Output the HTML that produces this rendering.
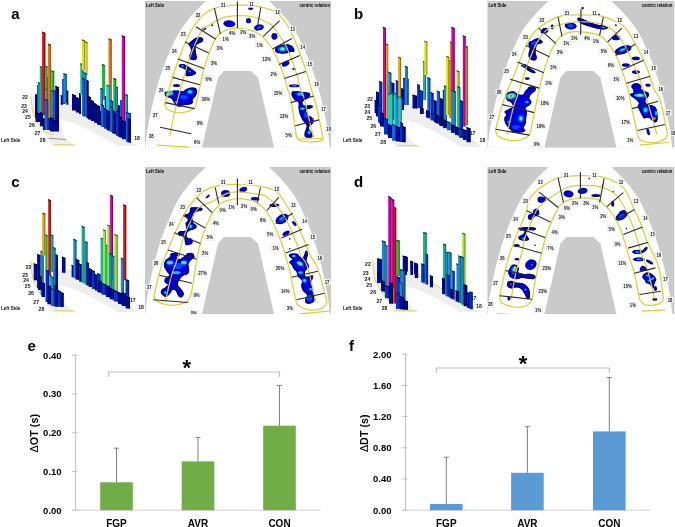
<!DOCTYPE html>
<html><head><meta charset="utf-8"><style>
html,body{margin:0;padding:0;background:#fff;}
body{width:675px;height:527px;overflow:hidden;}
svg{display:block;font-family:"Liberation Sans",sans-serif;will-change:transform;}
.tiny{font-size:5.1px;font-weight:bold;fill:#000;}
.tl{font-size:5.2px;font-weight:bold;fill:#111;text-anchor:middle;}
.l3{font-size:5.1px;font-weight:bold;fill:#111;text-anchor:middle;}
.pl{font-size:15px;font-weight:bold;fill:#000;}
.ax{font-size:9.5px;font-weight:bold;fill:#000;}
.cat{font-size:10px;font-weight:bold;fill:#000;text-anchor:middle;}
</style></head><body>
<svg width="675" height="527" viewBox="0 0 675 527">
<rect width="675" height="527" fill="#fff"/>

<text x="11.3" y="19" class="pl">a</text>
<text x="354" y="19" class="pl">b</text>
<text x="11.3" y="187.2" class="pl">c</text>
<text x="354" y="187" class="pl">d</text>
<polygon points="31,97 36,96 57,104 59,119 65,138 75,146 52,146 43,131 33,115" fill="#eeeeee"/>
<polygon points="57,103 70,104 133,143 139,146 118,146 95,133 75,123 59,119" fill="#eeeeee"/>
<path d="M30.8,94.6 C31,96.7 31.3,103.5 31.9,107.1 C32.5,110.7 33.2,113.5 34.2,116.2 C35.2,118.9 36.5,120.9 37.6,123 C38.7,125.1 39.7,127.2 41,128.7 C42.3,130.2 43.5,131.1 45.6,132.1 C47.7,133.1 52.2,134.4 53.5,134.8" fill="none" stroke="#d8d038" stroke-width="0.8"/>
<path d="M69.8,105.1 C74.8,108.1 89.6,116.8 100,123 C110.4,129.2 126.7,139.2 132,142.4" fill="none" stroke="#d8d038" stroke-width="0.8"/>
<path d="M54.4,144.5 L75,145" fill="none" stroke="#d8d038" stroke-width="0.8"/>
<polygon points="35,94 37.1,94.9 37.1,117.8 35,117.8" fill="#000a8c"/>
<polygon points="36.5,94.7 37.1,94.9 37.1,117.8 36.5,117.8" fill="#000654"/>
<polygon points="35,94 37.1,94.9 37.1,96 35,95.1" fill="#000331"/>
<polygon points="37.1,85 38.7,85.7 38.7,117.8 37.1,117.8" fill="#0532c8"/>
<polygon points="38.2,85.5 38.7,85.7 38.7,117.8 38.2,117.8" fill="#031e78"/>
<polygon points="37.1,85 38.7,85.7 38.7,86.8 37.1,86.1" fill="#011146"/>
<polygon points="37.9,82 40.9,83.3 40.9,120 37.9,120" fill="#1a8cc0"/>
<polygon points="40,82.9 40.9,83.3 40.9,120 40,120" fill="#0f5473"/>
<polygon points="37.9,82 40.9,83.3 40.9,84.4 37.9,83.1" fill="#093143"/>
<polygon points="39.8,66 42.1,67 42.1,118 39.8,118" fill="#1eb48c"/>
<polygon points="41.4,66.7 42.1,67 42.1,118 41.4,118" fill="#126c54"/>
<polygon points="39.8,66 42.1,67 42.1,68.1 39.8,67.1" fill="#0a3e31"/>
<polygon points="47,77 48.5,77.7 48.5,110 47,110" fill="#0532c8"/>
<polygon points="47,77 48.5,77.7 48.5,78.8 47,78.1" fill="#011146"/>
<polygon points="42.1,31.5 45.3,32.9 45.3,115.4 42.1,115.4" fill="#cc1818"/>
<polygon points="44.3,32.5 45.3,32.9 45.3,115.4 44.3,115.4" fill="#7a0e0e"/>
<polygon points="42.1,31.5 45.3,32.9 45.3,34 42.1,32.6" fill="#470808"/>
<polygon points="45.3,65.7 47.4,66.6 47.4,110 45.3,110" fill="#22c03c"/>
<polygon points="46.8,66.4 47.4,66.6 47.4,110 46.8,110" fill="#147324"/>
<polygon points="45.3,65.7 47.4,66.6 47.4,67.7 45.3,66.8" fill="#0b4315"/>
<polygon points="45.1,88.5 47,89.4 47,112 45.1,112" fill="#28c8c8"/>
<polygon points="46.4,89.1 47,89.4 47,112 46.4,112" fill="#187878"/>
<polygon points="45.1,88.5 47,89.4 47,90.5 45.1,89.6" fill="#0e4646"/>
<polygon points="47.8,43.4 50.8,44.8 50.8,118.7 47.8,118.7" fill="#da7a1e"/>
<polygon points="49.9,44.3 50.8,44.8 50.8,118.7 49.9,118.7" fill="#824912"/>
<polygon points="47.8,43.4 50.8,44.8 50.8,45.9 47.8,44.5" fill="#4c2a0a"/>
<polygon points="51.2,70.2 54.2,71.5 54.2,112 51.2,112" fill="#22c03c"/>
<polygon points="53.3,71.1 54.2,71.5 54.2,112 53.3,112" fill="#147324"/>
<polygon points="51.2,70.2 54.2,71.5 54.2,72.6 51.2,71.3" fill="#0b4315"/>
<polygon points="51,90 54,91.3 54,118 51,118" fill="#1a8cc0"/>
<polygon points="53.1,90.9 54,91.3 54,118 53.1,118" fill="#0f5473"/>
<polygon points="51,90 54,91.3 54,92.4 51,91.1" fill="#093143"/>
<polygon points="54.2,90 56.1,90.9 56.1,125 54.2,125" fill="#0532c8"/>
<polygon points="55.5,90.6 56.1,90.9 56.1,125 55.5,125" fill="#031e78"/>
<polygon points="54.2,90 56.1,90.9 56.1,92 54.2,91.1" fill="#011146"/>
<polygon points="55.3,85.8 58.8,87.2 58.8,128 55.3,128" fill="#000a8c"/>
<polygon points="57.8,86.8 58.8,87.2 58.8,128 57.8,128" fill="#000654"/>
<polygon points="55.3,85.8 58.8,87.2 58.8,88.3 55.3,86.9" fill="#000331"/>
<polygon points="44.5,98.8 48.2,100.2 48.2,130 44.5,130" fill="#1464d2"/>
<polygon points="47.2,99.8 48.2,100.2 48.2,130 47.2,130" fill="#0c3c7e"/>
<polygon points="44.5,98.8 48.2,100.2 48.2,101.3 44.5,99.9" fill="#072349"/>
<polygon points="35.5,112 40,113.4 40,122 35.5,122" fill="#000a8c"/>
<polygon points="39,113.1 40,113.4 40,122 39,122" fill="#000654"/>
<polygon points="35.5,112 40,113.4 40,114.5 35.5,113.1" fill="#000331"/>
<polygon points="40,112 43,113.3 43,126.3 40,126.3" fill="#000a8c"/>
<polygon points="42.1,112.9 43,113.3 43,126.3 42.1,126.3" fill="#000654"/>
<polygon points="40,112 43,113.3 43,114.4 40,113.1" fill="#000331"/>
<polygon points="43,118 44.6,118.7 44.6,130.1 43,130.1" fill="#000a8c"/>
<polygon points="44.1,118.5 44.6,118.7 44.6,130.1 44.1,130.1" fill="#000654"/>
<polygon points="43,118 44.6,118.7 44.6,119.8 43,119.1" fill="#000331"/>
<polygon points="48.2,118 50,118.8 50,130.1 48.2,130.1" fill="#000a8c"/>
<polygon points="49.5,118.6 50,118.8 50,130.1 49.5,130.1" fill="#000654"/>
<polygon points="48.2,118 50,118.8 50,119.9 48.2,119.1" fill="#000331"/>
<polygon points="50,117 54,118.4 54,131.5 50,131.5" fill="#000a8c"/>
<polygon points="53,118 54,118.4 54,131.5 53,131.5" fill="#000654"/>
<polygon points="50,117 54,118.4 54,119.5 50,118.1" fill="#000331"/>
<polygon points="54,120 58.7,121.4 58.7,131.5 54,131.5" fill="#000a8c"/>
<polygon points="57.7,121.1 58.7,121.4 58.7,131.5 57.7,131.5" fill="#000654"/>
<polygon points="54,120 58.7,121.4 58.7,122.5 54,121.1" fill="#000331"/>
<polygon points="60.7,94.9 62.9,95.9 62.9,104.7 60.7,104.7" fill="#000a8c"/>
<polygon points="62.2,95.6 62.9,95.9 62.9,104.7 62.2,104.7" fill="#000654"/>
<polygon points="60.7,94.9 62.9,95.9 62.9,97 60.7,96" fill="#000331"/>
<polygon points="62.2,79 65.2,80.3 65.2,104 62.2,104" fill="#0532c8"/>
<polygon points="64.3,79.9 65.2,80.3 65.2,104 64.3,104" fill="#031e78"/>
<polygon points="62.2,79 65.2,80.3 65.2,81.4 62.2,80.1" fill="#011146"/>
<polygon points="63.3,72.9 66.7,74.3 66.7,103 63.3,103" fill="#1a8cc0"/>
<polygon points="65.7,73.9 66.7,74.3 66.7,103 65.7,103" fill="#0f5473"/>
<polygon points="63.3,72.9 66.7,74.3 66.7,75.4 63.3,74" fill="#093143"/>
<polygon points="66.4,90.3 68.2,91.1 68.2,104.7 66.4,104.7" fill="#000a8c"/>
<polygon points="67.7,90.9 68.2,91.1 68.2,104.7 67.7,104.7" fill="#000654"/>
<polygon points="66.4,90.3 68.2,91.1 68.2,92.2 66.4,91.4" fill="#000331"/>
<polygon points="72,94 76,95.4 76,110.4 72,110.4" fill="#000a8c"/>
<polygon points="75,95 76,95.4 76,110.4 75,110.4" fill="#000654"/>
<polygon points="72,94 76,95.4 76,96.5 72,95.1" fill="#000331"/>
<polygon points="76,97 79,98.3 79,112.4 76,112.4" fill="#000a8c"/>
<polygon points="78.1,97.9 79,98.3 79,112.4 78.1,112.4" fill="#000654"/>
<polygon points="76,97 79,98.3 79,99.4 76,98.1" fill="#000331"/>
<polygon points="79,93 81,93.9 81,113.9 79,113.9" fill="#000a8c"/>
<polygon points="80.4,93.6 81,93.9 81,113.9 80.4,113.9" fill="#000654"/>
<polygon points="79,93 81,93.9 81,95 79,94.1" fill="#000331"/>
<polygon points="80.3,63.2 83.5,64.6 83.5,95 80.3,95" fill="#1eb48c"/>
<polygon points="82.5,64.2 83.5,64.6 83.5,95 82.5,95" fill="#126c54"/>
<polygon points="80.3,63.2 83.5,64.6 83.5,65.7 80.3,64.3" fill="#0a3e31"/>
<polygon points="81.9,39.3 85.2,40.7 85.2,70 81.9,70" fill="#e2e022"/>
<polygon points="84.2,40.3 85.2,40.7 85.2,70 84.2,70" fill="#878614"/>
<polygon points="81.9,39.3 85.2,40.7 85.2,41.8 81.9,40.4" fill="#4f4e0b"/>
<polygon points="85.2,41.3 87.4,42.3 87.4,75 85.2,75" fill="#e2e022"/>
<polygon points="86.7,42 87.4,42.3 87.4,75 86.7,75" fill="#878614"/>
<polygon points="85.2,41.3 87.4,42.3 87.4,43.4 85.2,42.4" fill="#4f4e0b"/>
<polygon points="83.3,71.9 86.5,73.3 86.5,116.8 83.3,116.8" fill="#1a8cc0"/>
<polygon points="85.5,72.9 86.5,73.3 86.5,116.8 85.5,116.8" fill="#0f5473"/>
<polygon points="83.3,71.9 86.5,73.3 86.5,74.4 83.3,73" fill="#093143"/>
<polygon points="82,77.8 85,79.1 85,115.9 82,115.9" fill="#1464d2"/>
<polygon points="84.1,78.7 85,79.1 85,115.9 84.1,115.9" fill="#0c3c7e"/>
<polygon points="82,77.8 85,79.1 85,80.2 82,78.9" fill="#072349"/>
<polygon points="86.5,80 88.5,80.9 88.5,118.2 86.5,118.2" fill="#000a8c"/>
<polygon points="87.9,80.6 88.5,80.9 88.5,118.2 87.9,118.2" fill="#000654"/>
<polygon points="86.5,80 88.5,80.9 88.5,82 86.5,81.1" fill="#000331"/>
<polygon points="88,96 91,97.3 91,119.4 88,119.4" fill="#000a8c"/>
<polygon points="90.1,96.9 91,97.3 91,119.4 90.1,119.4" fill="#000654"/>
<polygon points="88,96 91,97.3 91,98.4 88,97.1" fill="#000331"/>
<polygon points="91,100 94,101.3 94,121.1 91,121.1" fill="#000a8c"/>
<polygon points="93.1,100.9 94,101.3 94,121.1 93.1,121.1" fill="#000654"/>
<polygon points="91,100 94,101.3 94,102.4 91,101.1" fill="#000331"/>
<polygon points="94,103 97,104.3 97,122.8 94,122.8" fill="#000a8c"/>
<polygon points="96.1,103.9 97,104.3 97,122.8 96.1,122.8" fill="#000654"/>
<polygon points="94,103 97,104.3 97,105.4 94,104.1" fill="#000331"/>
<polygon points="97,105 100,106.3 100,124.6 97,124.6" fill="#000a8c"/>
<polygon points="99.1,105.9 100,106.3 100,124.6 99.1,124.6" fill="#000654"/>
<polygon points="97,105 100,106.3 100,107.4 97,106.1" fill="#000331"/>
<polygon points="101.9,63.9 104.6,65.1 104.6,100 101.9,100" fill="#22c03c"/>
<polygon points="103.8,64.8 104.6,65.1 104.6,100 103.8,100" fill="#147324"/>
<polygon points="101.9,63.9 104.6,65.1 104.6,66.2 101.9,65" fill="#0b4315"/>
<polygon points="100.3,87.8 103,89 103,126.3 100.3,126.3" fill="#1a8cc0"/>
<polygon points="102.2,88.7 103,89 103,126.3 102.2,126.3" fill="#0f5473"/>
<polygon points="100.3,87.8 103,89 103,90.1 100.3,88.9" fill="#093143"/>
<polygon points="104.6,96 106.2,96.7 106.2,128.6 104.6,128.6" fill="#0532c8"/>
<polygon points="105.7,96.5 106.2,96.7 106.2,128.6 105.7,128.6" fill="#031e78"/>
<polygon points="104.6,96 106.2,96.7 106.2,97.8 104.6,97.1" fill="#011146"/>
<polygon points="108.5,38.2 111.6,39.6 111.6,105 108.5,105" fill="#da7a1e"/>
<polygon points="110.7,39.2 111.6,39.6 111.6,105 110.7,105" fill="#824912"/>
<polygon points="108.5,38.2 111.6,39.6 111.6,40.7 108.5,39.3" fill="#4c2a0a"/>
<polygon points="106.2,84.5 110.2,85.9 110.2,130.1 106.2,130.1" fill="#28c8c8"/>
<polygon points="109.2,85.5 110.2,85.9 110.2,130.1 109.2,130.1" fill="#187878"/>
<polygon points="106.2,84.5 110.2,85.9 110.2,87 106.2,85.6" fill="#0e4646"/>
<polygon points="110.2,100 113.2,101.3 113.2,132.1 110.2,132.1" fill="#1464d2"/>
<polygon points="112.3,100.9 113.2,101.3 113.2,132.1 112.3,132.1" fill="#0c3c7e"/>
<polygon points="110.2,100 113.2,101.3 113.2,102.4 110.2,101.1" fill="#072349"/>
<polygon points="113.2,77.8 116.2,79.1 116.2,115 113.2,115" fill="#22c03c"/>
<polygon points="115.3,78.7 116.2,79.1 116.2,115 115.3,115" fill="#147324"/>
<polygon points="113.2,77.8 116.2,79.1 116.2,80.2 113.2,78.9" fill="#0b4315"/>
<polygon points="115.8,86.5 118,87.5 118,135.3 115.8,135.3" fill="#1a8cc0"/>
<polygon points="117.3,87.2 118,87.5 118,135.3 117.3,135.3" fill="#0f5473"/>
<polygon points="115.8,86.5 118,87.5 118,88.6 115.8,87.6" fill="#093143"/>
<polygon points="121.8,35.3 125.1,36.7 125.1,125 121.8,125" fill="#c40aa8"/>
<polygon points="124.1,36.3 125.1,36.7 125.1,125 124.1,125" fill="#750664"/>
<polygon points="121.8,35.3 125.1,36.7 125.1,37.8 121.8,36.4" fill="#44033a"/>
<polygon points="118,105 121,106.3 121,136.7 118,136.7" fill="#000a8c"/>
<polygon points="120.1,105.9 121,106.3 121,136.7 120.1,136.7" fill="#000654"/>
<polygon points="118,105 121,106.3 121,107.4 118,106.1" fill="#000331"/>
<polygon points="120,100 122,100.9 122,137.6 120,137.6" fill="#1464d2"/>
<polygon points="121.4,100.6 122,100.9 122,137.6 121.4,137.6" fill="#0c3c7e"/>
<polygon points="120,100 122,100.9 122,102 120,101.1" fill="#072349"/>
<polygon points="125.1,93.8 128,95.1 128,133 125.1,133" fill="#1eb48c"/>
<polygon points="127.1,94.7 128,95.1 128,133 127.1,133" fill="#126c54"/>
<polygon points="125.1,93.8 128,95.1 128,96.2 125.1,94.9" fill="#0a3e31"/>
<polygon points="112,110 115,111.3 115,133.3 112,133.3" fill="#000a8c"/>
<polygon points="114.1,110.9 115,111.3 115,133.3 114.1,133.3" fill="#000654"/>
<polygon points="112,110 115,111.3 115,112.4 112,111.1" fill="#000331"/>
<polygon points="116,112 119,113.3 119,135.6 116,135.6" fill="#0532c8"/>
<polygon points="118.1,112.9 119,113.3 119,135.6 118.1,135.6" fill="#031e78"/>
<polygon points="116,112 119,113.3 119,114.4 116,113.1" fill="#011146"/>
<polygon points="122,120 126,121.4 126,139.3 122,139.3" fill="#000a8c"/>
<polygon points="125,121 126,121.4 126,139.3 125,139.3" fill="#000654"/>
<polygon points="122,120 126,121.4 126,122.5 122,121.1" fill="#000331"/>
<polygon points="126,112 131,113.4 131,141.9 126,141.9" fill="#1464d2"/>
<polygon points="130,113.1 131,113.4 131,141.9 130,141.9" fill="#0c3c7e"/>
<polygon points="126,112 131,113.4 131,114.5 126,113.1" fill="#072349"/>
<polygon points="127.5,118 131,119.4 131,142.5 127.5,142.5" fill="#000a8c"/>
<polygon points="130,119 131,119.4 131,142.5 130,142.5" fill="#000654"/>
<polygon points="127.5,118 131,119.4 131,120.5 127.5,119.1" fill="#000331"/>
<polygon points="98,110 101,111.3 101,125.1 98,125.1" fill="#000a8c"/>
<polygon points="100.1,110.9 101,111.3 101,125.1 100.1,125.1" fill="#000654"/>
<polygon points="98,110 101,111.3 101,112.4 98,111.1" fill="#000331"/>
<polygon points="101,104 104,105.3 104,126.9 101,126.9" fill="#1464d2"/>
<polygon points="103.1,104.9 104,105.3 104,126.9 103.1,126.9" fill="#0c3c7e"/>
<polygon points="101,104 104,105.3 104,106.4 101,105.1" fill="#072349"/>
<polygon points="104,108 107,109.3 107,128.6 104,128.6" fill="#0532c8"/>
<polygon points="106.1,108.9 107,109.3 107,128.6 106.1,128.6" fill="#031e78"/>
<polygon points="104,108 107,109.3 107,110.4 104,109.1" fill="#011146"/>
<polygon points="107,110 110,111.3 110,130.4 107,130.4" fill="#000a8c"/>
<polygon points="109.1,110.9 110,111.3 110,130.4 109.1,130.4" fill="#000654"/>
<polygon points="107,110 110,111.3 110,112.4 107,111.1" fill="#000331"/>
<polygon points="110,106 113,107.3 113,132.1 110,132.1" fill="#1464d2"/>
<polygon points="112.1,106.9 113,107.3 113,132.1 112.1,132.1" fill="#0c3c7e"/>
<polygon points="110,106 113,107.3 113,108.4 110,107.1" fill="#072349"/>
<polygon points="113,112 116,113.3 116,133.8 113,133.8" fill="#000a8c"/>
<polygon points="115.1,112.9 116,113.3 116,133.8 115.1,133.8" fill="#000654"/>
<polygon points="113,112 116,113.3 116,114.4 113,113.1" fill="#000331"/>
<polygon points="116,110 119,111.3 119,135.6 116,135.6" fill="#0532c8"/>
<polygon points="118.1,110.9 119,111.3 119,135.6 118.1,135.6" fill="#031e78"/>
<polygon points="116,110 119,111.3 119,112.4 116,111.1" fill="#011146"/>
<polygon points="119,116 122,117.3 122,137.3 119,137.3" fill="#000a8c"/>
<polygon points="121.1,116.9 122,117.3 122,137.3 121.1,137.3" fill="#000654"/>
<polygon points="119,116 122,117.3 122,118.4 119,117.1" fill="#000331"/>
<text x="25" y="99.2" class="l3">22</text>
<text x="24" y="107.5" class="l3">23</text>
<text x="25" y="113.2" class="l3">24</text>
<text x="27.9" y="119.4" class="l3">25</text>
<text x="31.9" y="126.5" class="l3">26</text>
<text x="37.6" y="135.1" class="l3">27</text>
<text x="42.7" y="141.9" class="l3">28</text>
<text x="137" y="140.1" class="l3">18</text>
<text x="1" y="142.3" class="l3" style="font-size:4.6px;text-anchor:start">Left Side</text>
<line x1="48.7" y1="138.2" x2="65.8" y2="139.6" stroke="#555" stroke-width="0.6"/>
<rect x="145" y="1" width="186" height="146.4" fill="#cacaca"/>
<path d="M206,1 L196.7,10 L187.7,20 L180.4,30 L174.9,40 L170.5,50 L166,60 L162.5,70 L159,80 L156.2,90 L153.5,100 L151,111 L148.8,122 L147,132 L145.8,142 L145.3,147.4 L329.7,147.4 L329.2,142 L328,132 L326.2,122 L324,111 L321.5,100 L318.8,90 L316,80 L312.5,70 L309,60 L304.5,50 L300.1,40 L294.6,30 L287.3,20 L278.3,10 L269,1Z" fill="#fff"/>
<polygon points="224,71 251,71 258,77.5 274,147.4 202,147.4 218,77.5" fill="#cacaca"/>
<g transform="translate(229.3,23.7) rotate(5)"><ellipse rx="6" ry="3.4" fill="#000088"/><ellipse rx="4.9" ry="2.3" fill="#0000ee"/></g>
<g transform="translate(250.7,8.6) rotate(0)"><ellipse rx="2.6" ry="1.4" fill="#000088"/><ellipse rx="1.5" ry="0.6" fill="#0000ee"/></g>
<g transform="translate(248.5,20.7) rotate(0)"><ellipse rx="2.5" ry="2.6" fill="#000088"/><ellipse rx="1.4" ry="1.5" fill="#0000ee"/></g>
<g transform="translate(258.9,27.4) rotate(-10)"><ellipse rx="5" ry="3" fill="#000088"/><ellipse rx="3.9" ry="1.9" fill="#0000ee"/><ellipse rx="2.5" ry="1.5" fill="#0048ff"/></g>
<g transform="translate(274.4,36.3) rotate(0)"><ellipse rx="3" ry="3.4" fill="#000088"/><ellipse rx="1.9" ry="2.3" fill="#0000ee"/></g>
<g transform="translate(204,28.9) rotate(-20)"><ellipse rx="2.4" ry="1.5" fill="#000088"/><ellipse rx="1.3" ry="0.6" fill="#0000ee"/></g>
<g transform="translate(212.2,25.2) rotate(0)"><ellipse rx="1" ry="1" fill="#000088"/></g>
<clipPath id="bp1"><path d="M203.3,38.9 C203.3,39.6 203.1,41 202.1,41.9 C201.1,42.8 198.5,43.2 197.4,44.2 C196.3,45.2 195.8,46.2 195.6,47.8 C195.4,49.4 196,51.9 196.2,53.7 C196.4,55.5 197.2,57.3 196.8,58.4 C196.4,59.5 195.1,60.1 193.9,60.2 C192.7,60.3 190.5,59.7 189.7,59 C188.9,58.3 188.9,57.4 189.1,56.1 C189.3,54.8 190.7,52.8 190.9,51.3 C191.1,49.8 190.7,48.4 190.3,47.2 C189.9,46 188.4,45.2 188.5,44.2 C188.6,43.2 189.8,42.3 190.9,41.3 C192,40.3 193.7,39 195,38.3 C196.3,37.6 197.4,37.4 198.6,37.3 C199.8,37.2 201.3,37.4 202.1,37.7 C202.9,38 203.3,38.2 203.3,38.9Z"/></clipPath><path d="M203.3,38.9 C203.3,39.6 203.1,41 202.1,41.9 C201.1,42.8 198.5,43.2 197.4,44.2 C196.3,45.2 195.8,46.2 195.6,47.8 C195.4,49.4 196,51.9 196.2,53.7 C196.4,55.5 197.2,57.3 196.8,58.4 C196.4,59.5 195.1,60.1 193.9,60.2 C192.7,60.3 190.5,59.7 189.7,59 C188.9,58.3 188.9,57.4 189.1,56.1 C189.3,54.8 190.7,52.8 190.9,51.3 C191.1,49.8 190.7,48.4 190.3,47.2 C189.9,46 188.4,45.2 188.5,44.2 C188.6,43.2 189.8,42.3 190.9,41.3 C192,40.3 193.7,39 195,38.3 C196.3,37.6 197.4,37.4 198.6,37.3 C199.8,37.2 201.3,37.4 202.1,37.7 C202.9,38 203.3,38.2 203.3,38.9Z" fill="#0000e4" stroke="#00008a" stroke-width="3.6" stroke-linejoin="round" clip-path="url(#bp1)"/>
<clipPath id="bp2"><path d="M179,65 C179.6,64.5 181.9,64 183.2,64.1 C184.5,64.2 185.5,65 186.7,65.6 C187.9,66.2 189,67 190.3,67.9 C191.6,68.8 193.4,70.1 194.4,70.9 C195.4,71.7 196.3,72 196.2,72.7 C196.1,73.4 195.1,74.4 193.9,75 C192.7,75.6 190.5,76.1 189.1,76.2 C187.7,76.3 186.1,76.4 185.6,75.6 C185.1,74.8 186.5,72.7 186.1,71.5 C185.7,70.3 184.3,69.2 183.2,68.5 C182.1,67.8 180.3,67.9 179.6,67.3 C178.9,66.7 178.4,65.5 179,65Z"/></clipPath><path d="M179,65 C179.6,64.5 181.9,64 183.2,64.1 C184.5,64.2 185.5,65 186.7,65.6 C187.9,66.2 189,67 190.3,67.9 C191.6,68.8 193.4,70.1 194.4,70.9 C195.4,71.7 196.3,72 196.2,72.7 C196.1,73.4 195.1,74.4 193.9,75 C192.7,75.6 190.5,76.1 189.1,76.2 C187.7,76.3 186.1,76.4 185.6,75.6 C185.1,74.8 186.5,72.7 186.1,71.5 C185.7,70.3 184.3,69.2 183.2,68.5 C182.1,67.8 180.3,67.9 179.6,67.3 C178.9,66.7 178.4,65.5 179,65Z" fill="#0000e4" stroke="#00008a" stroke-width="3.6" stroke-linejoin="round" clip-path="url(#bp2)"/>
<g transform="translate(182.5,66) rotate(0)"><ellipse rx="2" ry="1" fill="#0048ff"/><ellipse rx="1.2" ry="0.6" fill="#00c8f0"/></g>
<g transform="translate(189.5,71.5) rotate(0)"><ellipse rx="1.5" ry="1" fill="#0048ff"/><ellipse rx="0.9" ry="0.6" fill="#00c8f0"/></g>
<g transform="translate(176.5,85.6) rotate(0)"><ellipse rx="3.5" ry="1.5" fill="#000088"/><ellipse rx="2.4" ry="0.6" fill="#0000ee"/></g>
<clipPath id="bp3"><path d="M164.6,92.6 C165,91.7 166.6,91.6 168.6,91.3 C170.6,91 174.3,90.6 176.6,90.6 C178.9,90.6 181,91.5 182.6,91.3 C184.2,91.1 184.7,89.9 185.9,89.3 C187.1,88.7 188.4,87.9 189.9,87.7 C191.4,87.5 194,87.5 195.2,88 C196.4,88.5 197.1,89.3 197.2,90.6 C197.3,91.9 196.6,94.5 195.8,96 C195,97.5 192.9,98.8 192.5,99.9 C192.1,101 193.6,101.8 193.2,102.6 C192.8,103.4 191.4,104.2 189.9,104.6 C188.4,105 185.5,104.9 183.9,105.2 C182.3,105.5 181.8,106.5 180.6,106.6 C179.4,106.7 177.7,106.6 176.6,105.9 C175.5,105.2 174.8,103.8 173.9,102.6 C173,101.4 172.6,99.6 171.3,98.6 C170,97.6 167,97.6 165.9,96.6 C164.8,95.6 164.2,93.5 164.6,92.6Z"/></clipPath><path d="M164.6,92.6 C165,91.7 166.6,91.6 168.6,91.3 C170.6,91 174.3,90.6 176.6,90.6 C178.9,90.6 181,91.5 182.6,91.3 C184.2,91.1 184.7,89.9 185.9,89.3 C187.1,88.7 188.4,87.9 189.9,87.7 C191.4,87.5 194,87.5 195.2,88 C196.4,88.5 197.1,89.3 197.2,90.6 C197.3,91.9 196.6,94.5 195.8,96 C195,97.5 192.9,98.8 192.5,99.9 C192.1,101 193.6,101.8 193.2,102.6 C192.8,103.4 191.4,104.2 189.9,104.6 C188.4,105 185.5,104.9 183.9,105.2 C182.3,105.5 181.8,106.5 180.6,106.6 C179.4,106.7 177.7,106.6 176.6,105.9 C175.5,105.2 174.8,103.8 173.9,102.6 C173,101.4 172.6,99.6 171.3,98.6 C170,97.6 167,97.6 165.9,96.6 C164.8,95.6 164.2,93.5 164.6,92.6Z" fill="#0000e4" stroke="#00008a" stroke-width="3.6" stroke-linejoin="round" clip-path="url(#bp3)"/>
<g transform="translate(169.5,93.5) rotate(-20)"><ellipse rx="4" ry="2.2" fill="#00c8f0"/><ellipse rx="2.5" ry="1.4" fill="#40f080"/><ellipse rx="1.5" ry="0.8" fill="#ff8000"/></g>
<g transform="translate(190,91.8) rotate(0)"><ellipse rx="3.5" ry="2.5" fill="#0048ff"/><ellipse rx="2.2" ry="1.6" fill="#00c8f0"/><ellipse rx="1.3" ry="1" fill="#40f080"/></g>
<g transform="translate(176,102) rotate(0)"><ellipse rx="1" ry="1" fill="#ff8000"/></g>
<g transform="translate(184,97) rotate(0)"><ellipse rx="4" ry="2" fill="#0048ff"/></g>
<clipPath id="bp4"><path d="M274.9,50.1 C274.9,49 276.1,47.5 277.3,46.6 C278.5,45.7 280.2,45.2 282,44.8 C283.8,44.4 286.2,44 287.9,44.2 C289.6,44.4 291,45.1 292.1,46 C293.2,46.9 294.1,48.6 294.4,49.6 C294.7,50.6 294.5,51.5 293.9,51.9 C293.3,52.3 291.9,51.7 290.9,51.9 C289.9,52.1 289.4,52.8 287.9,53.1 C286.4,53.4 283.8,53.7 282,53.7 C280.2,53.7 278.5,53.7 277.3,53.1 C276.1,52.5 274.9,51.2 274.9,50.1Z"/></clipPath><path d="M274.9,50.1 C274.9,49 276.1,47.5 277.3,46.6 C278.5,45.7 280.2,45.2 282,44.8 C283.8,44.4 286.2,44 287.9,44.2 C289.6,44.4 291,45.1 292.1,46 C293.2,46.9 294.1,48.6 294.4,49.6 C294.7,50.6 294.5,51.5 293.9,51.9 C293.3,52.3 291.9,51.7 290.9,51.9 C289.9,52.1 289.4,52.8 287.9,53.1 C286.4,53.4 283.8,53.7 282,53.7 C280.2,53.7 278.5,53.7 277.3,53.1 C276.1,52.5 274.9,51.2 274.9,50.1Z" fill="#0000e4" stroke="#00008a" stroke-width="3.6" stroke-linejoin="round" clip-path="url(#bp4)"/>
<g transform="translate(282.5,49) rotate(0)"><ellipse rx="5" ry="3" fill="#0048ff"/><ellipse rx="3.1" ry="1.9" fill="#00c8f0"/><ellipse rx="1.9" ry="1.2" fill="#40f080"/><ellipse rx="1.2" ry="0.7" fill="#f0f000"/></g>
<g transform="translate(285.6,63.8) rotate(-25)"><ellipse rx="4" ry="2.5" fill="#000088"/><ellipse rx="2.9" ry="1.4" fill="#0000ee"/></g>
<g transform="translate(294.1,68.9) rotate(0)"><ellipse rx="2" ry="1" fill="#000088"/></g>
<g transform="translate(294.4,85.7) rotate(0)"><ellipse rx="5.5" ry="1.5" fill="#000088"/><ellipse rx="4.4" ry="0.6" fill="#0000ee"/><ellipse rx="2.8" ry="0.8" fill="#0048ff"/><ellipse rx="1.9" ry="0.5" fill="#00b8f0"/></g>
<clipPath id="bp5"><path d="M291.9,92 C292.6,91.2 293.9,91.3 295.9,91.3 C297.9,91.3 301.6,91.7 303.9,92 C306.2,92.3 308.9,92.4 309.8,93.3 C310.7,94.2 310,96.2 309.2,97.3 C308.4,98.4 306.3,99.1 305.2,99.9 C304.1,100.7 302.7,101 302.5,101.9 C302.3,102.8 302.6,104.7 303.9,105.2 C305.2,105.8 308.9,105 310.5,105.2 C312.1,105.4 313.2,106 313.2,106.6 C313.2,107.2 311.6,108 310.5,108.6 C309.4,109.1 307.1,108.9 306.5,109.9 C305.9,110.9 306.3,113.4 307.2,114.6 C308.1,115.8 310.7,116.3 311.8,117.2 C312.9,118.1 313.7,118.8 313.8,119.9 C313.9,121 313.2,122.9 312.5,123.9 C311.8,124.9 310.4,124.9 309.8,125.8 C309.2,126.7 308.8,128 309.2,129.2 C309.6,130.4 311.8,132 312.5,133.2 C313.2,134.4 313.8,135.7 313.2,136.5 C312.6,137.3 310.5,137.7 309.2,137.8 C307.9,137.9 306,137.9 305.2,137.1 C304.4,136.3 304.4,134.5 304.5,133.2 C304.6,131.9 305.5,130.5 305.8,129.2 C306.1,127.9 307.1,126.8 306.5,125.2 C305.9,123.7 303.6,121.7 302.5,119.9 C301.4,118.1 300.6,116.5 299.9,114.6 C299.2,112.7 298.7,110.6 298.5,108.6 C298.3,106.6 299.1,104 298.5,102.6 C297.9,101.1 295.7,101 294.6,99.9 C293.5,98.8 292.3,97.3 291.9,96 C291.4,94.7 291.2,92.8 291.9,92Z"/></clipPath><path d="M291.9,92 C292.6,91.2 293.9,91.3 295.9,91.3 C297.9,91.3 301.6,91.7 303.9,92 C306.2,92.3 308.9,92.4 309.8,93.3 C310.7,94.2 310,96.2 309.2,97.3 C308.4,98.4 306.3,99.1 305.2,99.9 C304.1,100.7 302.7,101 302.5,101.9 C302.3,102.8 302.6,104.7 303.9,105.2 C305.2,105.8 308.9,105 310.5,105.2 C312.1,105.4 313.2,106 313.2,106.6 C313.2,107.2 311.6,108 310.5,108.6 C309.4,109.1 307.1,108.9 306.5,109.9 C305.9,110.9 306.3,113.4 307.2,114.6 C308.1,115.8 310.7,116.3 311.8,117.2 C312.9,118.1 313.7,118.8 313.8,119.9 C313.9,121 313.2,122.9 312.5,123.9 C311.8,124.9 310.4,124.9 309.8,125.8 C309.2,126.7 308.8,128 309.2,129.2 C309.6,130.4 311.8,132 312.5,133.2 C313.2,134.4 313.8,135.7 313.2,136.5 C312.6,137.3 310.5,137.7 309.2,137.8 C307.9,137.9 306,137.9 305.2,137.1 C304.4,136.3 304.4,134.5 304.5,133.2 C304.6,131.9 305.5,130.5 305.8,129.2 C306.1,127.9 307.1,126.8 306.5,125.2 C305.9,123.7 303.6,121.7 302.5,119.9 C301.4,118.1 300.6,116.5 299.9,114.6 C299.2,112.7 298.7,110.6 298.5,108.6 C298.3,106.6 299.1,104 298.5,102.6 C297.9,101.1 295.7,101 294.6,99.9 C293.5,98.8 292.3,97.3 291.9,96 C291.4,94.7 291.2,92.8 291.9,92Z" fill="#0000e4" stroke="#00008a" stroke-width="3.6" stroke-linejoin="round" clip-path="url(#bp5)"/>
<g transform="translate(300,94) rotate(0)"><ellipse rx="4" ry="2" fill="#0048ff"/><ellipse rx="2.5" ry="1.2" fill="#00c8f0"/></g>
<g transform="translate(302.5,95.3) rotate(0)"><ellipse rx="1" ry="1" fill="#ff8000"/></g>
<g transform="translate(302.5,108.6) rotate(0)"><ellipse rx="2.5" ry="1.2" fill="#00c8f0"/><ellipse rx="1.6" ry="0.7" fill="#40f080"/></g>
<g transform="translate(313,119.5) rotate(0)"><ellipse rx="1" ry="1" fill="#ff00c0"/></g>
<g transform="translate(309.2,132.5) rotate(0)"><ellipse rx="2" ry="2" fill="#0048ff"/><ellipse rx="1.2" ry="1.2" fill="#00c8f0"/><ellipse rx="0.8" ry="0.8" fill="#40f080"/></g>
<g transform="translate(306,115) rotate(0)"><ellipse rx="2" ry="3" fill="#0048ff"/></g>
<text transform="translate(146,6.9) scale(0.84,1)" class="tiny">Left Side</text>
<text transform="translate(330,6.9) scale(0.84,1)" class="tiny" text-anchor="end">centric relation</text>
<path d="M164.6,104 C165.3,101.7 167.7,94.5 169,90 C170.3,85.5 170.9,82 172.5,77 C174.1,72 176.2,65.8 178.4,60 C180.6,54.2 183.4,47 185.6,42 C187.8,37 188.8,34.3 191.5,30 C194.2,25.7 198,19.9 201.9,16.3 C205.8,12.7 209.3,9.9 215.2,8.1 C221.1,6.2 230,5.4 237.4,5.2 C244.8,5 252.9,5.3 259.6,6.7 C266.3,8.1 272.5,9.8 277.4,13.3 C282.3,16.9 285.9,22.9 289,28 C292.1,33.1 294,38.7 296.2,44 C298.4,49.3 300.1,54 302.1,59.6 C304.1,65.2 306.5,72.3 308.1,77.4 C309.7,82.5 310.3,85.6 311.6,90 C312.9,94.4 313.9,96 315.8,104 C317.7,112 321.9,132.2 323.1,137.8" fill="none" stroke="#d8d038" stroke-width="1.25"/>
<path d="M323.1,137.8 C322.8,138.3 323.6,139.9 321.5,140.6 C319.4,141.3 314.1,141.8 310.5,141.8 C306.9,141.8 302.2,141.3 299.9,140.5 C297.6,139.7 297.1,137.7 296.5,137.1" fill="none" stroke="#d8d038" stroke-width="1.25"/>
<path d="M296.5,137.1 C295.6,131.1 292.6,109.1 291.2,101.3 C289.8,93.5 289,94 287.9,90 C286.8,86 285.8,81.7 284.4,77.4 C283,73.1 281.6,69.1 279.6,64.4 C277.6,59.7 275.3,53.5 272.5,49 C269.7,44.5 266.1,40.1 263,37.1 C259.9,34.1 257.9,32.7 253.6,31.2 C249.3,29.7 241.8,28.4 237.4,28.1 C233,27.8 230.4,28.1 227,29.6 C223.6,31.1 219.6,33.2 216.7,37 C213.8,40.8 211.3,47.5 209.3,52.5 C207.3,57.5 206,61.5 204.5,66.7 C203,72 201.9,77.6 200.5,84 C199.1,90.4 196.6,101.7 195.8,105.2" fill="none" stroke="#d8d038" stroke-width="1.25"/>
<path d="M195.8,105.2 C195.5,105.8 195.6,107.5 193.9,108.6 C192.2,109.7 188.8,111.2 185.9,111.9 C183,112.6 179.7,113 176.6,112.6 C173.5,112.1 169.3,110.6 167.3,109.2 C165.3,107.8 165.1,104.9 164.6,104" fill="none" stroke="#d8d038" stroke-width="1.25"/>
<path d="M169.9,135.8 C170.7,131.8 172.9,119.5 174.6,111.9 C176.3,104.3 178.6,96.2 180.2,90 C181.8,83.8 182.9,80.1 184.4,75 C185.9,69.9 187.3,64.7 189.1,59.6 C190.9,54.5 192.8,49.1 195,44.2 C197.2,39.3 199.7,33.2 202.1,30 C204.5,26.8 205.9,27.2 209.3,25.2 C212.7,23.2 217.9,19.4 222.6,17.8 C227.3,16.2 232.2,15.7 237.4,15.6 C242.6,15.5 248.3,15.7 253.7,17 C259.1,18.4 266.4,21.5 270,23.7 C273.6,25.9 273.1,26.8 275.5,30 C277.9,33.2 281.9,38.6 284.4,43 C286.9,47.4 288.3,51.1 290.3,56.1 C292.3,61.1 294.4,67 296.2,72.7 C298,78.4 299.6,85.5 301,90 C302.4,94.5 302.5,92.1 304.5,99.9 C306.5,107.8 311.8,130.9 313.2,137.1" fill="none" stroke="#d8d038" stroke-width="1.25"/>
<path d="M156.6,145.1 L189.2,147.1" fill="none" stroke="#d8d038" stroke-width="1.25"/>
<path d="M298.5,139.1 L322.5,138.5" fill="none" stroke="#d8d038" stroke-width="1.25"/>
<line x1="237.4" y1="1.5" x2="237.4" y2="28.1" stroke="#2a2a2a" stroke-width="1.1"/>
<line x1="214.4" y1="8.1" x2="220.4" y2="34" stroke="#2a2a2a" stroke-width="1.1"/>
<line x1="260.8" y1="7.4" x2="256.7" y2="31" stroke="#2a2a2a" stroke-width="1.1"/>
<line x1="279.6" y1="20.7" x2="263.3" y2="36.3" stroke="#2a2a2a" stroke-width="1.1"/>
<line x1="195.9" y1="26.7" x2="215.9" y2="39.3" stroke="#2a2a2a" stroke-width="1.1"/>
<line x1="185" y1="41.9" x2="208.7" y2="53.1" stroke="#2a2a2a" stroke-width="1.1"/>
<line x1="177.9" y1="59" x2="203.9" y2="68.5" stroke="#2a2a2a" stroke-width="1.1"/>
<line x1="172.5" y1="77.4" x2="199.8" y2="84.8" stroke="#2a2a2a" stroke-width="1.1"/>
<line x1="165.3" y1="102.6" x2="194.5" y2="108.6" stroke="#2a2a2a" stroke-width="1.1"/>
<line x1="160" y1="127.2" x2="191.2" y2="133.8" stroke="#2a2a2a" stroke-width="1.1"/>
<line x1="272.5" y1="49" x2="292" y2="38.5" stroke="#2a2a2a" stroke-width="1.1"/>
<line x1="279" y1="64.4" x2="299.8" y2="55.5" stroke="#2a2a2a" stroke-width="1.1"/>
<line x1="284.4" y1="78.6" x2="305.7" y2="71.5" stroke="#2a2a2a" stroke-width="1.1"/>
<line x1="290.6" y1="102.6" x2="313.8" y2="96" stroke="#2a2a2a" stroke-width="1.1"/>
<line x1="295.2" y1="125.8" x2="319.1" y2="119.9" stroke="#2a2a2a" stroke-width="1.1"/>
<rect x="219.9" y="2.4" width="6.7" height="5.6" fill="#fff" stroke="#e2e2e2" stroke-width="0.5"/>
<text transform="translate(223.3,7.1) scale(0.82,1)" class="tl">21</text>
<rect x="248.1" y="1.6" width="6.7" height="5.6" fill="#fff" stroke="#e2e2e2" stroke-width="0.5"/>
<text transform="translate(251.5,6.3) scale(0.82,1)" class="tl">11</text>
<rect x="194.6" y="12" width="6.7" height="5.6" fill="#fff" stroke="#e2e2e2" stroke-width="0.5"/>
<text transform="translate(198,16.7) scale(0.82,1)" class="tl">22</text>
<rect x="274" y="8.8" width="6.7" height="5.6" fill="#fff" stroke="#e2e2e2" stroke-width="0.5"/>
<text transform="translate(277.4,13.5) scale(0.82,1)" class="tl">12</text>
<rect x="179.8" y="31.7" width="6.7" height="5.6" fill="#fff" stroke="#e2e2e2" stroke-width="0.5"/>
<text transform="translate(183.2,36.4) scale(0.82,1)" class="tl">23</text>
<rect x="170.9" y="48.3" width="6.7" height="5.6" fill="#fff" stroke="#e2e2e2" stroke-width="0.5"/>
<text transform="translate(174.3,53) scale(0.82,1)" class="tl">24</text>
<rect x="164.4" y="65.4" width="6.7" height="5.6" fill="#fff" stroke="#e2e2e2" stroke-width="0.5"/>
<text transform="translate(167.8,70.1) scale(0.82,1)" class="tl">25</text>
<rect x="157.9" y="86.8" width="6.7" height="5.6" fill="#fff" stroke="#e2e2e2" stroke-width="0.5"/>
<text transform="translate(161.3,91.5) scale(0.82,1)" class="tl">26</text>
<rect x="151.9" y="112" width="6.7" height="5.6" fill="#fff" stroke="#e2e2e2" stroke-width="0.5"/>
<text transform="translate(155.3,116.7) scale(0.82,1)" class="tl">27</text>
<rect x="147.9" y="133.7" width="6.7" height="5.6" fill="#fff" stroke="#e2e2e2" stroke-width="0.5"/>
<text transform="translate(151.3,138.4) scale(0.82,1)" class="tl">28</text>
<rect x="289.2" y="26.6" width="6.7" height="5.6" fill="#fff" stroke="#e2e2e2" stroke-width="0.5"/>
<text transform="translate(292.6,31.3) scale(0.82,1)" class="tl">13</text>
<rect x="299.3" y="44.4" width="6.7" height="5.6" fill="#fff" stroke="#e2e2e2" stroke-width="0.5"/>
<text transform="translate(302.7,49.1) scale(0.82,1)" class="tl">14</text>
<rect x="306.5" y="61" width="6.7" height="5.6" fill="#fff" stroke="#e2e2e2" stroke-width="0.5"/>
<text transform="translate(309.9,65.7) scale(0.82,1)" class="tl">15</text>
<rect x="313.1" y="81.5" width="6.7" height="5.6" fill="#fff" stroke="#e2e2e2" stroke-width="0.5"/>
<text transform="translate(316.5,86.2) scale(0.82,1)" class="tl">16</text>
<rect x="320.1" y="105.8" width="6.7" height="5.6" fill="#fff" stroke="#e2e2e2" stroke-width="0.5"/>
<text transform="translate(323.5,110.5) scale(0.82,1)" class="tl">17</text>
<rect x="325" y="126.6" width="6.7" height="5.6" fill="#fff" stroke="#e2e2e2" stroke-width="0.5"/>
<text transform="translate(328.4,131.3) scale(0.82,1)" class="tl">18</text>
<rect x="228.1" y="30.5" width="8.2" height="5.6" fill="#fff" stroke="#e2e2e2" stroke-width="0.5"/>
<text transform="translate(232.2,35.2) scale(0.82,1)" class="tl">4%</text>
<rect x="239.2" y="29.1" width="8.2" height="5.6" fill="#fff" stroke="#e2e2e2" stroke-width="0.5"/>
<text transform="translate(243.3,33.8) scale(0.82,1)" class="tl">2%</text>
<rect x="248.1" y="33.5" width="8.2" height="5.6" fill="#fff" stroke="#e2e2e2" stroke-width="0.5"/>
<text transform="translate(252.2,38.2) scale(0.82,1)" class="tl">3%</text>
<rect x="221.5" y="36.5" width="8.2" height="5.6" fill="#fff" stroke="#e2e2e2" stroke-width="0.5"/>
<text transform="translate(225.6,41.2) scale(0.82,1)" class="tl">1%</text>
<rect x="255.5" y="42.4" width="8.2" height="5.6" fill="#fff" stroke="#e2e2e2" stroke-width="0.5"/>
<text transform="translate(259.6,47.1) scale(0.82,1)" class="tl">1%</text>
<rect x="215.5" y="45.3" width="8.2" height="5.6" fill="#fff" stroke="#e2e2e2" stroke-width="0.5"/>
<text transform="translate(219.6,50) scale(0.82,1)" class="tl">3%</text>
<rect x="209.9" y="60.2" width="8.2" height="5.6" fill="#fff" stroke="#e2e2e2" stroke-width="0.5"/>
<text transform="translate(214,64.9) scale(0.82,1)" class="tl">3%</text>
<rect x="204.6" y="75.8" width="8.2" height="5.6" fill="#fff" stroke="#e2e2e2" stroke-width="0.5"/>
<text transform="translate(208.7,80.5) scale(0.82,1)" class="tl">6%</text>
<rect x="200.5" y="96.5" width="10.5" height="5.6" fill="#fff" stroke="#e2e2e2" stroke-width="0.5"/>
<text transform="translate(205.8,101.2) scale(0.82,1)" class="tl">30%</text>
<rect x="195.7" y="120.4" width="8.2" height="5.6" fill="#fff" stroke="#e2e2e2" stroke-width="0.5"/>
<text transform="translate(199.8,125.1) scale(0.82,1)" class="tl">0%</text>
<rect x="193.1" y="139.7" width="8.2" height="5.6" fill="#fff" stroke="#e2e2e2" stroke-width="0.5"/>
<text transform="translate(197.2,144.4) scale(0.82,1)" class="tl">6%</text>
<rect x="261.3" y="56.2" width="10.5" height="5.6" fill="#fff" stroke="#e2e2e2" stroke-width="0.5"/>
<text transform="translate(266.6,60.9) scale(0.82,1)" class="tl">12%</text>
<rect x="269.6" y="71.3" width="8.2" height="5.6" fill="#fff" stroke="#e2e2e2" stroke-width="0.5"/>
<text transform="translate(273.7,76) scale(0.82,1)" class="tl">2%</text>
<rect x="272.6" y="90.5" width="10.5" height="5.6" fill="#fff" stroke="#e2e2e2" stroke-width="0.5"/>
<text transform="translate(277.9,95.2) scale(0.82,1)" class="tl">15%</text>
<rect x="278.6" y="113.1" width="10.5" height="5.6" fill="#fff" stroke="#e2e2e2" stroke-width="0.5"/>
<text transform="translate(283.9,117.8) scale(0.82,1)" class="tl">13%</text>
<rect x="284.5" y="131.9" width="8.2" height="5.6" fill="#fff" stroke="#e2e2e2" stroke-width="0.5"/>
<text transform="translate(288.6,136.6) scale(0.82,1)" class="tl">5%</text>
<polygon points="375,98 380,97 401,105 403,120 409,139 419,147 396,147 387,132 377,116" fill="#eeeeee"/>
<polygon points="401,104 414,105 477,144 483,147 462,147 439,134 419,124 403,120" fill="#eeeeee"/>
<path d="M374.8,95.6 C375,97.7 375.3,104.5 375.9,108.1 C376.5,111.7 377.2,114.5 378.2,117.2 C379.1,119.9 380.5,121.9 381.6,124 C382.7,126.1 383.7,128.2 385,129.7 C386.3,131.2 387.5,132.1 389.6,133.1 C391.7,134.1 396.2,135.4 397.5,135.8" fill="none" stroke="#d8d038" stroke-width="0.8"/>
<path d="M413.8,106.1 C418.8,109.1 433.6,117.8 444,124 C454.4,130.2 470.7,140.2 476,143.4" fill="none" stroke="#d8d038" stroke-width="0.8"/>
<path d="M398.4,145.5 L419,146" fill="none" stroke="#d8d038" stroke-width="0.8"/>
<polygon points="376,91.4 379.1,92.8 379.1,116.4 376,116.4" fill="#000a8c"/>
<polygon points="378.2,92.4 379.1,92.8 379.1,116.4 378.2,116.4" fill="#000654"/>
<polygon points="376,91.4 379.1,92.8 379.1,93.9 376,92.5" fill="#000331"/>
<polygon points="379.1,80.8 382.2,82.2 382.2,123.8 379.1,123.8" fill="#0532c8"/>
<polygon points="381.3,81.8 382.2,82.2 382.2,123.8 381.3,123.8" fill="#031e78"/>
<polygon points="379.1,80.8 382.2,82.2 382.2,83.3 379.1,81.9" fill="#011146"/>
<polygon points="382.9,26.8 386,28.2 386,126.5 382.9,126.5" fill="#c40aa8"/>
<polygon points="385.1,27.8 386,28.2 386,126.5 385.1,126.5" fill="#750664"/>
<polygon points="382.9,26.8 386,28.2 386,29.3 382.9,27.9" fill="#44033a"/>
<polygon points="386,43.5 388.2,44.5 388.2,125 386,125" fill="#deaa22"/>
<polygon points="387.5,44.2 388.2,44.5 388.2,125 387.5,125" fill="#856614"/>
<polygon points="386,43.5 388.2,44.5 388.2,45.6 386,44.6" fill="#4d3b0b"/>
<polygon points="388.2,71.6 391.3,73 391.3,120 388.2,120" fill="#1a8cc0"/>
<polygon points="390.4,72.6 391.3,73 391.3,120 390.4,120" fill="#0f5473"/>
<polygon points="388.2,71.6 391.3,73 391.3,74.1 388.2,72.7" fill="#093143"/>
<polygon points="391.3,82.3 394.3,83.6 394.3,120 391.3,120" fill="#000a8c"/>
<polygon points="393.4,83.2 394.3,83.6 394.3,120 393.4,120" fill="#000654"/>
<polygon points="391.3,82.3 394.3,83.6 394.3,84.7 391.3,83.4" fill="#000331"/>
<polygon points="395.8,80 398.9,81.4 398.9,118 395.8,118" fill="#0532c8"/>
<polygon points="398,81 398.9,81.4 398.9,118 398,118" fill="#031e78"/>
<polygon points="395.8,80 398.9,81.4 398.9,82.5 395.8,81.1" fill="#011146"/>
<polygon points="398.1,56.5 401.1,57.9 401.1,118 398.1,118" fill="#deaa22"/>
<polygon points="400.2,57.4 401.1,57.9 401.1,118 400.2,118" fill="#856614"/>
<polygon points="398.1,56.5 401.1,57.9 401.1,59 398.1,57.6" fill="#4d3b0b"/>
<polygon points="403.1,77.7 408.5,79.1 408.5,105 403.1,105" fill="#0532c8"/>
<polygon points="407.5,78.8 408.5,79.1 408.5,105 407.5,105" fill="#031e78"/>
<polygon points="403.1,77.7 408.5,79.1 408.5,80.2 403.1,78.8" fill="#011146"/>
<polygon points="404.9,65.6 407.7,66.9 407.7,105 404.9,105" fill="#1a8cc0"/>
<polygon points="406.9,66.5 407.7,66.9 407.7,105 406.9,105" fill="#0f5473"/>
<polygon points="404.9,65.6 407.7,66.9 407.7,68 404.9,66.7" fill="#093143"/>
<polygon points="401,88 404,89.3 404,110 401,110" fill="#000a8c"/>
<polygon points="403.1,88.9 404,89.3 404,110 403.1,110" fill="#000654"/>
<polygon points="401,88 404,89.3 404,90.4 401,89.1" fill="#000331"/>
<polygon points="374.6,100 378,101.4 378,113.3 374.6,113.3" fill="#000a8c"/>
<polygon points="377,101 378,101.4 378,113.3 377,113.3" fill="#000654"/>
<polygon points="374.6,100 378,101.4 378,102.5 374.6,101.1" fill="#000331"/>
<polygon points="378,104 382,105.4 382,122.5 378,122.5" fill="#0532c8"/>
<polygon points="381,105 382,105.4 382,122.5 381,122.5" fill="#031e78"/>
<polygon points="378,104 382,105.4 382,106.5 378,105.1" fill="#011146"/>
<polygon points="387.9,93.3 391.2,94.7 391.2,128 387.9,128" fill="#28c8c8"/>
<polygon points="390.2,94.3 391.2,94.7 391.2,128 390.2,128" fill="#187878"/>
<polygon points="387.9,93.3 391.2,94.7 391.2,95.8 387.9,94.4" fill="#0e4646"/>
<polygon points="389.9,92.6 393.2,94 393.2,130 389.9,130" fill="#28c8c8"/>
<polygon points="392.2,93.6 393.2,94 393.2,130 392.2,130" fill="#187878"/>
<polygon points="389.9,92.6 393.2,94 393.2,95.1 389.9,93.7" fill="#0e4646"/>
<polygon points="393.9,92.6 396.5,93.8 396.5,132 393.9,132" fill="#28c8c8"/>
<polygon points="395.7,93.4 396.5,93.8 396.5,132 395.7,132" fill="#187878"/>
<polygon points="393.9,92.6 396.5,93.8 396.5,94.9 393.9,93.7" fill="#0e4646"/>
<polygon points="396.5,97.3 399.8,98.7 399.8,134 396.5,134" fill="#1a8cc0"/>
<polygon points="398.8,98.3 399.8,98.7 399.8,134 398.8,134" fill="#0f5473"/>
<polygon points="396.5,97.3 399.8,98.7 399.8,99.8 396.5,98.4" fill="#093143"/>
<polygon points="398.5,96 401.8,97.4 401.8,134 398.5,134" fill="#28c8c8"/>
<polygon points="400.8,97 401.8,97.4 401.8,134 400.8,134" fill="#187878"/>
<polygon points="398.5,96 401.8,97.4 401.8,98.5 398.5,97.1" fill="#0e4646"/>
<polygon points="380,112 384,113.4 384,126.5 380,126.5" fill="#000a8c"/>
<polygon points="383,113 384,113.4 384,126.5 383,126.5" fill="#000654"/>
<polygon points="380,112 384,113.4 384,114.5 380,113.1" fill="#000331"/>
<polygon points="384,118 388,119.4 388,134.6 384,134.6" fill="#0532c8"/>
<polygon points="387,119 388,119.4 388,134.6 387,134.6" fill="#031e78"/>
<polygon points="384,118 388,119.4 388,120.5 384,119.1" fill="#011146"/>
<polygon points="388,124 392,125.4 392,138.1 388,138.1" fill="#000a8c"/>
<polygon points="391,125 392,125.4 392,138.1 391,138.1" fill="#000654"/>
<polygon points="388,124 392,125.4 392,126.5 388,125.1" fill="#000331"/>
<polygon points="392,124 396,125.4 396,140.8 392,140.8" fill="#1464d2"/>
<polygon points="395,125 396,125.4 396,140.8 395,140.8" fill="#0c3c7e"/>
<polygon points="392,124 396,125.4 396,126.5 392,125.1" fill="#072349"/>
<polygon points="396,126 400,127.4 400,141.5 396,141.5" fill="#000a8c"/>
<polygon points="399,127 400,127.4 400,141.5 399,141.5" fill="#000654"/>
<polygon points="396,126 400,127.4 400,128.5 396,127.1" fill="#000331"/>
<polygon points="400,122 403,123.3 403,142 400,142" fill="#0532c8"/>
<polygon points="402.1,122.9 403,123.3 403,142 402.1,142" fill="#031e78"/>
<polygon points="400,122 403,123.3 403,124.4 400,123.1" fill="#011146"/>
<polygon points="402.5,126 405.5,127.3 405.5,142.3 402.5,142.3" fill="#000a8c"/>
<polygon points="404.6,126.9 405.5,127.3 405.5,142.3 404.6,142.3" fill="#000654"/>
<polygon points="402.5,126 405.5,127.3 405.5,128.4 402.5,127.1" fill="#000331"/>
<polygon points="412.5,94.6 417.1,96 417.1,108.6 412.5,108.6" fill="#000a8c"/>
<polygon points="416.1,95.7 417.1,96 417.1,108.6 416.1,108.6" fill="#000654"/>
<polygon points="412.5,94.6 417.1,96 417.1,97.1 412.5,95.7" fill="#000331"/>
<polygon points="417.1,84 419.8,85.2 419.8,108 417.1,108" fill="#0532c8"/>
<polygon points="419,84.9 419.8,85.2 419.8,108 419,108" fill="#031e78"/>
<polygon points="417.1,84 419.8,85.2 419.8,86.3 417.1,85.1" fill="#011146"/>
<polygon points="420,90 423,91.3 423,113.8 420,113.8" fill="#0532c8"/>
<polygon points="422.1,90.9 423,91.3 423,113.8 422.1,113.8" fill="#031e78"/>
<polygon points="420,90 423,91.3 423,92.4 420,91.1" fill="#011146"/>
<polygon points="423,61 426.1,62.4 426.1,100 423,100" fill="#1eb48c"/>
<polygon points="425.2,62 426.1,62.4 426.1,100 425.2,100" fill="#126c54"/>
<polygon points="423,61 426.1,62.4 426.1,63.5 423,62.1" fill="#0a3e31"/>
<polygon points="424.3,40.5 427.3,41.9 427.3,75 424.3,75" fill="#e2e022"/>
<polygon points="426.4,41.4 427.3,41.9 427.3,75 426.4,75" fill="#878614"/>
<polygon points="424.3,40.5 427.3,41.9 427.3,43 424.3,41.6" fill="#4f4e0b"/>
<polygon points="427.3,77 430.3,78.3 430.3,118.2 427.3,118.2" fill="#1464d2"/>
<polygon points="429.4,77.9 430.3,78.3 430.3,118.2 429.4,118.2" fill="#0c3c7e"/>
<polygon points="427.3,77 430.3,78.3 430.3,79.4 427.3,78.1" fill="#072349"/>
<polygon points="430.5,92 433.5,93.3 433.5,120.1 430.5,120.1" fill="#0532c8"/>
<polygon points="432.6,92.9 433.5,93.3 433.5,120.1 432.6,120.1" fill="#031e78"/>
<polygon points="430.5,92 433.5,93.3 433.5,94.4 430.5,93.1" fill="#011146"/>
<polygon points="433.7,100 436.7,101.3 436.7,122.1 433.7,122.1" fill="#000a8c"/>
<polygon points="435.8,100.9 436.7,101.3 436.7,122.1 435.8,122.1" fill="#000654"/>
<polygon points="433.7,100 436.7,101.3 436.7,102.4 433.7,101.1" fill="#000331"/>
<polygon points="436.7,90.5 440,91.9 440,124 436.7,124" fill="#1464d2"/>
<polygon points="439,91.5 440,91.9 440,124 439,124" fill="#0c3c7e"/>
<polygon points="436.7,90.5 440,91.9 440,93 436.7,91.6" fill="#072349"/>
<polygon points="440,98 443,99.3 443,125.9 440,125.9" fill="#000a8c"/>
<polygon points="442.1,98.9 443,99.3 443,125.9 442.1,125.9" fill="#000654"/>
<polygon points="440,98 443,99.3 443,100.4 440,99.1" fill="#000331"/>
<polygon points="442.8,90 445.8,91.3 445.8,127.6 442.8,127.6" fill="#0532c8"/>
<polygon points="444.9,90.9 445.8,91.3 445.8,127.6 444.9,127.6" fill="#031e78"/>
<polygon points="442.8,90 445.8,91.3 445.8,92.4 442.8,91.1" fill="#011146"/>
<polygon points="444,85.3 447,86.6 447,128.3 444,128.3" fill="#1a8cc0"/>
<polygon points="446.1,86.2 447,86.6 447,128.3 446.1,128.3" fill="#0f5473"/>
<polygon points="444,85.3 447,86.6 447,87.7 444,86.4" fill="#093143"/>
<polygon points="446.1,55.7 449.2,57.1 449.2,115 446.1,115" fill="#e2e022"/>
<polygon points="448.3,56.7 449.2,57.1 449.2,115 448.3,115" fill="#878614"/>
<polygon points="446.1,55.7 449.2,57.1 449.2,58.2 446.1,56.8" fill="#4f4e0b"/>
<polygon points="449.2,60.3 451.1,61.2 451.1,118 449.2,118" fill="#22c03c"/>
<polygon points="450.5,60.9 451.1,61.2 451.1,118 450.5,118" fill="#147324"/>
<polygon points="449.2,60.3 451.1,61.2 451.1,62.3 449.2,61.4" fill="#0b4315"/>
<polygon points="450.1,41.3 452.7,42.5 452.7,118 450.1,118" fill="#da7a1e"/>
<polygon points="451.9,42.1 452.7,42.5 452.7,118 451.9,118" fill="#824912"/>
<polygon points="450.1,41.3 452.7,42.5 452.7,43.6 450.1,42.4" fill="#4c2a0a"/>
<polygon points="451.4,26.8 454.6,28.2 454.6,120 451.4,120" fill="#c40aa8"/>
<polygon points="453.6,27.8 454.6,28.2 454.6,120 453.6,120" fill="#750664"/>
<polygon points="451.4,26.8 454.6,28.2 454.6,29.3 451.4,27.9" fill="#44033a"/>
<polygon points="451.1,89.9 455.7,91.3 455.7,133.1 451.1,133.1" fill="#1a8cc0"/>
<polygon points="454.7,91 455.7,91.3 455.7,133.1 454.7,133.1" fill="#0f5473"/>
<polygon points="451.1,89.9 455.7,91.3 455.7,92.4 451.1,91" fill="#093143"/>
<polygon points="456.5,70.1 459.5,71.4 459.5,125 456.5,125" fill="#9ee632"/>
<polygon points="458.6,71 459.5,71.4 459.5,125 458.6,125" fill="#5e8a1e"/>
<polygon points="456.5,70.1 459.5,71.4 459.5,72.5 456.5,71.2" fill="#375011"/>
<polygon points="457.2,86.1 460.3,87.5 460.3,136.3 457.2,136.3" fill="#1eb48c"/>
<polygon points="459.4,87.1 460.3,87.5 460.3,136.3 459.4,136.3" fill="#126c54"/>
<polygon points="457.2,86.1 460.3,87.5 460.3,88.6 457.2,87.2" fill="#0a3e31"/>
<polygon points="462.8,35.2 465.6,36.5 465.6,126.5 462.8,126.5" fill="#c40aa8"/>
<polygon points="464.8,36.1 465.6,36.5 465.6,126.5 464.8,126.5" fill="#750664"/>
<polygon points="462.8,35.2 465.6,36.5 465.6,37.6 462.8,36.3" fill="#44033a"/>
<polygon points="465.6,45.8 467.9,46.8 467.9,125.2 465.6,125.2" fill="#da7a1e"/>
<polygon points="467.2,46.5 467.9,46.8 467.9,125.2 467.2,125.2" fill="#824912"/>
<polygon points="465.6,45.8 467.9,46.8 467.9,47.9 465.6,46.9" fill="#4c2a0a"/>
<polygon points="460,100 463,101.3 463,138 460,138" fill="#0532c8"/>
<polygon points="462.1,100.9 463,101.3 463,138 462.1,138" fill="#031e78"/>
<polygon points="460,100 463,101.3 463,102.4 460,101.1" fill="#011146"/>
<polygon points="420,107 423.5,108.4 423.5,114 420,114" fill="#000a8c"/>
<polygon points="422.5,108 423.5,108.4 423.5,114 422.5,114" fill="#000654"/>
<polygon points="420,107 423.5,108.4 423.5,109.5 420,108.1" fill="#000331"/>
<polygon points="426,110 429.5,111.4 429.5,117.6 426,117.6" fill="#000a8c"/>
<polygon points="428.5,111 429.5,111.4 429.5,117.6 428.5,117.6" fill="#000654"/>
<polygon points="426,110 429.5,111.4 429.5,112.5 426,111.1" fill="#000331"/>
<polygon points="431,113 434.5,114.4 434.5,120.6 431,120.6" fill="#0532c8"/>
<polygon points="433.5,114 434.5,114.4 434.5,120.6 433.5,120.6" fill="#031e78"/>
<polygon points="431,113 434.5,114.4 434.5,115.5 431,114.1" fill="#011146"/>
<polygon points="435,114 438.5,115.4 438.5,123 435,123" fill="#000a8c"/>
<polygon points="437.5,115 438.5,115.4 438.5,123 437.5,123" fill="#000654"/>
<polygon points="435,114 438.5,115.4 438.5,116.5 435,115.1" fill="#000331"/>
<polygon points="439,117 442.5,118.4 442.5,125.4 439,125.4" fill="#000a8c"/>
<polygon points="441.5,118 442.5,118.4 442.5,125.4 441.5,125.4" fill="#000654"/>
<polygon points="439,117 442.5,118.4 442.5,119.5 439,118.1" fill="#000331"/>
<polygon points="443,119 446.5,120.4 446.5,127.8 443,127.8" fill="#000a8c"/>
<polygon points="445.5,120 446.5,120.4 446.5,127.8 445.5,127.8" fill="#000654"/>
<polygon points="443,119 446.5,120.4 446.5,121.5 443,120.1" fill="#000331"/>
<polygon points="447,121 450.5,122.4 450.5,130.3 447,130.3" fill="#1464d2"/>
<polygon points="449.5,122 450.5,122.4 450.5,130.3 449.5,130.3" fill="#0c3c7e"/>
<polygon points="447,121 450.5,122.4 450.5,123.5 447,122.1" fill="#072349"/>
<polygon points="451,124 454.5,125.4 454.5,132.7 451,132.7" fill="#000a8c"/>
<polygon points="453.5,125 454.5,125.4 454.5,132.7 453.5,132.7" fill="#000654"/>
<polygon points="451,124 454.5,125.4 454.5,126.5 451,125.1" fill="#000331"/>
<polygon points="455,126 458.5,127.4 458.5,135.1 455,135.1" fill="#000a8c"/>
<polygon points="457.5,127 458.5,127.4 458.5,135.1 457.5,135.1" fill="#000654"/>
<polygon points="455,126 458.5,127.4 458.5,128.5 455,127.1" fill="#000331"/>
<polygon points="459,128 462.5,129.4 462.5,137.5 459,137.5" fill="#0532c8"/>
<polygon points="461.5,129 462.5,129.4 462.5,137.5 461.5,137.5" fill="#031e78"/>
<polygon points="459,128 462.5,129.4 462.5,130.5 459,129.1" fill="#011146"/>
<polygon points="463,129 466.5,130.4 466.5,139.9 463,139.9" fill="#000a8c"/>
<polygon points="465.5,130 466.5,130.4 466.5,139.9 465.5,139.9" fill="#000654"/>
<polygon points="463,129 466.5,130.4 466.5,131.5 463,130.1" fill="#000331"/>
<polygon points="466.5,127 470.5,128.4 470.5,142.2 466.5,142.2" fill="#000a8c"/>
<polygon points="469.5,128.1 470.5,128.4 470.5,142.2 469.5,142.2" fill="#000654"/>
<polygon points="466.5,127 470.5,128.4 470.5,129.5 466.5,128.1" fill="#000331"/>
<text x="370" y="101.1" class="l3">22</text>
<text x="367.3" y="108.4" class="l3">23</text>
<text x="367.3" y="114.3" class="l3">24</text>
<text x="369.3" y="120.3" class="l3">25</text>
<text x="373.3" y="127.6" class="l3">26</text>
<text x="377.9" y="136.2" class="l3">27</text>
<text x="383.2" y="143.6" class="l3">28</text>
<text x="472.5" y="134.9" class="l3">17</text>
<text x="482.4" y="141.6" class="l3">18</text>
<text x="343" y="142.3" class="l3" style="font-size:4.6px;text-anchor:start">Left Side</text>
<polygon points="31,263 36,262 57,270 59,285 65,304 75,312 52,312 43,297 33,281" fill="#eeeeee"/>
<polygon points="57,269 70,270 133,309 139,312 118,312 95,299 75,289 59,285" fill="#eeeeee"/>
<path d="M30.8,260.6 C31,262.7 31.3,269.5 31.9,273.1 C32.5,276.7 33.2,279.6 34.2,282.2 C35.2,284.8 36.5,286.9 37.6,289 C38.7,291.1 39.7,293.2 41,294.7 C42.3,296.2 43.5,297.1 45.6,298.1 C47.7,299.1 52.2,300.4 53.5,300.8" fill="none" stroke="#d8d038" stroke-width="0.8"/>
<path d="M69.8,271.1 C74.8,274.1 89.6,282.8 100,289 C110.4,295.2 126.7,305.2 132,308.4" fill="none" stroke="#d8d038" stroke-width="0.8"/>
<path d="M54.4,310.5 L75,311" fill="none" stroke="#d8d038" stroke-width="0.8"/>
<polygon points="33.7,263.3 37.1,264.7 37.1,280.2 33.7,280.2" fill="#000a8c"/>
<polygon points="36.1,264.3 37.1,264.7 37.1,280.2 36.1,280.2" fill="#000654"/>
<polygon points="33.7,263.3 37.1,264.7 37.1,265.8 33.7,264.4" fill="#000331"/>
<polygon points="37.1,253.9 40.5,255.3 40.5,288.1 37.1,288.1" fill="#000a8c"/>
<polygon points="39.5,254.9 40.5,255.3 40.5,288.1 39.5,288.1" fill="#000654"/>
<polygon points="37.1,253.9 40.5,255.3 40.5,256.4 37.1,255" fill="#000331"/>
<polygon points="40.5,250.5 43.6,251.9 43.6,294.7 40.5,294.7" fill="#1a8cc0"/>
<polygon points="42.7,251.5 43.6,251.9 43.6,294.7 42.7,294.7" fill="#0f5473"/>
<polygon points="40.5,250.5 43.6,251.9 43.6,253 40.5,251.6" fill="#093143"/>
<polygon points="42.2,212.4 45.3,213.8 45.3,255.6 42.2,255.6" fill="#deaa22"/>
<polygon points="44.4,213.4 45.3,213.8 45.3,255.6 44.4,255.6" fill="#856614"/>
<polygon points="42.2,212.4 45.3,213.8 45.3,214.9 42.2,213.5" fill="#4d3b0b"/>
<polygon points="45.3,234.3 47.4,235.2 47.4,269.3 45.3,269.3" fill="#22c03c"/>
<polygon points="46.8,235 47.4,235.2 47.4,269.3 46.8,269.3" fill="#147324"/>
<polygon points="45.3,234.3 47.4,235.2 47.4,236.3 45.3,235.4" fill="#0b4315"/>
<polygon points="48.2,199.1 50.8,200.3 50.8,275.3 48.2,275.3" fill="#cc1818"/>
<polygon points="50,199.9 50.8,200.3 50.8,275.3 50,275.3" fill="#7a0e0e"/>
<polygon points="48.2,199.1 50.8,200.3 50.8,201.4 48.2,200.2" fill="#470808"/>
<polygon points="50.8,234.3 53.3,235.4 53.3,271.9 50.8,271.9" fill="#1eb48c"/>
<polygon points="52.5,235.1 53.3,235.4 53.3,271.9 52.5,271.9" fill="#126c54"/>
<polygon points="50.8,234.3 53.3,235.4 53.3,236.5 50.8,235.4" fill="#0a3e31"/>
<polygon points="55,253.9 57.9,255.2 57.9,306.4 55,306.4" fill="#000a8c"/>
<polygon points="57,254.8 57.9,255.2 57.9,306.4 57,306.4" fill="#000654"/>
<polygon points="55,253.9 57.9,255.2 57.9,256.3 55,255" fill="#000331"/>
<polygon points="53,247 55.5,248.1 55.5,306.3 53,306.3" fill="#1a8cc0"/>
<polygon points="54.8,247.8 55.5,248.1 55.5,306.3 54.8,306.3" fill="#0f5473"/>
<polygon points="53,247 55.5,248.1 55.5,249.2 53,248.1" fill="#093143"/>
<polygon points="48.5,274 51.5,275.4 51.5,292 48.5,292" fill="#28c8c8"/>
<polygon points="50.6,274.9 51.5,275.4 51.5,292 50.6,292" fill="#187878"/>
<polygon points="48.5,274 51.5,275.4 51.5,276.5 48.5,275.1" fill="#0e4646"/>
<polygon points="45.6,269.3 49,270.7 49,302.1 45.6,302.1" fill="#0532c8"/>
<polygon points="48,270.3 49,270.7 49,302.1 48,302.1" fill="#031e78"/>
<polygon points="45.6,269.3 49,270.7 49,271.8 45.6,270.4" fill="#011146"/>
<polygon points="50.8,276.2 54.2,277.6 54.2,306.1 50.8,306.1" fill="#1a8cc0"/>
<polygon points="53.2,277.2 54.2,277.6 54.2,306.1 53.2,306.1" fill="#0f5473"/>
<polygon points="50.8,276.2 54.2,277.6 54.2,278.7 50.8,277.3" fill="#093143"/>
<polygon points="38,275 41.5,276.4 41.5,290 38,290" fill="#000a8c"/>
<polygon points="40.5,276 41.5,276.4 41.5,290 40.5,290" fill="#000654"/>
<polygon points="38,275 41.5,276.4 41.5,277.5 38,276.1" fill="#000331"/>
<polygon points="41.5,282 45,283.4 45,297.1 41.5,297.1" fill="#000a8c"/>
<polygon points="44,283 45,283.4 45,297.1 44,297.1" fill="#000654"/>
<polygon points="41.5,282 45,283.4 45,284.5 41.5,283.1" fill="#000331"/>
<polygon points="47.4,285 51,286.4 51,304.2 47.4,304.2" fill="#000a8c"/>
<polygon points="50,286 51,286.4 51,304.2 50,304.2" fill="#000654"/>
<polygon points="47.4,285 51,286.4 51,287.5 47.4,286.1" fill="#000331"/>
<polygon points="51,288 54.5,289.4 54.5,306.1 51,306.1" fill="#1464d2"/>
<polygon points="53.5,289 54.5,289.4 54.5,306.1 53.5,306.1" fill="#0c3c7e"/>
<polygon points="51,288 54.5,289.4 54.5,290.5 51,289.1" fill="#072349"/>
<polygon points="54.5,285 58,286.4 58,306.4 54.5,306.4" fill="#000a8c"/>
<polygon points="57,286 58,286.4 58,306.4 57,306.4" fill="#000654"/>
<polygon points="54.5,285 58,286.4 58,287.5 54.5,286.1" fill="#000331"/>
<polygon points="58,290 61,291.4 61,306.7 58,306.7" fill="#0532c8"/>
<polygon points="60.1,290.9 61,291.4 61,306.7 60.1,306.7" fill="#031e78"/>
<polygon points="58,290 61,291.4 61,292.5 58,291.1" fill="#011146"/>
<polygon points="61,292 63.6,293.2 63.6,306.9 61,306.9" fill="#000a8c"/>
<polygon points="62.8,292.8 63.6,293.2 63.6,306.9 62.8,306.9" fill="#000654"/>
<polygon points="61,292 63.6,293.2 63.6,294.3 61,293.1" fill="#000331"/>
<polygon points="61.9,256.5 65.3,257.9 65.3,272.7 61.9,272.7" fill="#000a8c"/>
<polygon points="64.3,257.5 65.3,257.9 65.3,272.7 64.3,272.7" fill="#000654"/>
<polygon points="61.9,256.5 65.3,257.9 65.3,259 61.9,257.6" fill="#000331"/>
<polygon points="71.6,264.8 74.5,266.1 74.5,277.3 71.6,277.3" fill="#000a8c"/>
<polygon points="73.6,265.7 74.5,266.1 74.5,277.3 73.6,277.3" fill="#000654"/>
<polygon points="71.6,264.8 74.5,266.1 74.5,267.2 71.6,265.9" fill="#000331"/>
<polygon points="73.3,238.7 76.4,240.1 76.4,278.3 73.3,278.3" fill="#1a8cc0"/>
<polygon points="75.5,239.7 76.4,240.1 76.4,278.3 75.5,278.3" fill="#0f5473"/>
<polygon points="73.3,238.7 76.4,240.1 76.4,241.2 73.3,239.8" fill="#093143"/>
<polygon points="75.7,258.8 79.2,260.2 79.2,279.8 75.7,279.8" fill="#000a8c"/>
<polygon points="78.2,259.8 79.2,260.2 79.2,279.8 78.2,279.8" fill="#000654"/>
<polygon points="75.7,258.8 79.2,260.2 79.2,261.3 75.7,259.9" fill="#000331"/>
<polygon points="79.2,263.6 82.8,265 82.8,281.8 79.2,281.8" fill="#000a8c"/>
<polygon points="81.8,264.6 82.8,265 82.8,281.8 81.8,281.8" fill="#000654"/>
<polygon points="79.2,263.6 82.8,265 82.8,266.1 79.2,264.7" fill="#000331"/>
<polygon points="81.6,225.6 84.5,226.9 84.5,283 81.6,283" fill="#1eb48c"/>
<polygon points="83.6,226.5 84.5,226.9 84.5,283 83.6,283" fill="#126c54"/>
<polygon points="81.6,225.6 84.5,226.9 84.5,228 81.6,226.7" fill="#0a3e31"/>
<polygon points="84.5,241 87.5,242.3 87.5,284.6 84.5,284.6" fill="#1a8cc0"/>
<polygon points="86.6,241.9 87.5,242.3 87.5,284.6 86.6,284.6" fill="#0f5473"/>
<polygon points="84.5,241 87.5,242.3 87.5,243.4 84.5,242.1" fill="#093143"/>
<polygon points="86.4,262 88.7,263 88.7,285.5 86.4,285.5" fill="#000a8c"/>
<polygon points="88,262.7 88.7,263 88.7,285.5 88,285.5" fill="#000654"/>
<polygon points="86.4,262 88.7,263 88.7,264.1 86.4,263.1" fill="#000331"/>
<polygon points="88.7,268 92,269.4 92,287.1 88.7,287.1" fill="#000a8c"/>
<polygon points="91,269 92,269.4 92,287.1 91,287.1" fill="#000654"/>
<polygon points="88.7,268 92,269.4 92,270.5 88.7,269.1" fill="#000331"/>
<polygon points="92,270 95,271.4 95,288.9 92,288.9" fill="#0532c8"/>
<polygon points="94.1,270.9 95,271.4 95,288.9 94.1,288.9" fill="#031e78"/>
<polygon points="92,270 95,271.4 95,272.5 92,271.1" fill="#011146"/>
<polygon points="95,274 98,275.4 98,290.6 95,290.6" fill="#000a8c"/>
<polygon points="97.1,274.9 98,275.4 98,290.6 97.1,290.6" fill="#000654"/>
<polygon points="95,274 98,275.4 98,276.5 95,275.1" fill="#000331"/>
<polygon points="97,273 100.6,274.4 100.6,291.9 97,291.9" fill="#0532c8"/>
<polygon points="99.6,274 100.6,274.4 100.6,291.9 99.6,291.9" fill="#031e78"/>
<polygon points="97,273 100.6,274.4 100.6,275.5 97,274.1" fill="#011146"/>
<polygon points="100.6,237.5 104.2,238.9 104.2,293.9 100.6,293.9" fill="#1eb48c"/>
<polygon points="103.2,238.5 104.2,238.9 104.2,293.9 103.2,293.9" fill="#126c54"/>
<polygon points="100.6,237.5 104.2,238.9 104.2,240 100.6,238.6" fill="#0a3e31"/>
<polygon points="103,229.2 105.8,230.5 105.8,295 103,295" fill="#9ee632"/>
<polygon points="105,230.1 105.8,230.5 105.8,295 105,295" fill="#5e8a1e"/>
<polygon points="103,229.2 105.8,230.5 105.8,231.6 103,230.3" fill="#375011"/>
<polygon points="105.8,244.6 108.9,246 108.9,296.7 105.8,296.7" fill="#1eb48c"/>
<polygon points="108,245.6 108.9,246 108.9,296.7 108,296.7" fill="#126c54"/>
<polygon points="105.8,244.6 108.9,246 108.9,247.1 105.8,245.7" fill="#0a3e31"/>
<polygon points="107.3,224.4 110.1,225.7 110.1,297.5 107.3,297.5" fill="#9ee632"/>
<polygon points="109.3,225.3 110.1,225.7 110.1,297.5 109.3,297.5" fill="#5e8a1e"/>
<polygon points="107.3,224.4 110.1,225.7 110.1,226.8 107.3,225.5" fill="#375011"/>
<polygon points="110.1,194.7 113,196 113,280 110.1,280" fill="#c40aa8"/>
<polygon points="112.1,195.6 113,196 113,280 112.1,280" fill="#750664"/>
<polygon points="110.1,194.7 113,196 113,197.1 110.1,195.8" fill="#44033a"/>
<polygon points="108.9,252.9 112.5,254.3 112.5,298.6 108.9,298.6" fill="#1a8cc0"/>
<polygon points="111.5,253.9 112.5,254.3 112.5,298.6 111.5,298.6" fill="#0f5473"/>
<polygon points="108.9,252.9 112.5,254.3 112.5,255.4 108.9,254" fill="#093143"/>
<polygon points="112.5,255.3 115.3,256.6 115.3,300.4 112.5,300.4" fill="#1a8cc0"/>
<polygon points="114.5,256.2 115.3,256.6 115.3,300.4 114.5,300.4" fill="#0f5473"/>
<polygon points="112.5,255.3 115.3,256.6 115.3,257.7 112.5,256.4" fill="#093143"/>
<polygon points="114.4,233.9 117.7,235.3 117.7,301.6 114.4,301.6" fill="#9ee632"/>
<polygon points="116.7,234.9 117.7,235.3 117.7,301.6 116.7,301.6" fill="#5e8a1e"/>
<polygon points="114.4,233.9 117.7,235.3 117.7,236.4 114.4,235" fill="#375011"/>
<polygon points="120.8,257.6 123.9,259 123.9,305.2 120.8,305.2" fill="#1a8cc0"/>
<polygon points="123,258.6 123.9,259 123.9,305.2 123,305.2" fill="#0f5473"/>
<polygon points="120.8,257.6 123.9,259 123.9,260.1 120.8,258.7" fill="#093143"/>
<polygon points="123.2,204.2 126.2,205.5 126.2,280.2 123.2,280.2" fill="#cc1818"/>
<polygon points="125.3,205.1 126.2,205.5 126.2,280.2 125.3,280.2" fill="#7a0e0e"/>
<polygon points="123.2,204.2 126.2,205.5 126.2,206.6 123.2,205.3" fill="#470808"/>
<polygon points="125.5,279 129.1,280.4 129.1,308 125.5,308" fill="#0532c8"/>
<polygon points="128.1,280 129.1,280.4 129.1,308 128.1,308" fill="#031e78"/>
<polygon points="125.5,279 129.1,280.4 129.1,281.5 125.5,280.1" fill="#011146"/>
<polygon points="98,280 102,281.4 102,292.6 98,292.6" fill="#000a8c"/>
<polygon points="101,281.1 102,281.4 102,292.6 101,292.6" fill="#000654"/>
<polygon points="98,280 102,281.4 102,282.5 98,281.1" fill="#000331"/>
<polygon points="102,283 106,284.4 106,294.8 102,294.8" fill="#0532c8"/>
<polygon points="105,284.1 106,284.4 106,294.8 105,294.8" fill="#031e78"/>
<polygon points="102,283 106,284.4 106,285.5 102,284.1" fill="#011146"/>
<polygon points="106,285 110,286.4 110,297.1 106,297.1" fill="#000a8c"/>
<polygon points="109,286.1 110,286.4 110,297.1 109,297.1" fill="#000654"/>
<polygon points="106,285 110,286.4 110,287.5 106,286.1" fill="#000331"/>
<polygon points="110,288 114,289.4 114,299.3 110,299.3" fill="#000a8c"/>
<polygon points="113,289.1 114,289.4 114,299.3 113,299.3" fill="#000654"/>
<polygon points="110,288 114,289.4 114,290.5 110,289.1" fill="#000331"/>
<polygon points="114,290 118,291.4 118,301.6 114,301.6" fill="#0532c8"/>
<polygon points="117,291.1 118,291.4 118,301.6 117,301.6" fill="#031e78"/>
<polygon points="114,290 118,291.4 118,292.5 114,291.1" fill="#011146"/>
<polygon points="118,292 122,293.4 122,303.9 118,303.9" fill="#000a8c"/>
<polygon points="121,293.1 122,293.4 122,303.9 121,303.9" fill="#000654"/>
<polygon points="118,292 122,293.4 122,294.5 118,293.1" fill="#000331"/>
<polygon points="122,292 126,293.4 126,306.1 122,306.1" fill="#000a8c"/>
<polygon points="125,293.1 126,293.4 126,306.1 125,306.1" fill="#000654"/>
<polygon points="122,292 126,293.4 126,294.5 122,293.1" fill="#000331"/>
<polygon points="126,296 130,297.4 130,308.4 126,308.4" fill="#000a8c"/>
<polygon points="129,297.1 130,297.4 130,308.4 129,308.4" fill="#000654"/>
<polygon points="126,296 130,297.4 130,298.5 126,297.1" fill="#000331"/>
<text x="28.5" y="268.6" class="l3">22</text>
<text x="25.1" y="276.6" class="l3">23</text>
<text x="26" y="282.2" class="l3">24</text>
<text x="27.7" y="288.2" class="l3">25</text>
<text x="31.1" y="295.4" class="l3">26</text>
<text x="36.2" y="303.9" class="l3">27</text>
<text x="41.4" y="311.3" class="l3">28</text>
<text x="132.8" y="301.9" class="l3">17</text>
<text x="141" y="308.8" class="l3">18</text>
<text x="1" y="309.5" class="l3" style="font-size:4.6px;text-anchor:start">Left Side</text>
<polygon points="373,263 378,262 399,270 401,285 407,304 417,312 394,312 385,297 375,281" fill="#eeeeee"/>
<polygon points="399,269 412,270 475,309 481,312 460,312 437,299 417,289 401,285" fill="#eeeeee"/>
<path d="M372.8,260.6 C373,262.7 373.3,269.5 373.9,273.1 C374.5,276.7 375.2,279.6 376.2,282.2 C377.1,284.8 378.5,286.9 379.6,289 C380.7,291.1 381.7,293.2 383,294.7 C384.3,296.2 385.5,297.1 387.6,298.1 C389.7,299.1 394.2,300.4 395.5,300.8" fill="none" stroke="#d8d038" stroke-width="0.8"/>
<path d="M411.8,271.1 C416.8,274.1 431.6,282.8 442,289 C452.4,295.2 468.7,305.2 474,308.4" fill="none" stroke="#d8d038" stroke-width="0.8"/>
<path d="M396.4,310.5 L417,311" fill="none" stroke="#d8d038" stroke-width="0.8"/>
<polygon points="377.1,258.2 382.2,259.6 382.2,283 377.1,283" fill="#000a8c"/>
<polygon points="381.2,259.3 382.2,259.6 382.2,283 381.2,283" fill="#000654"/>
<polygon points="377.1,258.2 382.2,259.6 382.2,260.7 377.1,259.3" fill="#000331"/>
<polygon points="381.9,240.3 385.6,241.7 385.6,292.3 381.9,292.3" fill="#1a8cc0"/>
<polygon points="384.6,241.3 385.6,241.7 385.6,292.3 384.6,292.3" fill="#0f5473"/>
<polygon points="381.9,240.3 385.6,241.7 385.6,242.8 381.9,241.4" fill="#093143"/>
<polygon points="384.8,244.5 387.4,245.7 387.4,296.5 384.8,296.5" fill="#1a8cc0"/>
<polygon points="386.6,245.3 387.4,245.7 387.4,296.5 386.6,296.5" fill="#0f5473"/>
<polygon points="384.8,244.5 387.4,245.7 387.4,246.8 384.8,245.6" fill="#093143"/>
<polygon points="388.2,195.9 391.2,197.2 391.2,288 388.2,288" fill="#c40aa8"/>
<polygon points="390.3,196.8 391.2,197.2 391.2,288 390.3,288" fill="#750664"/>
<polygon points="388.2,195.9 391.2,197.2 391.2,198.3 388.2,197" fill="#44033a"/>
<polygon points="391.2,198.6 394.2,199.9 394.2,288 391.2,288" fill="#c40aa8"/>
<polygon points="393.3,199.5 394.2,199.9 394.2,288 393.3,288" fill="#750664"/>
<polygon points="391.2,198.6 394.2,199.9 394.2,201 391.2,199.7" fill="#44033a"/>
<polygon points="396.2,239.4 399.7,240.8 399.7,276 396.2,276" fill="#22c03c"/>
<polygon points="398.7,240.4 399.7,240.8 399.7,276 398.7,276" fill="#147324"/>
<polygon points="396.2,239.4 399.7,240.8 399.7,241.9 396.2,240.5" fill="#0b4315"/>
<polygon points="400.2,269.3 405.3,270.7 405.3,309.3 400.2,309.3" fill="#0532c8"/>
<polygon points="404.3,270.4 405.3,270.7 405.3,309.3 404.3,309.3" fill="#031e78"/>
<polygon points="400.2,269.3 405.3,270.7 405.3,271.8 400.2,270.4" fill="#011146"/>
<polygon points="402.7,255.6 407,257 407,275 402.7,275" fill="#000a8c"/>
<polygon points="406,256.7 407,257 407,275 406,275" fill="#000654"/>
<polygon points="402.7,255.6 407,257 407,258.1 402.7,256.7" fill="#000331"/>
<polygon points="401,269.3 404.4,270.7 404.4,309.3 401,309.3" fill="#1a8cc0"/>
<polygon points="403.4,270.3 404.4,270.7 404.4,309.3 403.4,309.3" fill="#0f5473"/>
<polygon points="401,269.3 404.4,270.7 404.4,271.8 401,270.4" fill="#093143"/>
<polygon points="377,272 381,273.4 381,280.4 377,280.4" fill="#000a8c"/>
<polygon points="380,273.1 381,273.4 381,280.4 380,280.4" fill="#000654"/>
<polygon points="377,272 381,273.4 381,274.5 377,273.1" fill="#000331"/>
<polygon points="381,280 385,281.4 385,290.9 381,290.9" fill="#000a8c"/>
<polygon points="384,281.1 385,281.4 385,290.9 384,290.9" fill="#000654"/>
<polygon points="381,280 385,281.4 385,282.5 381,281.1" fill="#000331"/>
<polygon points="385,285 389,286.4 389,298.2 385,298.2" fill="#0532c8"/>
<polygon points="388,286.1 389,286.4 389,298.2 388,298.2" fill="#031e78"/>
<polygon points="385,285 389,286.4 389,287.5 385,286.1" fill="#011146"/>
<polygon points="389,290 393,291.4 393,303.4 389,303.4" fill="#000a8c"/>
<polygon points="392,291.1 393,291.4 393,303.4 392,303.4" fill="#000654"/>
<polygon points="389,290 393,291.4 393,292.5 389,291.1" fill="#000331"/>
<polygon points="396.2,276 400,277.4 400,308.7 396.2,308.7" fill="#0532c8"/>
<polygon points="399,277 400,277.4 400,308.7 399,308.7" fill="#031e78"/>
<polygon points="396.2,276 400,277.4 400,278.5 396.2,277.1" fill="#011146"/>
<polygon points="399.5,282 403,283.4 403,309.1 399.5,309.1" fill="#1a8cc0"/>
<polygon points="402,283 403,283.4 403,309.1 402,309.1" fill="#0f5473"/>
<polygon points="399.5,282 403,283.4 403,284.5 399.5,283.1" fill="#093143"/>
<polygon points="389,282 393,283.4 393,303.4 389,303.4" fill="#000a8c"/>
<polygon points="392,283.1 393,283.4 393,303.4 392,303.4" fill="#000654"/>
<polygon points="389,282 393,283.4 393,284.5 389,283.1" fill="#000331"/>
<polygon points="396,292 400,293.4 400,308.7 396,308.7" fill="#0532c8"/>
<polygon points="399,293.1 400,293.4 400,308.7 399,308.7" fill="#031e78"/>
<polygon points="396,292 400,293.4 400,294.5 396,293.1" fill="#011146"/>
<polygon points="400,296 404,297.4 404,309.2 400,309.2" fill="#000a8c"/>
<polygon points="403,297.1 404,297.4 404,309.2 403,309.2" fill="#000654"/>
<polygon points="400,296 404,297.4 404,298.5 400,297.1" fill="#000331"/>
<polygon points="404,300 408,301.4 408,309.7 404,309.7" fill="#000a8c"/>
<polygon points="407,301.1 408,301.4 408,309.7 407,309.7" fill="#000654"/>
<polygon points="404,300 408,301.4 408,302.5 404,301.1" fill="#000331"/>
<polygon points="393.3,206.6 396.2,207.9 396.2,303.5 393.3,303.5" fill="#cc1818"/>
<polygon points="395.3,207.5 396.2,207.9 396.2,303.5 395.3,303.5" fill="#7a0e0e"/>
<polygon points="393.3,206.6 396.2,207.9 396.2,209 393.3,207.7" fill="#470808"/>
<polygon points="410.4,261.6 413,262.8 413,275 410.4,275" fill="#000a8c"/>
<polygon points="412.2,262.4 413,262.8 413,275 412.2,275" fill="#000654"/>
<polygon points="410.4,261.6 413,262.8 413,263.9 410.4,262.7" fill="#000331"/>
<polygon points="414.7,263.3 418.1,264.7 418.1,278 414.7,278" fill="#000a8c"/>
<polygon points="417.1,264.3 418.1,264.7 418.1,278 417.1,278" fill="#000654"/>
<polygon points="414.7,263.3 418.1,264.7 418.1,265.8 414.7,264.4" fill="#000331"/>
<polygon points="405,256 407.7,257.2 407.7,271.4 405,271.4" fill="#000a8c"/>
<polygon points="406.9,256.9 407.7,257.2 407.7,271.4 406.9,271.4" fill="#000654"/>
<polygon points="405,256 407.7,257.2 407.7,258.3 405,257.1" fill="#000331"/>
<polygon points="410.4,260.6 413.1,261.8 413.1,270.5 410.4,270.5" fill="#000a8c"/>
<polygon points="412.3,261.5 413.1,261.8 413.1,270.5 412.3,270.5" fill="#000654"/>
<polygon points="410.4,260.6 413.1,261.8 413.1,262.9 410.4,261.7" fill="#000331"/>
<polygon points="414,262.4 417.6,263.8 417.6,274.1 414,274.1" fill="#000a8c"/>
<polygon points="416.6,263.4 417.6,263.8 417.6,274.1 416.6,274.1" fill="#000654"/>
<polygon points="414,262.4 417.6,263.8 417.6,264.9 414,263.5" fill="#000331"/>
<polygon points="423,231.7 426.6,233.1 426.6,283.5 423,283.5" fill="#1eb48c"/>
<polygon points="425.6,232.7 426.6,233.1 426.6,283.5 425.6,283.5" fill="#126c54"/>
<polygon points="423,231.7 426.6,233.1 426.6,234.2 423,232.8" fill="#0a3e31"/>
<polygon points="421.2,263.3 424.5,264.7 424.5,282.4 421.2,282.4" fill="#0532c8"/>
<polygon points="423.5,264.3 424.5,264.7 424.5,282.4 423.5,282.4" fill="#031e78"/>
<polygon points="421.2,263.3 424.5,264.7 424.5,265.8 421.2,264.4" fill="#011146"/>
<polygon points="425.7,253.4 428.1,254.5 428.1,284.6 425.7,284.6" fill="#0532c8"/>
<polygon points="427.4,254.2 428.1,254.5 428.1,284.6 427.4,284.6" fill="#031e78"/>
<polygon points="425.7,253.4 428.1,254.5 428.1,255.6 425.7,254.5" fill="#011146"/>
<polygon points="429.9,275 432.9,276.4 432.9,287.2 429.9,287.2" fill="#000a8c"/>
<polygon points="432,275.9 432.9,276.4 432.9,287.2 432,287.2" fill="#000654"/>
<polygon points="429.9,275 432.9,276.4 432.9,277.5 429.9,276.1" fill="#000331"/>
<polygon points="442.9,243.4 446.1,244.8 446.1,294.5 442.9,294.5" fill="#1eb48c"/>
<polygon points="445.1,244.4 446.1,244.8 446.1,294.5 445.1,294.5" fill="#126c54"/>
<polygon points="442.9,243.4 446.1,244.8 446.1,245.9 442.9,244.5" fill="#0a3e31"/>
<polygon points="445.6,251.5 448.3,252.7 448.3,295.9 445.6,295.9" fill="#1a8cc0"/>
<polygon points="447.5,252.4 448.3,252.7 448.3,295.9 447.5,295.9" fill="#0f5473"/>
<polygon points="445.6,251.5 448.3,252.7 448.3,253.8 445.6,252.6" fill="#093143"/>
<polygon points="448.3,251.5 451.5,252.9 451.5,297.5 448.3,297.5" fill="#1a8cc0"/>
<polygon points="450.5,252.5 451.5,252.9 451.5,297.5 450.5,297.5" fill="#0f5473"/>
<polygon points="448.3,251.5 451.5,252.9 451.5,254 448.3,252.6" fill="#093143"/>
<polygon points="446.5,274.1 449.7,275.5 449.7,296.5 446.5,296.5" fill="#0532c8"/>
<polygon points="448.7,275.1 449.7,275.5 449.7,296.5 448.7,296.5" fill="#031e78"/>
<polygon points="446.5,274.1 449.7,275.5 449.7,276.6 446.5,275.2" fill="#011146"/>
<polygon points="442,277.7 445,279.1 445,293.9 442,293.9" fill="#000a8c"/>
<polygon points="444.1,278.6 445,279.1 445,293.9 444.1,293.9" fill="#000654"/>
<polygon points="442,277.7 445,279.1 445,280.2 442,278.8" fill="#000331"/>
<polygon points="452.2,270.5 454.6,271.6 454.6,299.5 452.2,299.5" fill="#0532c8"/>
<polygon points="453.9,271.3 454.6,271.6 454.6,299.5 453.9,299.5" fill="#031e78"/>
<polygon points="452.2,270.5 454.6,271.6 454.6,272.7 452.2,271.6" fill="#011146"/>
<polygon points="456.4,263.3 459.1,264.5 459.1,301.9 456.4,301.9" fill="#1a8cc0"/>
<polygon points="458.3,264.2 459.1,264.5 459.1,301.9 458.3,301.9" fill="#0f5473"/>
<polygon points="456.4,263.3 459.1,264.5 459.1,265.6 456.4,264.4" fill="#093143"/>
<polygon points="458.2,255.2 460.9,256.4 460.9,302.9 458.2,302.9" fill="#1a8cc0"/>
<polygon points="460.1,256.1 460.9,256.4 460.9,302.9 460.1,302.9" fill="#0f5473"/>
<polygon points="458.2,255.2 460.9,256.4 460.9,257.5 458.2,256.3" fill="#093143"/>
<polygon points="462.3,232.6 465.4,234 465.4,305.3 462.3,305.3" fill="#9ee632"/>
<polygon points="464.5,233.6 465.4,234 465.4,305.3 464.5,305.3" fill="#5e8a1e"/>
<polygon points="462.3,232.6 465.4,234 465.4,235.1 462.3,233.7" fill="#375011"/>
<polygon points="460.9,256.1 463.6,257.3 463.6,304.4 460.9,304.4" fill="#1a8cc0"/>
<polygon points="462.8,257 463.6,257.3 463.6,304.4 462.8,304.4" fill="#0f5473"/>
<polygon points="460.9,256.1 463.6,257.3 463.6,258.4 460.9,257.2" fill="#093143"/>
<polygon points="450.1,288.5 452.8,289.7 452.8,298.4 450.1,298.4" fill="#000a8c"/>
<polygon points="452,289.4 452.8,289.7 452.8,298.4 452,298.4" fill="#000654"/>
<polygon points="450.1,288.5 452.8,289.7 452.8,290.8 450.1,289.6" fill="#000331"/>
<polygon points="455.5,290.3 459.1,291.7 459.1,301.6 455.5,301.6" fill="#000a8c"/>
<polygon points="458.1,291.3 459.1,291.7 459.1,301.6 458.1,301.6" fill="#000654"/>
<polygon points="455.5,290.3 459.1,291.7 459.1,292.8 455.5,291.4" fill="#000331"/>
<polygon points="463.6,284 467.2,285.4 467.2,306.2 463.6,306.2" fill="#000a8c"/>
<polygon points="466.2,285 467.2,285.4 467.2,306.2 466.2,306.2" fill="#000654"/>
<polygon points="463.6,284 467.2,285.4 467.2,286.5 463.6,285.1" fill="#000331"/>
<polygon points="467.2,292.1 469.9,293.3 469.9,307.9 467.2,307.9" fill="#000a8c"/>
<polygon points="469.1,293 469.9,293.3 469.9,307.9 469.1,307.9" fill="#000654"/>
<polygon points="467.2,292.1 469.9,293.3 469.9,294.4 467.2,293.2" fill="#000331"/>
<polygon points="469.5,291.2 472.6,292.6 472.6,309.3 469.5,309.3" fill="#0532c8"/>
<polygon points="471.7,292.2 472.6,292.6 472.6,309.3 471.7,309.3" fill="#031e78"/>
<polygon points="469.5,291.2 472.6,292.6 472.6,293.7 469.5,292.3" fill="#011146"/>
<text x="367.9" y="266.3" class="l3">22</text>
<text x="365.8" y="274.8" class="l3">23</text>
<text x="367.4" y="280.6" class="l3">24</text>
<text x="369.2" y="286.8" class="l3">25</text>
<text x="373.2" y="293.9" class="l3">26</text>
<text x="379.3" y="302.7" class="l3">27</text>
<text x="384.6" y="309.9" class="l3">28</text>
<text x="473.5" y="300.2" class="l3">17</text>
<text x="478.9" y="308.3" class="l3">18</text>
<text x="343" y="309.5" class="l3" style="font-size:4.6px;text-anchor:start">Left Side</text>
<rect x="487.4" y="1" width="187" height="146.4" fill="#cacaca"/>
<path d="M548.4,1 L539.1,10 L530.1,20 L522.8,30 L517.3,40 L512.9,50 L508.4,60 L504.9,70 L501.4,80 L498.6,90 L495.9,100 L493.4,111 L491.2,122 L489.4,132 L488.2,142 L487.7,147.4 L672.1,147.4 L671.6,142 L670.4,132 L668.6,122 L666.4,111 L663.9,100 L661.2,90 L658.4,80 L654.9,70 L651.4,60 L646.9,50 L642.5,40 L637,30 L629.7,20 L620.7,10 L611.4,1Z" fill="#fff"/>
<polygon points="566.4,71 593.4,71 600.4,77.5 616.4,147.4 544.4,147.4 560.4,77.5" fill="#cacaca"/>
<g transform="translate(582.6,8.1) rotate(0)"><ellipse rx="1.2" ry="1.2" fill="#000088"/></g>
<g transform="translate(598.9,14.8) rotate(0)"><ellipse rx="1" ry="1" fill="#000088"/></g>
<g transform="translate(570.7,25.9) rotate(5)"><ellipse rx="6" ry="3.5" fill="#000088"/><ellipse rx="4.9" ry="2.4" fill="#0000ee"/><ellipse rx="3" ry="1.8" fill="#0048ff"/></g>
<clipPath id="bp6"><path d="M578,17.5 C578.8,17.2 581,18.2 583,19 C585,19.8 587.7,21.1 590,22 C592.3,22.9 594.3,23.8 597,24.5 C599.7,25.2 604.2,25.4 606,26 C607.8,26.6 608.3,27.4 608,28 C607.7,28.6 606,29.4 604,29.5 C602,29.6 598.5,29 596,28.5 C593.5,28 591.3,27.2 589,26.5 C586.7,25.8 583.8,24.9 582,24 C580.2,23.1 578.7,22.1 578,21 C577.3,19.9 577.2,17.8 578,17.5Z"/></clipPath><path d="M578,17.5 C578.8,17.2 581,18.2 583,19 C585,19.8 587.7,21.1 590,22 C592.3,22.9 594.3,23.8 597,24.5 C599.7,25.2 604.2,25.4 606,26 C607.8,26.6 608.3,27.4 608,28 C607.7,28.6 606,29.4 604,29.5 C602,29.6 598.5,29 596,28.5 C593.5,28 591.3,27.2 589,26.5 C586.7,25.8 583.8,24.9 582,24 C580.2,23.1 578.7,22.1 578,21 C577.3,19.9 577.2,17.8 578,17.5Z" fill="#0000e4" stroke="#00008a" stroke-width="3.6" stroke-linejoin="round" clip-path="url(#bp6)"/>
<g transform="translate(603,27.5) rotate(5)"><ellipse rx="3" ry="0.8" fill="#0048ff"/><ellipse rx="1.9" ry="0.5" fill="#00c8f0"/></g>
<g transform="translate(544.8,30.4) rotate(-20)"><ellipse rx="3" ry="2.5" fill="#000088"/><ellipse rx="1.9" ry="1.4" fill="#0000ee"/></g>
<g transform="translate(552.2,26.7) rotate(0)"><ellipse rx="1.4" ry="2.5" fill="#000088"/><ellipse rx="0.6" ry="1.4" fill="#0000ee"/></g>
<g transform="translate(535.9,42.2) rotate(-30)"><ellipse rx="5" ry="3" fill="#000088"/><ellipse rx="3.9" ry="1.9" fill="#0000ee"/></g>
<g transform="translate(544.5,31.2) rotate(-20)"><ellipse rx="4" ry="2.5" fill="#000088"/><ellipse rx="2.9" ry="1.4" fill="#0000ee"/></g>
<g transform="translate(615.9,25.2) rotate(0)"><ellipse rx="0.9" ry="0.9" fill="#000088"/></g>
<g transform="translate(615.9,37.8) rotate(0)"><ellipse rx="4" ry="2.5" fill="#000088"/><ellipse rx="2.9" ry="1.4" fill="#0000ee"/></g>
<g transform="translate(624.8,48.9) rotate(0)"><ellipse rx="5" ry="3" fill="#000088"/><ellipse rx="3.9" ry="1.9" fill="#0000ee"/></g>
<clipPath id="bp7"><path d="M535,38.9 C536.1,38.5 537.6,38.1 538.6,38.3 C539.6,38.5 540.3,39.5 541,40.1 C541.7,40.7 542.7,41.3 542.7,41.9 C542.7,42.5 541.9,43.2 541,43.6 C540.1,44 538.2,43.5 537.4,44.2 C536.6,44.9 536.5,46.4 536.2,47.8 C535.9,49.2 535.5,50.9 535.6,52.5 C535.7,54.1 536.8,56 536.8,57.3 C536.8,58.6 536.4,59.7 535.6,60.2 C534.8,60.7 533.2,60.6 532.1,60.2 C531,59.8 529.7,59 529.1,57.9 C528.5,56.8 528.4,55.2 528.5,53.7 C528.6,52.2 529.7,50.5 529.7,49 C529.7,47.5 528.6,46 528.5,44.8 C528.4,43.6 528.5,42.6 529.1,41.9 C529.7,41.2 531.1,41.2 532.1,40.7 C533.1,40.2 533.9,39.3 535,38.9Z"/></clipPath><path d="M535,38.9 C536.1,38.5 537.6,38.1 538.6,38.3 C539.6,38.5 540.3,39.5 541,40.1 C541.7,40.7 542.7,41.3 542.7,41.9 C542.7,42.5 541.9,43.2 541,43.6 C540.1,44 538.2,43.5 537.4,44.2 C536.6,44.9 536.5,46.4 536.2,47.8 C535.9,49.2 535.5,50.9 535.6,52.5 C535.7,54.1 536.8,56 536.8,57.3 C536.8,58.6 536.4,59.7 535.6,60.2 C534.8,60.7 533.2,60.6 532.1,60.2 C531,59.8 529.7,59 529.1,57.9 C528.5,56.8 528.4,55.2 528.5,53.7 C528.6,52.2 529.7,50.5 529.7,49 C529.7,47.5 528.6,46 528.5,44.8 C528.4,43.6 528.5,42.6 529.1,41.9 C529.7,41.2 531.1,41.2 532.1,40.7 C533.1,40.2 533.9,39.3 535,38.9Z" fill="#0000e4" stroke="#00008a" stroke-width="3.6" stroke-linejoin="round" clip-path="url(#bp7)"/>
<g transform="translate(534,43) rotate(-20)"><ellipse rx="3" ry="1.5" fill="#0048ff"/></g>
<clipPath id="bp8"><path d="M521.4,65 C522,64.6 524.5,64.2 525.6,64.4 C526.7,64.6 527,65.4 527.9,66.1 C528.8,66.8 529.8,67.7 530.9,68.5 C532,69.3 533.6,70.2 534.4,70.9 C535.2,71.6 535.8,72.3 535.6,72.7 C535.4,73.1 534.2,73.4 533.3,73.3 C532.4,73.2 531.3,72.6 530.3,72.1 C529.3,71.6 528.2,71 527.3,70.3 C526.4,69.6 525.9,68.5 525,67.9 C524.1,67.3 522.6,67.2 522,66.7 C521.4,66.2 520.8,65.4 521.4,65Z"/></clipPath><path d="M521.4,65 C522,64.6 524.5,64.2 525.6,64.4 C526.7,64.6 527,65.4 527.9,66.1 C528.8,66.8 529.8,67.7 530.9,68.5 C532,69.3 533.6,70.2 534.4,70.9 C535.2,71.6 535.8,72.3 535.6,72.7 C535.4,73.1 534.2,73.4 533.3,73.3 C532.4,73.2 531.3,72.6 530.3,72.1 C529.3,71.6 528.2,71 527.3,70.3 C526.4,69.6 525.9,68.5 525,67.9 C524.1,67.3 522.6,67.2 522,66.7 C521.4,66.2 520.8,65.4 521.4,65Z" fill="#0000e4" stroke="#00008a" stroke-width="3.6" stroke-linejoin="round" clip-path="url(#bp8)"/>
<g transform="translate(523.5,65.6) rotate(0)"><ellipse rx="1.8" ry="0.9" fill="#0048ff"/><ellipse rx="1.1" ry="0.6" fill="#00c8f0"/></g>
<g transform="translate(527.3,78.6) rotate(0)"><ellipse rx="2.5" ry="1.3" fill="#000088"/></g>
<g transform="translate(531.5,88.7) rotate(0)"><ellipse rx="4" ry="2.5" fill="#000088"/><ellipse rx="2.9" ry="1.4" fill="#0000ee"/></g>
<clipPath id="bp9"><path d="M505.6,94.6 C505.9,93.3 507.6,92.5 508.9,92 C510.2,91.5 512.1,91 513.6,91.3 C515.1,91.6 516.1,93.5 517.6,94 C519.1,94.5 521.6,95.2 522.9,94.6 C524.2,94 524.4,91.7 525.5,90.6 C526.6,89.5 528,88.5 529.5,88 C531,87.5 533.8,86.9 534.8,87.3 C535.8,87.7 536.1,89.4 535.5,90.6 C534.9,91.8 531.9,93.3 530.9,94.6 C529.9,95.9 529.4,97.4 529.5,98.6 C529.6,99.8 531.5,100.8 531.5,101.9 C531.5,103 530.5,104.2 529.5,105.2 C528.5,106.2 525.9,106.8 525.5,107.9 C525.1,109 526.8,110.1 526.9,111.9 C527,113.7 526.4,116.5 526.2,118.5 C526,120.5 526,122.4 525.5,123.9 C525,125.5 523.5,126.7 523.5,127.8 C523.5,128.9 525.8,129.7 525.5,130.5 C525.2,131.3 523.6,132.2 521.6,132.5 C519.6,132.8 515.5,132.9 513.6,132.5 C511.7,132.1 511.6,131.2 510.3,129.8 C509,128.4 506.6,125.8 505.6,123.9 C504.6,122 504.2,120 504.3,118.5 C504.4,117 506.3,115.7 506.3,114.6 C506.3,113.5 504,112.8 504.3,111.9 C504.6,111 506.9,110.1 508.3,109.2 C509.7,108.3 512.5,107.7 512.9,106.6 C513.3,105.5 511.9,103.7 510.9,102.6 C509.9,101.5 507.8,101.2 506.9,99.9 C506,98.6 505.3,95.9 505.6,94.6Z"/></clipPath><path d="M505.6,94.6 C505.9,93.3 507.6,92.5 508.9,92 C510.2,91.5 512.1,91 513.6,91.3 C515.1,91.6 516.1,93.5 517.6,94 C519.1,94.5 521.6,95.2 522.9,94.6 C524.2,94 524.4,91.7 525.5,90.6 C526.6,89.5 528,88.5 529.5,88 C531,87.5 533.8,86.9 534.8,87.3 C535.8,87.7 536.1,89.4 535.5,90.6 C534.9,91.8 531.9,93.3 530.9,94.6 C529.9,95.9 529.4,97.4 529.5,98.6 C529.6,99.8 531.5,100.8 531.5,101.9 C531.5,103 530.5,104.2 529.5,105.2 C528.5,106.2 525.9,106.8 525.5,107.9 C525.1,109 526.8,110.1 526.9,111.9 C527,113.7 526.4,116.5 526.2,118.5 C526,120.5 526,122.4 525.5,123.9 C525,125.5 523.5,126.7 523.5,127.8 C523.5,128.9 525.8,129.7 525.5,130.5 C525.2,131.3 523.6,132.2 521.6,132.5 C519.6,132.8 515.5,132.9 513.6,132.5 C511.7,132.1 511.6,131.2 510.3,129.8 C509,128.4 506.6,125.8 505.6,123.9 C504.6,122 504.2,120 504.3,118.5 C504.4,117 506.3,115.7 506.3,114.6 C506.3,113.5 504,112.8 504.3,111.9 C504.6,111 506.9,110.1 508.3,109.2 C509.7,108.3 512.5,107.7 512.9,106.6 C513.3,105.5 511.9,103.7 510.9,102.6 C509.9,101.5 507.8,101.2 506.9,99.9 C506,98.6 505.3,95.9 505.6,94.6Z" fill="#0000e4" stroke="#00008a" stroke-width="3.6" stroke-linejoin="round" clip-path="url(#bp9)"/>
<g transform="translate(511,96) rotate(-10)"><ellipse rx="5" ry="3" fill="#00c8f0"/><ellipse rx="3.1" ry="1.9" fill="#40f080"/><ellipse rx="1.9" ry="1.2" fill="#f0f000"/><ellipse rx="1.2" ry="0.7" fill="#ff2000"/></g>
<g transform="translate(526.9,101.9) rotate(0)"><ellipse rx="2.5" ry="1.5" fill="#0048ff"/><ellipse rx="1.6" ry="0.9" fill="#00c8f0"/></g>
<g transform="translate(520.9,118.5) rotate(0)"><ellipse rx="3" ry="4" fill="#0048ff"/><ellipse rx="1.9" ry="2.5" fill="#00c8f0"/><ellipse rx="1.2" ry="1.5" fill="#40f080"/><ellipse rx="0.7" ry="1" fill="#f0f000"/></g>
<g transform="translate(508.9,121.9) rotate(0)"><ellipse rx="2" ry="1.2" fill="#0048ff"/><ellipse rx="1.2" ry="0.7" fill="#00c8f0"/></g>
<g transform="translate(516,127) rotate(0)"><ellipse rx="4" ry="2" fill="#0048ff"/></g>
<g transform="translate(616.3,37.7) rotate(0)"><ellipse rx="4" ry="2.5" fill="#000088"/><ellipse rx="2.9" ry="1.4" fill="#0000ee"/></g>
<g transform="translate(623,50) rotate(-20)"><ellipse rx="9" ry="4" fill="#000088"/><ellipse rx="7.9" ry="2.9" fill="#0000ee"/><ellipse rx="4.5" ry="2" fill="#0048ff"/><ellipse rx="3.1" ry="1.4" fill="#00b8f0"/><ellipse rx="2.2" ry="1" fill="#40f0a0"/></g>
<g transform="translate(635.9,58.4) rotate(0)"><ellipse rx="4" ry="1.8" fill="#000088"/><ellipse rx="2.9" ry="0.7" fill="#0000ee"/></g>
<g transform="translate(625.8,65) rotate(0)"><ellipse rx="4" ry="1.8" fill="#000088"/><ellipse rx="2.9" ry="0.7" fill="#0000ee"/></g>
<g transform="translate(635.9,72.1) rotate(0)"><ellipse rx="4" ry="1.8" fill="#000088"/><ellipse rx="2.9" ry="0.7" fill="#0000ee"/></g>
<g transform="translate(647.7,85.1) rotate(0)"><ellipse rx="2.5" ry="1.3" fill="#000088"/></g>
<g transform="translate(636.2,86.6) rotate(0)"><ellipse rx="5" ry="3.5" fill="#000088"/><ellipse rx="3.9" ry="2.4" fill="#0000ee"/></g>
<g transform="translate(648.2,85.3) rotate(0)"><ellipse rx="2.5" ry="1.5" fill="#000088"/><ellipse rx="1.4" ry="0.6" fill="#0000ee"/></g>
<clipPath id="bp10"><path d="M632.2,85.3 C632.8,84.4 634.8,83.9 636.2,84 C637.6,84.1 639.9,85.1 640.8,86 C641.7,86.9 640.7,88.4 641.5,89.3 C642.3,90.2 644.3,90.6 645.5,91.3 C646.7,92 648.3,92.3 648.8,93.3 C649.2,94.3 648.8,96.2 648.2,97.3 C647.7,98.4 645.7,98.8 645.5,99.9 C645.3,101 645.7,103 646.8,103.9 C647.9,104.8 650.5,104.5 652.1,105.2 C653.7,105.9 655.2,106.3 656.1,107.9 C657,109.5 657.3,112.6 657.5,114.6 C657.7,116.6 657.8,118.6 657.5,119.9 C657.2,121.2 656.3,122.3 655.5,122.5 C654.7,122.7 653.9,122 652.8,121.2 C651.7,120.4 650.2,118.4 648.8,117.9 C647.4,117.5 645.3,118.8 644.2,118.5 C643.1,118.2 642.9,117 642.2,115.9 C641.5,114.8 641,113.5 640.2,111.9 C639.4,110.4 637.7,108 637.5,106.6 C637.3,105.2 639.1,104.4 638.9,103.3 C638.7,102.2 637.4,101 636.2,99.9 C635,98.8 632.5,97.6 631.5,96.6 C630.5,95.6 629.9,94.7 630.2,94 C630.5,93.3 633,93.4 633.5,92.6 C634,91.8 633.1,90.5 632.9,89.3 C632.7,88.1 631.7,86.2 632.2,85.3Z"/></clipPath><path d="M632.2,85.3 C632.8,84.4 634.8,83.9 636.2,84 C637.6,84.1 639.9,85.1 640.8,86 C641.7,86.9 640.7,88.4 641.5,89.3 C642.3,90.2 644.3,90.6 645.5,91.3 C646.7,92 648.3,92.3 648.8,93.3 C649.2,94.3 648.8,96.2 648.2,97.3 C647.7,98.4 645.7,98.8 645.5,99.9 C645.3,101 645.7,103 646.8,103.9 C647.9,104.8 650.5,104.5 652.1,105.2 C653.7,105.9 655.2,106.3 656.1,107.9 C657,109.5 657.3,112.6 657.5,114.6 C657.7,116.6 657.8,118.6 657.5,119.9 C657.2,121.2 656.3,122.3 655.5,122.5 C654.7,122.7 653.9,122 652.8,121.2 C651.7,120.4 650.2,118.4 648.8,117.9 C647.4,117.5 645.3,118.8 644.2,118.5 C643.1,118.2 642.9,117 642.2,115.9 C641.5,114.8 641,113.5 640.2,111.9 C639.4,110.4 637.7,108 637.5,106.6 C637.3,105.2 639.1,104.4 638.9,103.3 C638.7,102.2 637.4,101 636.2,99.9 C635,98.8 632.5,97.6 631.5,96.6 C630.5,95.6 629.9,94.7 630.2,94 C630.5,93.3 633,93.4 633.5,92.6 C634,91.8 633.1,90.5 632.9,89.3 C632.7,88.1 631.7,86.2 632.2,85.3Z" fill="#0000e4" stroke="#00008a" stroke-width="3.6" stroke-linejoin="round" clip-path="url(#bp10)"/>
<g transform="translate(640,95.3) rotate(0)"><ellipse rx="6" ry="1.8" fill="#00c8f0"/><ellipse rx="3.7" ry="1.1" fill="#40f080"/><ellipse rx="2.3" ry="0.7" fill="#f0f000"/></g>
<g transform="translate(644.2,95.3) rotate(0)"><ellipse rx="1.2" ry="1" fill="#ff2000"/></g>
<g transform="translate(645.5,110) rotate(0)"><ellipse rx="3" ry="3.5" fill="#0048ff"/><ellipse rx="1.9" ry="2.2" fill="#00c8f0"/><ellipse rx="1.2" ry="1.3" fill="#40f080"/></g>
<g transform="translate(654.1,118.5) rotate(0)"><ellipse rx="1.8" ry="1.2" fill="#ff8000"/></g>
<g transform="translate(656,113.2) rotate(0)"><ellipse rx="1.2" ry="2.5" fill="#00c8f0"/></g>
<g transform="translate(648.2,131.8) rotate(-15)"><ellipse rx="1.5" ry="3.5" fill="#000088"/><ellipse rx="0.6" ry="2.4" fill="#0000ee"/></g>
<text transform="translate(488.4,6.9) scale(0.84,1)" class="tiny">Left Side</text>
<text transform="translate(672.4,6.9) scale(0.84,1)" class="tiny" text-anchor="end">centric relation</text>
<path d="M495.6,129.8 C496.6,125.9 499.6,113.2 501.6,106.6 C503.6,100 505.9,94.9 507.8,90 C509.7,85.1 511,82.5 513.1,77.4 C515.2,72.3 517.7,65.5 520.2,59.6 C522.7,53.7 525.2,46.8 527.9,41.9 C530.6,37 533.4,33 536.2,30 C539,27 540.9,26 544.8,23.7 C548.7,21.4 553.7,17.8 559.6,16.3 C565.5,14.8 573.2,14.8 580.4,14.8 C587.6,14.8 596.2,14.9 602.6,16.3 C609,17.7 614.9,20.9 618.9,23 C622.9,25.1 624,25.9 626.5,29 C629,32.1 631.5,37.2 634.1,41.9 C636.8,46.6 640,52.4 642.4,57.3 C644.8,62.2 646.3,66 648.3,71.5 C650.3,77 652.3,85.3 654.3,90 C656.3,94.7 657.9,92.7 660.1,99.9 C662.3,107.1 666.2,127.6 667.4,133.2" fill="none" stroke="#d8d038" stroke-width="1.25"/>
<path d="M667.4,133.2 C667.1,134.1 666.8,137.1 665.4,138.5 C664,139.9 661.7,141.1 658.8,141.8 C655.9,142.5 651.3,142.8 648.2,142.5 C645.1,142.2 642,141.1 640.2,139.8 C638.4,138.5 638,135.4 637.5,134.5" fill="none" stroke="#d8d038" stroke-width="1.25"/>
<path d="M637.5,134.5 C636.4,129.4 632.4,111.3 630.9,103.9 C629.4,96.5 629.1,93.6 628.2,90 C627.4,86.4 627,85.8 625.8,82.1 C624.6,78.4 622.9,72.6 621.1,67.9 C619.3,63.2 617.5,58 615.1,53.7 C612.7,49.4 609.7,45 606.9,41.9 C604.1,38.8 602.5,36.5 598.1,34.8 C593.7,33.1 585.3,32.3 580.4,31.9 C575.5,31.5 572.2,31.5 568.8,32.4 C565.4,33.3 562.4,34.9 559.9,37.1 C557.4,39.3 556,41.9 554,45.4 C552,48.9 550,53.5 548.1,58.4 C546.2,63.3 544.2,69.7 542.7,75 C541.2,80.3 540.5,84.1 539.2,90 C537.9,95.9 536.3,103.4 534.8,110.6 C533.3,117.8 531,129.4 530.2,133.2" fill="none" stroke="#d8d038" stroke-width="1.25"/>
<path d="M530.2,133.2 C529.7,133.8 529,135.9 526.9,137.1 C524.8,138.3 520.9,140.1 517.6,140.5 C514.3,140.9 510.2,140.6 506.9,139.8 C503.6,139 499.5,137.5 497.6,135.8 C495.7,134.1 495.9,130.8 495.6,129.8" fill="none" stroke="#d8d038" stroke-width="1.25"/>
<path d="M506.9,134.5 C508,129.8 511.5,114 513.6,106.6 C515.7,99.2 517.7,95.8 519.6,90 C521.5,84.2 523.1,77.2 525,71.5 C526.9,65.8 528.8,61 530.9,56.1 C533,51.2 534.7,46.2 537.4,41.9 C540.1,37.5 542.5,33 546.9,30 C551.3,27 558.4,25.1 564,23.7 C569.6,22.3 574.5,21.5 580.4,21.5 C586.3,21.5 594.2,22.3 599.6,23.7 C605,25.1 608.8,26.8 612.8,30 C616.8,33.2 620.4,38.5 623.4,43 C626.4,47.5 628.2,52.1 630.6,57.3 C633,62.4 635.5,68.5 637.7,73.9 C639.9,79.4 641.9,85 643.6,90 C645.4,95 646,96.5 648.2,103.9 C650.4,111.3 655.4,129.4 656.8,134.5" fill="none" stroke="#d8d038" stroke-width="1.25"/>
<path d="M639.5,145.1 L668.8,142.5" fill="none" stroke="#d8d038" stroke-width="1.25"/>
<line x1="581" y1="8.9" x2="580.6" y2="34.8" stroke="#2a2a2a" stroke-width="1.1"/>
<line x1="558.1" y1="17" x2="561.9" y2="36.3" stroke="#2a2a2a" stroke-width="1.1"/>
<line x1="603.3" y1="17" x2="599.6" y2="35.6" stroke="#2a2a2a" stroke-width="1.1"/>
<line x1="538.9" y1="28.1" x2="555.9" y2="43.7" stroke="#2a2a2a" stroke-width="1.1"/>
<line x1="621.9" y1="28.1" x2="607.6" y2="42" stroke="#2a2a2a" stroke-width="1.1"/>
<line x1="526.1" y1="45.4" x2="549.3" y2="56.7" stroke="#2a2a2a" stroke-width="1.1"/>
<line x1="517.3" y1="62" x2="543.9" y2="72.7" stroke="#2a2a2a" stroke-width="1.1"/>
<line x1="510.1" y1="79.2" x2="539.2" y2="88.1" stroke="#2a2a2a" stroke-width="1.1"/>
<line x1="502.3" y1="104.6" x2="534.2" y2="112.6" stroke="#2a2a2a" stroke-width="1.1"/>
<line x1="495.6" y1="129.2" x2="529.5" y2="135.1" stroke="#2a2a2a" stroke-width="1.1"/>
<line x1="615.7" y1="55.5" x2="635.3" y2="44.2" stroke="#2a2a2a" stroke-width="1.1"/>
<line x1="622.3" y1="69.7" x2="643.6" y2="60.2" stroke="#2a2a2a" stroke-width="1.1"/>
<line x1="626.4" y1="83.3" x2="650.1" y2="76.2" stroke="#2a2a2a" stroke-width="1.1"/>
<line x1="632.2" y1="108.6" x2="658.1" y2="101.3" stroke="#2a2a2a" stroke-width="1.1"/>
<line x1="637.5" y1="130.5" x2="664.8" y2="124.5" stroke="#2a2a2a" stroke-width="1.1"/>
<rect x="563.6" y="9.8" width="6.7" height="5.6" fill="#fff" stroke="#e2e2e2" stroke-width="0.5"/>
<text transform="translate(567,14.5) scale(0.82,1)" class="tl">21</text>
<rect x="591" y="9.8" width="6.7" height="5.6" fill="#fff" stroke="#e2e2e2" stroke-width="0.5"/>
<text transform="translate(594.4,14.5) scale(0.82,1)" class="tl">11</text>
<rect x="538.5" y="17.2" width="6.7" height="5.6" fill="#fff" stroke="#e2e2e2" stroke-width="0.5"/>
<text transform="translate(541.9,21.9) scale(0.82,1)" class="tl">22</text>
<rect x="616.2" y="17.2" width="6.7" height="5.6" fill="#fff" stroke="#e2e2e2" stroke-width="0.5"/>
<text transform="translate(619.6,21.9) scale(0.82,1)" class="tl">12</text>
<rect x="522.2" y="34.3" width="6.7" height="5.6" fill="#fff" stroke="#e2e2e2" stroke-width="0.5"/>
<text transform="translate(525.6,39) scale(0.82,1)" class="tl">23</text>
<rect x="510.9" y="51.5" width="6.7" height="5.6" fill="#fff" stroke="#e2e2e2" stroke-width="0.5"/>
<text transform="translate(514.3,56.2) scale(0.82,1)" class="tl">24</text>
<rect x="503.2" y="68.1" width="6.7" height="5.6" fill="#fff" stroke="#e2e2e2" stroke-width="0.5"/>
<text transform="translate(506.6,72.8) scale(0.82,1)" class="tl">25</text>
<rect x="495.6" y="89.2" width="6.7" height="5.6" fill="#fff" stroke="#e2e2e2" stroke-width="0.5"/>
<text transform="translate(499,93.9) scale(0.82,1)" class="tl">26</text>
<rect x="488.3" y="114.4" width="6.7" height="5.6" fill="#fff" stroke="#e2e2e2" stroke-width="0.5"/>
<text transform="translate(491.7,119.1) scale(0.82,1)" class="tl">27</text>
<rect x="632.5" y="33.1" width="6.7" height="5.6" fill="#fff" stroke="#e2e2e2" stroke-width="0.5"/>
<text transform="translate(635.9,37.8) scale(0.82,1)" class="tl">13</text>
<rect x="642.6" y="49.7" width="6.7" height="5.6" fill="#fff" stroke="#e2e2e2" stroke-width="0.5"/>
<text transform="translate(646,54.4) scale(0.82,1)" class="tl">14</text>
<rect x="650.3" y="65.7" width="6.7" height="5.6" fill="#fff" stroke="#e2e2e2" stroke-width="0.5"/>
<text transform="translate(653.7,70.4) scale(0.82,1)" class="tl">15</text>
<rect x="657.4" y="85.8" width="6.7" height="5.6" fill="#fff" stroke="#e2e2e2" stroke-width="0.5"/>
<text transform="translate(660.8,90.5) scale(0.82,1)" class="tl">16</text>
<rect x="664.7" y="109.8" width="6.7" height="5.6" fill="#fff" stroke="#e2e2e2" stroke-width="0.5"/>
<text transform="translate(668.1,114.5) scale(0.82,1)" class="tl">17</text>
<rect x="669.6" y="130.4" width="6.7" height="5.6" fill="#fff" stroke="#e2e2e2" stroke-width="0.5"/>
<text transform="translate(673,135.1) scale(0.82,1)" class="tl">18</text>
<rect x="562.2" y="39.9" width="8.2" height="5.6" fill="#fff" stroke="#e2e2e2" stroke-width="0.5"/>
<text transform="translate(566.3,44.6) scale(0.82,1)" class="tl">1%</text>
<rect x="570.3" y="35.7" width="8.2" height="5.6" fill="#fff" stroke="#e2e2e2" stroke-width="0.5"/>
<text transform="translate(574.4,40.4) scale(0.82,1)" class="tl">3%</text>
<rect x="582.9" y="35" width="8.2" height="5.6" fill="#fff" stroke="#e2e2e2" stroke-width="0.5"/>
<text transform="translate(587,39.7) scale(0.82,1)" class="tl">4%</text>
<rect x="591.8" y="38.7" width="8.2" height="5.6" fill="#fff" stroke="#e2e2e2" stroke-width="0.5"/>
<text transform="translate(595.9,43.4) scale(0.82,1)" class="tl">1%</text>
<rect x="555.8" y="49.7" width="8.2" height="5.6" fill="#fff" stroke="#e2e2e2" stroke-width="0.5"/>
<text transform="translate(559.9,54.4) scale(0.82,1)" class="tl">3%</text>
<rect x="549.3" y="63.9" width="8.2" height="5.6" fill="#fff" stroke="#e2e2e2" stroke-width="0.5"/>
<text transform="translate(553.4,68.6) scale(0.82,1)" class="tl">3%</text>
<rect x="544.6" y="80.3" width="8.2" height="5.6" fill="#fff" stroke="#e2e2e2" stroke-width="0.5"/>
<text transform="translate(548.7,85) scale(0.82,1)" class="tl">2%</text>
<rect x="539.5" y="100.1" width="10.5" height="5.6" fill="#fff" stroke="#e2e2e2" stroke-width="0.5"/>
<text transform="translate(544.8,104.8) scale(0.82,1)" class="tl">18%</text>
<rect x="535.5" y="123" width="10.5" height="5.6" fill="#fff" stroke="#e2e2e2" stroke-width="0.5"/>
<text transform="translate(540.8,127.7) scale(0.82,1)" class="tl">18%</text>
<rect x="532.7" y="141.7" width="8.2" height="5.6" fill="#fff" stroke="#e2e2e2" stroke-width="0.5"/>
<text transform="translate(536.8,146.4) scale(0.82,1)" class="tl">0%</text>
<rect x="599.8" y="48.5" width="8.2" height="5.6" fill="#fff" stroke="#e2e2e2" stroke-width="0.5"/>
<text transform="translate(603.9,53.2) scale(0.82,1)" class="tl">5%</text>
<rect x="606.9" y="62.2" width="8.2" height="5.6" fill="#fff" stroke="#e2e2e2" stroke-width="0.5"/>
<text transform="translate(611,66.9) scale(0.82,1)" class="tl">6%</text>
<rect x="612.2" y="75.8" width="8.2" height="5.6" fill="#fff" stroke="#e2e2e2" stroke-width="0.5"/>
<text transform="translate(616.3,80.5) scale(0.82,1)" class="tl">1%</text>
<rect x="614.9" y="95.1" width="10.5" height="5.6" fill="#fff" stroke="#e2e2e2" stroke-width="0.5"/>
<text transform="translate(620.2,99.8) scale(0.82,1)" class="tl">10%</text>
<rect x="620.3" y="119.1" width="10.5" height="5.6" fill="#fff" stroke="#e2e2e2" stroke-width="0.5"/>
<text transform="translate(625.6,123.8) scale(0.82,1)" class="tl">17%</text>
<rect x="626.1" y="137" width="8.2" height="5.6" fill="#fff" stroke="#e2e2e2" stroke-width="0.5"/>
<text transform="translate(630.2,141.7) scale(0.82,1)" class="tl">1%</text>
<rect x="145" y="167" width="186" height="147.1" fill="#cacaca"/>
<path d="M206,167 L196.7,176 L187.7,186 L180.4,196 L174.9,206 L170.5,216 L166,226 L162.5,236 L159,246 L156.2,256 L153.5,266 L151,277 L148.8,288 L147,298 L145.8,308 L145.3,314.1 L329.7,314.1 L329.2,308 L328,298 L326.2,288 L324,277 L321.5,266 L318.8,256 L316,246 L312.5,236 L309,226 L304.5,216 L300.1,206 L294.6,196 L287.3,186 L278.3,176 L269,167Z" fill="#fff"/>
<polygon points="224,237 251,237 258,243.5 274,314.1 202,314.1 218,243.5" fill="#cacaca"/>
<g transform="translate(225.6,193.4) rotate(0)"><ellipse rx="4.5" ry="3.5" fill="#000088"/><ellipse rx="3.4" ry="2.4" fill="#0000ee"/></g>
<g transform="translate(243.3,189.7) rotate(-20)"><ellipse rx="4" ry="2.5" fill="#000088"/><ellipse rx="2.9" ry="1.4" fill="#0000ee"/></g>
<g transform="translate(207.8,196.4) rotate(-40)"><ellipse rx="2.5" ry="1" fill="#000088"/></g>
<g transform="translate(255.9,198.9) rotate(0)"><ellipse rx="3.5" ry="1.5" fill="#000088"/><ellipse rx="2.4" ry="0.6" fill="#0000ee"/></g>
<g transform="translate(274.4,205.3) rotate(0)"><ellipse rx="5" ry="1.8" fill="#000088"/><ellipse rx="3.9" ry="0.7" fill="#0000ee"/></g>
<clipPath id="bp11"><path d="M190.3,207.9 C191,207.2 192.3,207.4 193.9,207.3 C195.5,207.2 198.3,207 199.8,207.3 C201.3,207.6 202.5,208.4 202.7,209 C202.9,209.6 202.1,210.3 201,210.8 C199.9,211.3 197.5,211.5 196.2,212 C194.9,212.5 193.9,212.8 193.3,213.8 C192.7,214.8 192.7,216.4 192.7,217.9 C192.7,219.4 192.7,221.5 193.3,222.7 C193.9,223.9 195.7,224.1 196.2,225 C196.7,225.9 196.8,227.2 196.2,228 C195.6,228.8 193.9,229.3 192.7,229.8 C191.5,230.3 190.1,230.3 189.1,231 C188.1,231.7 187,232.8 186.7,233.9 C186.4,235 186.5,236.7 187.3,237.5 C188.1,238.3 190.6,237.9 191.5,238.7 C192.4,239.5 192.9,241.2 192.7,242.2 C192.5,243.2 191.4,244.1 190.3,244.6 C189.2,245.1 187,245.5 186.1,245.2 C185.2,244.9 185.4,244.3 185,242.8 C184.6,241.3 184.7,237.5 183.8,236.3 C182.9,235.1 180.6,236.3 179.6,235.7 C178.6,235.1 177.7,233.5 177.9,232.7 C178.1,231.9 179.5,231.4 180.8,231 C182.1,230.6 184.7,231.1 185.6,230.4 C186.5,229.7 186.1,228 186.1,226.8 C186.1,225.6 185.3,224.4 185.6,223.3 C185.9,222.2 187.8,221.3 187.9,220.3 C188,219.3 186.7,218.2 186.1,217.3 C185.5,216.4 184.1,215.6 184.4,215 C184.7,214.4 187,214.4 187.9,213.8 C188.8,213.2 189.3,212.4 189.7,211.4 C190.1,210.4 189.6,208.6 190.3,207.9Z"/></clipPath><path d="M190.3,207.9 C191,207.2 192.3,207.4 193.9,207.3 C195.5,207.2 198.3,207 199.8,207.3 C201.3,207.6 202.5,208.4 202.7,209 C202.9,209.6 202.1,210.3 201,210.8 C199.9,211.3 197.5,211.5 196.2,212 C194.9,212.5 193.9,212.8 193.3,213.8 C192.7,214.8 192.7,216.4 192.7,217.9 C192.7,219.4 192.7,221.5 193.3,222.7 C193.9,223.9 195.7,224.1 196.2,225 C196.7,225.9 196.8,227.2 196.2,228 C195.6,228.8 193.9,229.3 192.7,229.8 C191.5,230.3 190.1,230.3 189.1,231 C188.1,231.7 187,232.8 186.7,233.9 C186.4,235 186.5,236.7 187.3,237.5 C188.1,238.3 190.6,237.9 191.5,238.7 C192.4,239.5 192.9,241.2 192.7,242.2 C192.5,243.2 191.4,244.1 190.3,244.6 C189.2,245.1 187,245.5 186.1,245.2 C185.2,244.9 185.4,244.3 185,242.8 C184.6,241.3 184.7,237.5 183.8,236.3 C182.9,235.1 180.6,236.3 179.6,235.7 C178.6,235.1 177.7,233.5 177.9,232.7 C178.1,231.9 179.5,231.4 180.8,231 C182.1,230.6 184.7,231.1 185.6,230.4 C186.5,229.7 186.1,228 186.1,226.8 C186.1,225.6 185.3,224.4 185.6,223.3 C185.9,222.2 187.8,221.3 187.9,220.3 C188,219.3 186.7,218.2 186.1,217.3 C185.5,216.4 184.1,215.6 184.4,215 C184.7,214.4 187,214.4 187.9,213.8 C188.8,213.2 189.3,212.4 189.7,211.4 C190.1,210.4 189.6,208.6 190.3,207.9Z" fill="#0000e4" stroke="#00008a" stroke-width="3.6" stroke-linejoin="round" clip-path="url(#bp11)"/>
<g transform="translate(190.9,226.6) rotate(20)"><ellipse rx="1.5" ry="2" fill="#00c8f0"/></g>
<g transform="translate(175,254.8) rotate(0)"><ellipse rx="5" ry="2" fill="#000088"/><ellipse rx="3.9" ry="0.9" fill="#0000ee"/></g>
<g transform="translate(190,254.8) rotate(0)"><ellipse rx="4" ry="2" fill="#000088"/><ellipse rx="2.9" ry="0.9" fill="#0000ee"/></g>
<clipPath id="bp12"><path d="M171.3,255.3 C172.3,254.9 174.3,254.3 175.2,254.6 C176.1,254.9 175.8,256.5 176.6,257.3 C177.4,258.1 178.7,259.4 179.9,259.3 C181.1,259.2 182.6,257.4 183.9,256.6 C185.2,255.8 186.4,254.9 187.9,254.6 C189.4,254.3 192.1,254.1 193.2,254.6 C194.3,255.1 194.9,256.3 194.5,257.3 C194.1,258.3 191.5,259.4 190.5,260.6 C189.5,261.8 188.7,263.1 188.5,264.6 C188.3,266.2 189.3,268.3 189.2,269.9 C189.1,271.4 188.8,273 187.9,273.9 C187,274.8 185.2,274.3 183.9,275.2 C182.6,276.1 180.9,277.6 179.9,279.2 C178.9,280.8 177.6,282.7 177.9,284.5 C178.2,286.3 180.9,288.3 181.9,289.9 C182.9,291.4 183.9,292.6 183.9,293.8 C183.9,295 182.8,296.8 181.9,297.2 C181,297.6 179.6,297.5 178.6,296.5 C177.6,295.5 176.9,292.3 175.9,291.2 C174.9,290.1 173.6,289.5 172.6,289.9 C171.6,290.3 171,292.6 169.9,293.8 C168.8,295 167.3,297.2 165.9,297.2 C164.5,297.2 162.1,295 161.3,293.8 C160.5,292.6 160.6,291 161.3,289.9 C162,288.8 164.2,288.1 165.3,287.2 C166.4,286.3 168,285.4 167.9,284.5 C167.8,283.6 165,283 164.6,281.9 C164.2,280.8 164.5,279 165.3,277.9 C166.1,276.8 169.1,276.3 169.3,275.2 C169.5,274.1 167.5,272.8 166.6,271.2 C165.7,269.6 164.1,267.7 163.9,265.9 C163.7,264.1 164.4,262 165.3,260.6 C166.2,259.2 168.3,258.2 169.3,257.3 C170.3,256.4 170.3,255.8 171.3,255.3Z"/></clipPath><path d="M171.3,255.3 C172.3,254.9 174.3,254.3 175.2,254.6 C176.1,254.9 175.8,256.5 176.6,257.3 C177.4,258.1 178.7,259.4 179.9,259.3 C181.1,259.2 182.6,257.4 183.9,256.6 C185.2,255.8 186.4,254.9 187.9,254.6 C189.4,254.3 192.1,254.1 193.2,254.6 C194.3,255.1 194.9,256.3 194.5,257.3 C194.1,258.3 191.5,259.4 190.5,260.6 C189.5,261.8 188.7,263.1 188.5,264.6 C188.3,266.2 189.3,268.3 189.2,269.9 C189.1,271.4 188.8,273 187.9,273.9 C187,274.8 185.2,274.3 183.9,275.2 C182.6,276.1 180.9,277.6 179.9,279.2 C178.9,280.8 177.6,282.7 177.9,284.5 C178.2,286.3 180.9,288.3 181.9,289.9 C182.9,291.4 183.9,292.6 183.9,293.8 C183.9,295 182.8,296.8 181.9,297.2 C181,297.6 179.6,297.5 178.6,296.5 C177.6,295.5 176.9,292.3 175.9,291.2 C174.9,290.1 173.6,289.5 172.6,289.9 C171.6,290.3 171,292.6 169.9,293.8 C168.8,295 167.3,297.2 165.9,297.2 C164.5,297.2 162.1,295 161.3,293.8 C160.5,292.6 160.6,291 161.3,289.9 C162,288.8 164.2,288.1 165.3,287.2 C166.4,286.3 168,285.4 167.9,284.5 C167.8,283.6 165,283 164.6,281.9 C164.2,280.8 164.5,279 165.3,277.9 C166.1,276.8 169.1,276.3 169.3,275.2 C169.5,274.1 167.5,272.8 166.6,271.2 C165.7,269.6 164.1,267.7 163.9,265.9 C163.7,264.1 164.4,262 165.3,260.6 C166.2,259.2 168.3,258.2 169.3,257.3 C170.3,256.4 170.3,255.8 171.3,255.3Z" fill="#0000e4" stroke="#00008a" stroke-width="3.6" stroke-linejoin="round" clip-path="url(#bp12)"/>
<g transform="translate(169.9,262.6) rotate(0)"><ellipse rx="3.5" ry="2" fill="#00c8f0"/><ellipse rx="2.2" ry="1.2" fill="#40f080"/></g>
<g transform="translate(183.9,262.6) rotate(0)"><ellipse rx="3" ry="2.2" fill="#00c8f0"/><ellipse rx="1.9" ry="1.4" fill="#40f080"/></g>
<g transform="translate(176.5,272.6) rotate(0)"><ellipse rx="4" ry="1.5" fill="#00c8f0"/></g>
<g transform="translate(172.6,272.6) rotate(0)"><ellipse rx="0.8" ry="0.8" fill="#ff8000"/></g>
<g transform="translate(165.3,292.5) rotate(0)"><ellipse rx="1.5" ry="1.2" fill="#00c8f0"/></g>
<g transform="translate(178,266) rotate(0)"><ellipse rx="5" ry="3" fill="#0048ff"/></g>
<g transform="translate(254.7,198.4) rotate(0)"><ellipse rx="4" ry="1.5" fill="#000088"/><ellipse rx="2.9" ry="0.6" fill="#0000ee"/></g>
<g transform="translate(282,219.1) rotate(-30)"><ellipse rx="7" ry="4.5" fill="#000088"/><ellipse rx="5.9" ry="3.4" fill="#0000ee"/><ellipse rx="3.5" ry="2.2" fill="#0048ff"/><ellipse rx="2.4" ry="1.5" fill="#00b8f0"/></g>
<g transform="translate(294.4,223.5) rotate(-40)"><ellipse rx="1.5" ry="3" fill="#000088"/><ellipse rx="0.6" ry="1.9" fill="#0000ee"/></g>
<g transform="translate(286.1,233.3) rotate(-30)"><ellipse rx="4" ry="2" fill="#000088"/><ellipse rx="2.9" ry="0.9" fill="#0000ee"/></g>
<g transform="translate(289.7,238.9) rotate(0)"><ellipse rx="0.8" ry="0.8" fill="#000088"/></g>
<g transform="translate(289.7,248.7) rotate(0)"><ellipse rx="0.8" ry="0.8" fill="#000088"/></g>
<g transform="translate(293.9,255.3) rotate(0)"><ellipse rx="5" ry="2" fill="#000088"/><ellipse rx="3.9" ry="0.9" fill="#0000ee"/><ellipse rx="2.5" ry="1" fill="#0048ff"/><ellipse rx="1.7" ry="0.7" fill="#00b8f0"/></g>
<g transform="translate(306.3,253.5) rotate(0)"><ellipse rx="1.5" ry="3" fill="#000088"/><ellipse rx="0.6" ry="1.9" fill="#0000ee"/></g>
<clipPath id="bp13"><path d="M289.9,254.6 C290.8,254 293.6,253.8 295.2,254 C296.8,254.2 298,255.3 299.2,256 C300.4,256.7 301.6,258.3 302.5,258 C303.4,257.7 303.8,255 304.5,254 C305.2,253 305.9,251.8 306.5,252 C307.1,252.2 307.8,253.9 307.8,255.3 C307.8,256.7 306.4,259.1 306.5,260.6 C306.6,262.2 308.2,263.4 308.5,264.6 C308.8,265.8 309.1,266.8 308.5,267.9 C307.9,269 305.6,269.8 305.2,271.2 C304.8,272.6 304.6,275.9 305.8,276.6 C307,277.3 311.4,274.8 312.5,275.2 C313.6,275.6 312.8,277.9 312.5,279.2 C312.2,280.5 310.4,281.9 310.5,283.2 C310.6,284.5 312.8,285.9 313.1,287.2 C313.4,288.5 312.3,289.4 312.5,291.2 C312.7,293 314.3,296 314.5,297.8 C314.7,299.6 314.6,300.8 313.8,301.8 C313,302.8 311.1,303.6 309.8,303.8 C308.5,304 306.6,303.9 305.8,303.1 C305,302.3 305,300.5 305.2,299.2 C305.4,297.9 307.4,296.5 307.1,295.2 C306.8,293.9 304.2,292.8 303.2,291.2 C302.2,289.6 301.4,287.7 301.2,285.9 C301,284.1 302.4,282.2 301.8,280.6 C301.2,279.1 298.7,278.1 297.8,276.6 C296.9,275.2 297.1,273.1 296.5,271.9 C295.9,270.7 294.8,270.5 293.9,269.3 C293,268.1 292,265.8 291.2,264.6 C290.4,263.4 289,262.8 289.2,261.9 C289.4,261 292.4,260.1 292.5,259.3 C292.6,258.5 290.3,258.1 289.9,257.3 C289.5,256.5 289,255.2 289.9,254.6Z"/></clipPath><path d="M289.9,254.6 C290.8,254 293.6,253.8 295.2,254 C296.8,254.2 298,255.3 299.2,256 C300.4,256.7 301.6,258.3 302.5,258 C303.4,257.7 303.8,255 304.5,254 C305.2,253 305.9,251.8 306.5,252 C307.1,252.2 307.8,253.9 307.8,255.3 C307.8,256.7 306.4,259.1 306.5,260.6 C306.6,262.2 308.2,263.4 308.5,264.6 C308.8,265.8 309.1,266.8 308.5,267.9 C307.9,269 305.6,269.8 305.2,271.2 C304.8,272.6 304.6,275.9 305.8,276.6 C307,277.3 311.4,274.8 312.5,275.2 C313.6,275.6 312.8,277.9 312.5,279.2 C312.2,280.5 310.4,281.9 310.5,283.2 C310.6,284.5 312.8,285.9 313.1,287.2 C313.4,288.5 312.3,289.4 312.5,291.2 C312.7,293 314.3,296 314.5,297.8 C314.7,299.6 314.6,300.8 313.8,301.8 C313,302.8 311.1,303.6 309.8,303.8 C308.5,304 306.6,303.9 305.8,303.1 C305,302.3 305,300.5 305.2,299.2 C305.4,297.9 307.4,296.5 307.1,295.2 C306.8,293.9 304.2,292.8 303.2,291.2 C302.2,289.6 301.4,287.7 301.2,285.9 C301,284.1 302.4,282.2 301.8,280.6 C301.2,279.1 298.7,278.1 297.8,276.6 C296.9,275.2 297.1,273.1 296.5,271.9 C295.9,270.7 294.8,270.5 293.9,269.3 C293,268.1 292,265.8 291.2,264.6 C290.4,263.4 289,262.8 289.2,261.9 C289.4,261 292.4,260.1 292.5,259.3 C292.6,258.5 290.3,258.1 289.9,257.3 C289.5,256.5 289,255.2 289.9,254.6Z" fill="#0000e4" stroke="#00008a" stroke-width="3.6" stroke-linejoin="round" clip-path="url(#bp13)"/>
<g transform="translate(293.9,256) rotate(0)"><ellipse rx="2" ry="1" fill="#00c8f0"/><ellipse rx="1.2" ry="0.6" fill="#40f080"/></g>
<g transform="translate(299.8,263.5) rotate(30)"><ellipse rx="3.5" ry="2" fill="#00c8f0"/><ellipse rx="2.2" ry="1.2" fill="#40f080"/><ellipse rx="1.3" ry="0.8" fill="#f0f000"/></g>
<g transform="translate(302.5,265.9) rotate(0)"><ellipse rx="0.9" ry="0.9" fill="#ff00c0"/></g>
<g transform="translate(300.5,272.6) rotate(0)"><ellipse rx="2.5" ry="1.3" fill="#00c8f0"/></g>
<g transform="translate(304.5,280.6) rotate(0)"><ellipse rx="2.5" ry="2.5" fill="#0048ff"/><ellipse rx="1.6" ry="1.6" fill="#00c8f0"/><ellipse rx="1" ry="1" fill="#40f080"/></g>
<g transform="translate(311,289.2) rotate(0)"><ellipse rx="1.8" ry="1.3" fill="#00c8f0"/></g>
<g transform="translate(312.5,289.2) rotate(0)"><ellipse rx="0.8" ry="0.8" fill="#ff2000"/></g>
<g transform="translate(309.5,298) rotate(0)"><ellipse rx="3" ry="3" fill="#0048ff"/></g>
<text transform="translate(146,172.9) scale(0.84,1)" class="tiny">Left Side</text>
<text transform="translate(330,172.9) scale(0.84,1)" class="tiny" text-anchor="end">centric relation</text>
<path d="M154,295.2 C155.2,290.3 159.4,272.4 161.3,265.9 C163.2,259.4 163.6,260.3 165.4,256 C167.2,251.7 169.5,245.3 171.9,239.9 C174.3,234.5 176.9,228.6 179.6,223.3 C182.3,218 185,212.2 187.9,207.9 C190.8,203.6 194,200.1 196.8,197.2 C199.6,194.3 201,192.4 204.8,190.4 C208.6,188.4 214.2,186.3 219.6,185.3 C225,184.3 231,184.4 237.4,184.5 C243.8,184.6 251.7,184.9 258.1,186 C264.5,187.1 271.1,187.9 275.9,191.2 C280.7,194.4 283.5,200.8 286.7,205.5 C289.9,210.2 292.4,214.8 295,219.7 C297.6,224.6 299.9,230 302.1,235.1 C304.3,240.2 306.7,247 308.1,250.5 C309.5,254 308.9,253 310.5,256 C312.1,259 315,261 317.8,268.6 C320.6,276.2 325.6,296.3 327.1,301.8" fill="none" stroke="#d8d038" stroke-width="1.25"/>
<path d="M327.1,301.8 C326.7,302.6 326.2,305.2 324.4,306.5 C322.6,307.8 319.5,309.4 316.4,309.8 C313.3,310.2 308.9,309.9 305.8,309.1 C302.7,308.3 299.5,306.5 297.8,305.1 C296.1,303.7 296.1,301.3 295.8,300.5" fill="none" stroke="#d8d038" stroke-width="1.25"/>
<path d="M295.8,300.5 C294.7,295.2 290.9,276 289.2,268.6 C287.5,261.2 287,260.6 285.6,256 C284.2,251.4 282.6,245.9 280.8,241 C279,236.1 276.9,231.1 274.9,226.8 C272.9,222.5 271.4,218.6 269,215 C266.6,211.4 263.9,208 260.7,205.5 C257.5,203 253.9,201.2 250,200.1 C246.1,198.9 241.7,198.3 237.4,198.6 C233.1,198.8 227,200.6 224.1,201.6 C221.2,202.6 221.8,202.5 219.9,204.3 C218,206.1 215,209.2 212.8,212.6 C210.6,215.9 208.7,220.2 206.9,224.4 C205.1,228.6 203.7,232.2 202.1,237.5 C200.5,242.8 199.1,247.3 197.4,256 C195.7,264.7 193.3,282.7 191.9,289.9 C190.5,297.1 189.6,297.6 189.2,299.2" fill="none" stroke="#d8d038" stroke-width="1.25"/>
<path d="M189.2,299.2 C188.3,299.9 186.3,302.1 183.9,303.1 C181.5,304.1 177.7,304.9 174.6,305.1 C171.5,305.3 168.4,305.3 165.3,304.5 C162.2,303.7 157.9,302.1 156,300.5 C154.1,298.9 154.3,296.1 154,295.2" fill="none" stroke="#d8d038" stroke-width="1.25"/>
<path d="M165.3,301.8 C166.3,297.6 169.1,284.2 171.3,276.6 C173.5,269 176.2,262.9 178.4,256 C180.6,249.1 182.2,241.2 184.4,235.1 C186.6,229 189.1,224.2 191.5,219.7 C193.9,215.2 195.2,210.9 198.6,207.9 C202,204.9 207.5,204 212.2,201.6 C216.9,199.2 222.6,195 227,193.4 C231.4,191.8 234,191.8 238.9,191.9 C243.8,192 252.3,193.4 256.7,194.1 C261.1,194.8 262,193.9 265.4,196 C268.8,198.1 273.9,202.9 277.3,206.7 C280.7,210.4 283,214 285.6,218.5 C288.2,223 290.5,229 292.7,233.9 C294.9,238.8 297.2,244.4 298.6,248.1 C300,251.8 299.6,253 301,256 C302.4,259 304.6,258.3 307.1,265.9 C309.6,273.5 314.4,295.8 315.8,301.8" fill="none" stroke="#d8d038" stroke-width="1.25"/>
<path d="M299.2,313.8 L329.1,311.1" fill="none" stroke="#d8d038" stroke-width="1.25"/>
<line x1="237.4" y1="178.6" x2="237.4" y2="205.3" stroke="#2a2a2a" stroke-width="1.1"/>
<line x1="215.2" y1="187.5" x2="218.7" y2="203.7" stroke="#2a2a2a" stroke-width="1.1"/>
<line x1="260.4" y1="187.5" x2="257.4" y2="202.3" stroke="#2a2a2a" stroke-width="1.1"/>
<line x1="196.7" y1="197.9" x2="212.2" y2="212.6" stroke="#2a2a2a" stroke-width="1.1"/>
<line x1="278.9" y1="197.1" x2="267" y2="210.4" stroke="#2a2a2a" stroke-width="1.1"/>
<line x1="183.2" y1="215.6" x2="205.1" y2="228" stroke="#2a2a2a" stroke-width="1.1"/>
<line x1="174.3" y1="232.7" x2="200.4" y2="243.4" stroke="#2a2a2a" stroke-width="1.1"/>
<line x1="167.8" y1="249.9" x2="196.5" y2="259.3" stroke="#2a2a2a" stroke-width="1.1"/>
<line x1="159.3" y1="275.2" x2="191.9" y2="283.2" stroke="#2a2a2a" stroke-width="1.1"/>
<line x1="153.3" y1="299.8" x2="187.9" y2="302.5" stroke="#2a2a2a" stroke-width="1.1"/>
<line x1="275.5" y1="223.9" x2="292.7" y2="213.2" stroke="#2a2a2a" stroke-width="1.1"/>
<line x1="281.4" y1="238.1" x2="302.1" y2="229.2" stroke="#2a2a2a" stroke-width="1.1"/>
<line x1="285.6" y1="252.9" x2="308.7" y2="244.6" stroke="#2a2a2a" stroke-width="1.1"/>
<line x1="291.9" y1="277.2" x2="317.8" y2="271.2" stroke="#2a2a2a" stroke-width="1.1"/>
<line x1="296.5" y1="299.8" x2="324.4" y2="293.2" stroke="#2a2a2a" stroke-width="1.1"/>
<rect x="219.9" y="179.5" width="6.7" height="5.6" fill="#fff" stroke="#e2e2e2" stroke-width="0.5"/>
<text transform="translate(223.3,184.2) scale(0.82,1)" class="tl">21</text>
<rect x="247.3" y="179.5" width="6.7" height="5.6" fill="#fff" stroke="#e2e2e2" stroke-width="0.5"/>
<text transform="translate(250.7,184.2) scale(0.82,1)" class="tl">11</text>
<rect x="195.5" y="186.9" width="6.7" height="5.6" fill="#fff" stroke="#e2e2e2" stroke-width="0.5"/>
<text transform="translate(198.9,191.6) scale(0.82,1)" class="tl">22</text>
<rect x="273.3" y="186.2" width="6.7" height="5.6" fill="#fff" stroke="#e2e2e2" stroke-width="0.5"/>
<text transform="translate(276.7,190.9) scale(0.82,1)" class="tl">12</text>
<rect x="179.2" y="204.5" width="6.7" height="5.6" fill="#fff" stroke="#e2e2e2" stroke-width="0.5"/>
<text transform="translate(182.6,209.2) scale(0.82,1)" class="tl">23</text>
<rect x="167.9" y="221.1" width="6.7" height="5.6" fill="#fff" stroke="#e2e2e2" stroke-width="0.5"/>
<text transform="translate(171.3,225.8) scale(0.82,1)" class="tl">24</text>
<rect x="160.2" y="238.8" width="6.7" height="5.6" fill="#fff" stroke="#e2e2e2" stroke-width="0.5"/>
<text transform="translate(163.6,243.5) scale(0.82,1)" class="tl">25</text>
<rect x="152.6" y="259.8" width="6.7" height="5.6" fill="#fff" stroke="#e2e2e2" stroke-width="0.5"/>
<text transform="translate(156,264.5) scale(0.82,1)" class="tl">26</text>
<rect x="145.9" y="284.4" width="6.7" height="5.6" fill="#fff" stroke="#e2e2e2" stroke-width="0.5"/>
<text transform="translate(149.3,289.1) scale(0.82,1)" class="tl">27</text>
<rect x="289.9" y="202.1" width="6.7" height="5.6" fill="#fff" stroke="#e2e2e2" stroke-width="0.5"/>
<text transform="translate(293.3,206.8) scale(0.82,1)" class="tl">13</text>
<rect x="301.1" y="218.1" width="6.7" height="5.6" fill="#fff" stroke="#e2e2e2" stroke-width="0.5"/>
<text transform="translate(304.5,222.8) scale(0.82,1)" class="tl">14</text>
<rect x="309.4" y="234.1" width="6.7" height="5.6" fill="#fff" stroke="#e2e2e2" stroke-width="0.5"/>
<text transform="translate(312.8,238.8) scale(0.82,1)" class="tl">15</text>
<rect x="316.4" y="255.2" width="6.7" height="5.6" fill="#fff" stroke="#e2e2e2" stroke-width="0.5"/>
<text transform="translate(319.8,259.9) scale(0.82,1)" class="tl">16</text>
<rect x="323.7" y="279.1" width="6.7" height="5.6" fill="#fff" stroke="#e2e2e2" stroke-width="0.5"/>
<text transform="translate(327.1,283.8) scale(0.82,1)" class="tl">17</text>
<rect x="218.5" y="207.6" width="8.2" height="5.6" fill="#fff" stroke="#e2e2e2" stroke-width="0.5"/>
<text transform="translate(222.6,212.3) scale(0.82,1)" class="tl">0%</text>
<rect x="227.4" y="203.9" width="8.2" height="5.6" fill="#fff" stroke="#e2e2e2" stroke-width="0.5"/>
<text transform="translate(231.5,208.6) scale(0.82,1)" class="tl">1%</text>
<rect x="240" y="203.2" width="8.2" height="5.6" fill="#fff" stroke="#e2e2e2" stroke-width="0.5"/>
<text transform="translate(244.1,207.9) scale(0.82,1)" class="tl">2%</text>
<rect x="249.6" y="206.2" width="8.2" height="5.6" fill="#fff" stroke="#e2e2e2" stroke-width="0.5"/>
<text transform="translate(253.7,210.9) scale(0.82,1)" class="tl">0%</text>
<rect x="211.7" y="219.9" width="8.2" height="5.6" fill="#fff" stroke="#e2e2e2" stroke-width="0.5"/>
<text transform="translate(215.8,224.6) scale(0.82,1)" class="tl">4%</text>
<rect x="205.8" y="234.7" width="8.2" height="5.6" fill="#fff" stroke="#e2e2e2" stroke-width="0.5"/>
<text transform="translate(209.9,239.4) scale(0.82,1)" class="tl">5%</text>
<rect x="201" y="250.7" width="8.2" height="5.6" fill="#fff" stroke="#e2e2e2" stroke-width="0.5"/>
<text transform="translate(205.1,255.4) scale(0.82,1)" class="tl">2%</text>
<rect x="197.2" y="270.4" width="10.5" height="5.6" fill="#fff" stroke="#e2e2e2" stroke-width="0.5"/>
<text transform="translate(202.5,275.1) scale(0.82,1)" class="tl">27%</text>
<rect x="192.4" y="292.4" width="8.2" height="5.6" fill="#fff" stroke="#e2e2e2" stroke-width="0.5"/>
<text transform="translate(196.5,297.1) scale(0.82,1)" class="tl">9%</text>
<rect x="189.7" y="310.3" width="8.2" height="5.6" fill="#fff" stroke="#e2e2e2" stroke-width="0.5"/>
<text transform="translate(193.8,315) scale(0.82,1)" class="tl">0%</text>
<rect x="258.9" y="216.9" width="8.2" height="5.6" fill="#fff" stroke="#e2e2e2" stroke-width="0.5"/>
<text transform="translate(263,221.6) scale(0.82,1)" class="tl">6%</text>
<rect x="266" y="231.1" width="8.2" height="5.6" fill="#fff" stroke="#e2e2e2" stroke-width="0.5"/>
<text transform="translate(270.1,235.8) scale(0.82,1)" class="tl">5%</text>
<rect x="271.4" y="245.3" width="8.2" height="5.6" fill="#fff" stroke="#e2e2e2" stroke-width="0.5"/>
<text transform="translate(275.5,250) scale(0.82,1)" class="tl">1%</text>
<rect x="274.6" y="265.1" width="10.5" height="5.6" fill="#fff" stroke="#e2e2e2" stroke-width="0.5"/>
<text transform="translate(279.9,269.8) scale(0.82,1)" class="tl">20%</text>
<rect x="279.9" y="288.4" width="10.5" height="5.6" fill="#fff" stroke="#e2e2e2" stroke-width="0.5"/>
<text transform="translate(285.2,293.1) scale(0.82,1)" class="tl">14%</text>
<rect x="285.8" y="305.7" width="8.2" height="5.6" fill="#fff" stroke="#e2e2e2" stroke-width="0.5"/>
<text transform="translate(289.9,310.4) scale(0.82,1)" class="tl">3%</text>
<rect x="487.4" y="167" width="187" height="147.1" fill="#cacaca"/>
<path d="M548.4,167 L539.1,176 L530.1,186 L522.8,196 L517.3,206 L512.9,216 L508.4,226 L504.9,236 L501.4,246 L498.6,256 L495.9,266 L493.4,277 L491.2,288 L489.4,298 L488.2,308 L487.7,314.1 L672.1,314.1 L671.6,308 L670.4,298 L668.6,288 L666.4,277 L663.9,266 L661.2,256 L658.4,246 L654.9,236 L651.4,226 L646.9,216 L642.5,206 L637,196 L629.7,186 L620.7,176 L611.4,167Z" fill="#fff"/>
<polygon points="566.4,237 593.4,237 600.4,243.5 616.4,314.1 544.4,314.1 560.4,243.5" fill="#cacaca"/>
<g transform="translate(568.5,193.9) rotate(10)"><ellipse rx="5" ry="3.5" fill="#000088"/><ellipse rx="3.9" ry="2.4" fill="#0000ee"/></g>
<g transform="translate(582.6,190.9) rotate(-10)"><ellipse rx="5" ry="3" fill="#000088"/><ellipse rx="3.9" ry="1.9" fill="#0000ee"/></g>
<g transform="translate(595.9,195.6) rotate(0)"><ellipse rx="4.5" ry="1.5" fill="#000088"/><ellipse rx="3.4" ry="0.6" fill="#0000ee"/></g>
<g transform="translate(589.3,178.6) rotate(0)"><ellipse rx="0.8" ry="0.8" fill="#000088"/></g>
<g transform="translate(602.6,185.3) rotate(0)"><ellipse rx="0.8" ry="0.8" fill="#000088"/></g>
<g transform="translate(613,191.9) rotate(0)"><ellipse rx="0.9" ry="0.9" fill="#000088"/></g>
<g transform="translate(613,203.8) rotate(0)"><ellipse rx="1" ry="2.5" fill="#000088"/></g>
<g transform="translate(541.9,199.8) rotate(-20)"><ellipse rx="4" ry="2.5" fill="#000088"/><ellipse rx="2.9" ry="1.4" fill="#0000ee"/></g>
<g transform="translate(535.9,211.9) rotate(0)"><ellipse rx="3" ry="3" fill="#000088"/><ellipse rx="1.9" ry="1.9" fill="#0000ee"/></g>
<g transform="translate(622.6,213.4) rotate(-30)"><ellipse rx="4" ry="3" fill="#000088"/><ellipse rx="2.9" ry="1.9" fill="#0000ee"/></g>
<g transform="translate(541,199.6) rotate(0)"><ellipse rx="3.5" ry="3" fill="#000088"/><ellipse rx="2.4" ry="1.9" fill="#0000ee"/></g>
<clipPath id="bp14"><path d="M536.2,208.4 C536.8,208.5 538.1,209.3 538.6,210.2 C539.1,211.1 539.4,212.8 539.2,213.8 C539,214.8 538.2,215.6 537.4,216.1 C536.6,216.6 535.2,216.2 534.4,216.7 C533.6,217.2 533.5,218.6 532.7,219.1 C531.9,219.6 530.5,219.9 529.7,219.7 C528.9,219.5 528.1,218.7 527.9,217.9 C527.7,217.1 527.9,215.7 528.5,215 C529.1,214.3 530.6,214.2 531.5,213.8 C532.4,213.4 533.3,213.3 533.9,212.6 C534.5,211.9 534.6,210.3 535,209.6 C535.4,208.9 535.6,208.3 536.2,208.4Z"/></clipPath><path d="M536.2,208.4 C536.8,208.5 538.1,209.3 538.6,210.2 C539.1,211.1 539.4,212.8 539.2,213.8 C539,214.8 538.2,215.6 537.4,216.1 C536.6,216.6 535.2,216.2 534.4,216.7 C533.6,217.2 533.5,218.6 532.7,219.1 C531.9,219.6 530.5,219.9 529.7,219.7 C528.9,219.5 528.1,218.7 527.9,217.9 C527.7,217.1 527.9,215.7 528.5,215 C529.1,214.3 530.6,214.2 531.5,213.8 C532.4,213.4 533.3,213.3 533.9,212.6 C534.5,211.9 534.6,210.3 535,209.6 C535.4,208.9 535.6,208.3 536.2,208.4Z" fill="#0000e4" stroke="#00008a" stroke-width="3.6" stroke-linejoin="round" clip-path="url(#bp14)"/>
<clipPath id="bp15"><path d="M519,228 C520.2,227.6 523.1,227.1 525.6,227 C528.1,226.9 532.1,227.1 533.9,227.4 C535.7,227.7 536.2,228.1 536.2,228.6 C536.2,229.1 535.3,230.1 533.9,230.4 C532.5,230.7 529.1,230 527.9,230.6 C526.7,231.2 526.7,232.8 526.7,233.9 C526.7,235 527.5,236 527.9,236.9 C528.3,237.8 529.3,238.7 529.1,239.3 C528.9,240 527.9,240.6 526.7,240.8 C525.5,241 523.3,240.7 522,240.4 C520.7,240.2 519.6,239.9 519,239.3 C518.4,238.7 518,237.6 518.4,236.9 C518.8,236.2 520.5,235.7 521.4,235.1 C522.3,234.5 523.3,234 523.8,233.3 C524.3,232.6 525,231.5 524.4,231 C523.8,230.5 521.2,230.7 520.2,230.4 C519.2,230.1 518.6,229.8 518.4,229.4 C518.2,229 517.8,228.4 519,228Z"/></clipPath><path d="M519,228 C520.2,227.6 523.1,227.1 525.6,227 C528.1,226.9 532.1,227.1 533.9,227.4 C535.7,227.7 536.2,228.1 536.2,228.6 C536.2,229.1 535.3,230.1 533.9,230.4 C532.5,230.7 529.1,230 527.9,230.6 C526.7,231.2 526.7,232.8 526.7,233.9 C526.7,235 527.5,236 527.9,236.9 C528.3,237.8 529.3,238.7 529.1,239.3 C528.9,240 527.9,240.6 526.7,240.8 C525.5,241 523.3,240.7 522,240.4 C520.7,240.2 519.6,239.9 519,239.3 C518.4,238.7 518,237.6 518.4,236.9 C518.8,236.2 520.5,235.7 521.4,235.1 C522.3,234.5 523.3,234 523.8,233.3 C524.3,232.6 525,231.5 524.4,231 C523.8,230.5 521.2,230.7 520.2,230.4 C519.2,230.1 518.6,229.8 518.4,229.4 C518.2,229 517.8,228.4 519,228Z" fill="#0000e4" stroke="#00008a" stroke-width="3.6" stroke-linejoin="round" clip-path="url(#bp15)"/>
<g transform="translate(523.8,238.6) rotate(0)"><ellipse rx="1.8" ry="1.2" fill="#00c8f0"/></g>
<g transform="translate(516.7,245.5) rotate(0)"><ellipse rx="3" ry="1.5" fill="#000088"/><ellipse rx="1.9" ry="0.6" fill="#0000ee"/></g>
<g transform="translate(535,245.2) rotate(0)"><ellipse rx="0.8" ry="0.8" fill="#000088"/></g>
<g transform="translate(516.9,259.3) rotate(0)"><ellipse rx="2.5" ry="1.3" fill="#000088"/></g>
<g transform="translate(530.9,264.6) rotate(-30)"><ellipse rx="6" ry="5" fill="#000088"/><ellipse rx="4.9" ry="3.9" fill="#0000ee"/></g>
<g transform="translate(531.5,264.8) rotate(0)"><ellipse rx="1.5" ry="1.2" fill="#000088"/></g>
<clipPath id="bp16"><path d="M510.3,267.3 C511.1,266.2 511.8,264.9 512.9,264.6 C514,264.3 515.9,264.6 516.9,265.3 C517.9,266 518.6,267.4 518.9,268.6 C519.2,269.8 517.6,271.6 518.5,272.5 C519.4,273.4 522.1,273.7 524.2,273.9 C526.3,274.1 529,273.6 530.9,273.9 C532.8,274.2 535.1,275 535.5,275.9 C535.9,276.8 534.9,278.8 533.5,279.2 C532.1,279.6 528.9,278.8 526.9,278.6 C524.9,278.4 523.3,277.8 521.6,277.9 C519.9,278 518.4,279.1 516.9,279.2 C515.4,279.3 513.9,279 512.6,278.5 C511.3,278 510,277.2 509.3,276 C508.6,274.8 508.1,272.9 508.3,271.5 C508.5,270.1 509.5,268.4 510.3,267.3Z"/></clipPath><path d="M510.3,267.3 C511.1,266.2 511.8,264.9 512.9,264.6 C514,264.3 515.9,264.6 516.9,265.3 C517.9,266 518.6,267.4 518.9,268.6 C519.2,269.8 517.6,271.6 518.5,272.5 C519.4,273.4 522.1,273.7 524.2,273.9 C526.3,274.1 529,273.6 530.9,273.9 C532.8,274.2 535.1,275 535.5,275.9 C535.9,276.8 534.9,278.8 533.5,279.2 C532.1,279.6 528.9,278.8 526.9,278.6 C524.9,278.4 523.3,277.8 521.6,277.9 C519.9,278 518.4,279.1 516.9,279.2 C515.4,279.3 513.9,279 512.6,278.5 C511.3,278 510,277.2 509.3,276 C508.6,274.8 508.1,272.9 508.3,271.5 C508.5,270.1 509.5,268.4 510.3,267.3Z" fill="#0000e4" stroke="#00008a" stroke-width="3.6" stroke-linejoin="round" clip-path="url(#bp16)"/>
<g transform="translate(514,270) rotate(0)"><ellipse rx="3" ry="3.5" fill="#0048ff"/><ellipse rx="1.9" ry="2.2" fill="#00c8f0"/><ellipse rx="1.2" ry="1.3" fill="#40f080"/><ellipse rx="0.7" ry="0.8" fill="#f0f000"/></g>
<g transform="translate(513.5,272.5) rotate(0)"><ellipse rx="1.5" ry="1.5" fill="#ff00c0"/></g>
<g transform="translate(515,267.5) rotate(0)"><ellipse rx="1.2" ry="1.2" fill="#f0f000"/></g>
<clipPath id="bp17"><path d="M507.6,282 C508.3,281.3 509.6,280.7 511,280.8 C512.4,280.9 514.3,282.1 516,282.5 C517.7,282.9 519.5,282.7 521,283 C522.5,283.3 523.8,283.7 525,284.5 C526.2,285.3 527.7,286.6 528.5,288 C529.3,289.4 529.8,291.2 530,293 C530.2,294.8 530,297.5 529.5,298.5 C529,299.5 527.7,299.6 526.9,298.8 C526.1,298.1 525.5,295.6 524.5,294 C523.5,292.4 522.4,290.1 521,289 C519.6,287.9 517.7,287.7 516.2,287.6 C514.7,287.5 513.3,288.5 512,288.5 C510.7,288.5 509.4,288.1 508.5,287.5 C507.6,286.9 507,285.9 506.9,285 C506.8,284.1 506.9,282.7 507.6,282Z"/></clipPath><path d="M507.6,282 C508.3,281.3 509.6,280.7 511,280.8 C512.4,280.9 514.3,282.1 516,282.5 C517.7,282.9 519.5,282.7 521,283 C522.5,283.3 523.8,283.7 525,284.5 C526.2,285.3 527.7,286.6 528.5,288 C529.3,289.4 529.8,291.2 530,293 C530.2,294.8 530,297.5 529.5,298.5 C529,299.5 527.7,299.6 526.9,298.8 C526.1,298.1 525.5,295.6 524.5,294 C523.5,292.4 522.4,290.1 521,289 C519.6,287.9 517.7,287.7 516.2,287.6 C514.7,287.5 513.3,288.5 512,288.5 C510.7,288.5 509.4,288.1 508.5,287.5 C507.6,286.9 507,285.9 506.9,285 C506.8,284.1 506.9,282.7 507.6,282Z" fill="#0000e4" stroke="#00008a" stroke-width="3.6" stroke-linejoin="round" clip-path="url(#bp17)"/>
<g transform="translate(511,284.5) rotate(0)"><ellipse rx="0.9" ry="0.9" fill="#ff2000"/></g>
<g transform="translate(525.5,289.5) rotate(0)"><ellipse rx="1" ry="1" fill="#00c8f0"/></g>
<g transform="translate(508.9,298.5) rotate(0)"><ellipse rx="1.5" ry="2" fill="#000088"/><ellipse rx="0.6" ry="0.9" fill="#0000ee"/></g>
<g transform="translate(612.7,203.7) rotate(0)"><ellipse rx="1.5" ry="3" fill="#000088"/><ellipse rx="0.6" ry="1.9" fill="#0000ee"/></g>
<g transform="translate(621.6,216.1) rotate(-30)"><ellipse rx="7" ry="3.5" fill="#000088"/><ellipse rx="5.9" ry="2.4" fill="#0000ee"/><ellipse rx="3.5" ry="1.8" fill="#0048ff"/></g>
<g transform="translate(626.4,228.6) rotate(0)"><ellipse rx="0.8" ry="0.8" fill="#000088"/></g>
<g transform="translate(638.2,251.7) rotate(0)"><ellipse rx="6" ry="2" fill="#000088"/><ellipse rx="4.9" ry="0.9" fill="#0000ee"/><ellipse rx="3" ry="1" fill="#0048ff"/><ellipse rx="2" ry="0.7" fill="#00b8f0"/></g>
<g transform="translate(645.3,249.3) rotate(40)"><ellipse rx="1.5" ry="3" fill="#000088"/><ellipse rx="0.6" ry="1.9" fill="#0000ee"/></g>
<g transform="translate(637.5,252) rotate(0)"><ellipse rx="5" ry="2" fill="#000088"/><ellipse rx="3.9" ry="0.9" fill="#0000ee"/><ellipse rx="2.5" ry="1" fill="#0048ff"/><ellipse rx="1.7" ry="0.7" fill="#00b8f0"/></g>
<g transform="translate(638.9,259.3) rotate(0)"><ellipse rx="6" ry="2" fill="#000088"/><ellipse rx="4.9" ry="0.9" fill="#0000ee"/><ellipse rx="3" ry="1" fill="#0048ff"/><ellipse rx="2" ry="0.7" fill="#00b8f0"/></g>
<g transform="translate(649.5,262) rotate(30)"><ellipse rx="4" ry="1.5" fill="#000088"/><ellipse rx="2.9" ry="0.6" fill="#0000ee"/></g>
<clipPath id="bp18"><path d="M639.8,268.9 C640,268.1 641.2,266.4 642,266 C642.8,265.6 644,266.1 644.8,266.7 C645.6,267.3 647.1,268.9 647,269.6 C646.9,270.3 645.2,270.8 644.1,271 C643,271.2 641.2,271 640.5,270.6 C639.8,270.2 639.5,269.7 639.8,268.9Z"/></clipPath><path d="M639.8,268.9 C640,268.1 641.2,266.4 642,266 C642.8,265.6 644,266.1 644.8,266.7 C645.6,267.3 647.1,268.9 647,269.6 C646.9,270.3 645.2,270.8 644.1,271 C643,271.2 641.2,271 640.5,270.6 C639.8,270.2 639.5,269.7 639.8,268.9Z" fill="#0000e4" stroke="#00008a" stroke-width="3.6" stroke-linejoin="round" clip-path="url(#bp18)"/>
<g transform="translate(642.5,268.5) rotate(0)"><ellipse rx="1.2" ry="0.8" fill="#0048ff"/></g>
<clipPath id="bp19"><path d="M642.7,275.4 C643.3,274.4 645,272.9 646.3,272.5 C647.6,272.1 649.3,272.6 650.6,273.2 C651.9,273.8 653.2,275 654.2,276.1 C655.2,277.2 656.3,278.6 656.4,279.7 C656.5,280.8 655.3,281.5 654.9,282.6 C654.5,283.7 654,285.1 654.2,286.2 C654.5,287.3 656.3,288.5 656.4,289.1 C656.5,289.7 655.5,290.1 654.9,289.8 C654.3,289.6 653.8,288.6 652.8,287.6 C651.8,286.6 650.3,284.7 649.2,284 C648.1,283.3 647,283.9 646.3,283.3 C645.6,282.7 645.4,281.2 644.8,280.4 C644.2,279.5 643.1,279 642.7,278.2 C642.4,277.4 642.1,276.3 642.7,275.4Z"/></clipPath><path d="M642.7,275.4 C643.3,274.4 645,272.9 646.3,272.5 C647.6,272.1 649.3,272.6 650.6,273.2 C651.9,273.8 653.2,275 654.2,276.1 C655.2,277.2 656.3,278.6 656.4,279.7 C656.5,280.8 655.3,281.5 654.9,282.6 C654.5,283.7 654,285.1 654.2,286.2 C654.5,287.3 656.3,288.5 656.4,289.1 C656.5,289.7 655.5,290.1 654.9,289.8 C654.3,289.6 653.8,288.6 652.8,287.6 C651.8,286.6 650.3,284.7 649.2,284 C648.1,283.3 647,283.9 646.3,283.3 C645.6,282.7 645.4,281.2 644.8,280.4 C644.2,279.5 643.1,279 642.7,278.2 C642.4,277.4 642.1,276.3 642.7,275.4Z" fill="#0000e4" stroke="#00008a" stroke-width="3.6" stroke-linejoin="round" clip-path="url(#bp19)"/>
<g transform="translate(651,279.5) rotate(-30)"><ellipse rx="4" ry="1" fill="#00c8f0"/></g>
<g transform="translate(647.5,275.5) rotate(0)"><ellipse rx="1.5" ry="1" fill="#00c8f0"/></g>
<g transform="translate(655.5,288.5) rotate(0)"><ellipse rx="1.5" ry="2.5" fill="#000088"/><ellipse rx="0.6" ry="1.4" fill="#0000ee"/></g>
<g transform="translate(654.8,299.2) rotate(0)"><ellipse rx="2.5" ry="1.5" fill="#000088"/><ellipse rx="1.4" ry="0.6" fill="#0000ee"/></g>
<text transform="translate(488.4,172.9) scale(0.84,1)" class="tiny">Left Side</text>
<text transform="translate(672.4,172.9) scale(0.84,1)" class="tiny" text-anchor="end">centric relation</text>
<path d="M499.6,296.5 C500.6,291.9 504,275.4 505.6,268.6 C507.2,261.9 508.1,259.2 509,256 C509.9,252.8 509.8,253.4 511.3,249.3 C512.8,245.2 515.5,237.5 517.9,231.6 C520.3,225.7 523.6,219.4 525.6,213.8 C527.6,208.2 527.3,202.4 530,197.9 C532.7,193.4 537.2,190 541.9,186.7 C546.6,183.4 551.7,179.8 558.1,177.9 C564.5,176.1 573,175.7 580.4,175.6 C587.8,175.5 596.2,175.7 602.6,177.1 C609,178.5 614.8,181.2 618.9,183.8 C623,186.5 624.6,189 627,193 C629.4,197 631.2,202.8 633.5,207.9 C635.8,213 638.4,218 640.6,223.3 C642.8,228.6 644.6,235.1 646.5,239.9 C648.4,244.7 650.2,247.4 652.2,252 C654.2,256.6 656.9,259.7 658.8,267.3 C660.7,274.9 662.6,292.7 663.4,297.8" fill="none" stroke="#d8d038" stroke-width="1.25"/>
<path d="M663.4,297.8 C663.1,298.6 663,301.3 661.4,302.5 C659.8,303.7 656.4,304.8 653.5,305.1 C650.6,305.4 646.5,305.5 644.2,304.5 C641.9,303.5 640.3,300.1 639.5,299.2" fill="none" stroke="#d8d038" stroke-width="1.25"/>
<path d="M639.5,299.2 C638.6,294.8 636,279.8 634.2,272.6 C632.4,265.4 630.2,260.9 628.7,256 C627.2,251.1 626.6,247.9 625.2,243.4 C623.8,238.9 622.4,233.9 620.4,229.2 C618.4,224.5 616,219.2 613.3,215 C610.5,210.8 606.7,206.9 603.9,204.3 C601.1,201.7 600.6,200.4 596.7,199.3 C592.8,198.2 584.9,197.9 580.4,197.9 C575.9,197.9 573,198.7 570,199.6 C567,200.5 564.6,201.1 562.3,203.1 C560,205.1 558.6,207.4 556.4,211.4 C554.2,215.4 551.3,221.9 549.3,226.8 C547.3,231.7 545.8,236.5 544.5,241 C543.2,245.5 542.9,248.3 541.5,254 C540.1,259.7 537.8,267.7 536.2,275.2 C534.7,282.7 532.9,295.2 532.2,299.2" fill="none" stroke="#d8d038" stroke-width="1.25"/>
<path d="M532.2,299.2 C531.5,300.1 530.2,303.2 528.2,304.5 C526.2,305.8 523.1,306.8 520.2,307.1 C517.3,307.4 514,307.3 510.9,306.5 C507.8,305.7 503.5,304.2 501.6,302.5 C499.7,300.8 499.9,297.5 499.6,296.5" fill="none" stroke="#d8d038" stroke-width="1.25"/>
<path d="M510.9,300.5 C511.8,295.6 514.4,278.9 516.2,271.2 C518,263.4 520,259.6 521.5,254 C523,248.4 523.5,242.4 525,237.5 C526.5,232.6 528.2,229.2 530.3,224.4 C532.4,219.7 534.2,213.3 537.4,209 C540.6,204.7 544.4,202.2 549.3,198.6 C554.2,195 561.8,189.7 567,187.5 C572.2,185.3 575,185.4 580.4,185.3 C585.8,185.2 593.7,185.1 599.6,186.7 C605.5,188.3 611.6,191.2 615.9,194.9 C620.2,198.6 622.5,204.1 625.2,209 C627.9,213.9 630.3,219.5 632.3,224.4 C634.3,229.3 635.5,233.8 637,238.7 C638.5,243.6 639.8,248.8 641.5,254 C643.2,259.2 645.3,262.4 647.5,269.9 C649.7,277.4 653.6,294.3 654.8,299.2" fill="none" stroke="#d8d038" stroke-width="1.25"/>
<path d="M496.3,313.8 L510.3,314.4" fill="none" stroke="#d8d038" stroke-width="1.25"/>
<path d="M641.5,311.1 L665.4,309.8" fill="none" stroke="#d8d038" stroke-width="1.25"/>
<line x1="580.4" y1="171.9" x2="580.4" y2="198.6" stroke="#2a2a2a" stroke-width="1.1"/>
<line x1="558.1" y1="177.9" x2="563.5" y2="202.5" stroke="#2a2a2a" stroke-width="1.1"/>
<line x1="604.1" y1="178.6" x2="599.6" y2="202.3" stroke="#2a2a2a" stroke-width="1.1"/>
<line x1="538.9" y1="191.9" x2="558.1" y2="207.5" stroke="#2a2a2a" stroke-width="1.1"/>
<line x1="623.3" y1="192.7" x2="607" y2="206.7" stroke="#2a2a2a" stroke-width="1.1"/>
<line x1="526.7" y1="210.8" x2="550.4" y2="222.1" stroke="#2a2a2a" stroke-width="1.1"/>
<line x1="518.4" y1="228" x2="545.1" y2="237.5" stroke="#2a2a2a" stroke-width="1.1"/>
<line x1="513.7" y1="245.2" x2="541.5" y2="253.3" stroke="#2a2a2a" stroke-width="1.1"/>
<line x1="505.6" y1="270.6" x2="536.2" y2="277.2" stroke="#2a2a2a" stroke-width="1.1"/>
<line x1="499.6" y1="295.8" x2="532.2" y2="299.2" stroke="#2a2a2a" stroke-width="1.1"/>
<line x1="615.7" y1="219.7" x2="634.7" y2="209.6" stroke="#2a2a2a" stroke-width="1.1"/>
<line x1="623.4" y1="234.5" x2="642.4" y2="227.1" stroke="#2a2a2a" stroke-width="1.1"/>
<line x1="628.1" y1="248.1" x2="648.3" y2="242.2" stroke="#2a2a2a" stroke-width="1.1"/>
<line x1="634.2" y1="273.2" x2="655.5" y2="267.9" stroke="#2a2a2a" stroke-width="1.1"/>
<line x1="639.5" y1="294.5" x2="660.8" y2="291.2" stroke="#2a2a2a" stroke-width="1.1"/>
<rect x="562.9" y="172.1" width="6.7" height="5.6" fill="#fff" stroke="#e2e2e2" stroke-width="0.5"/>
<text transform="translate(566.3,176.8) scale(0.82,1)" class="tl">21</text>
<rect x="591" y="172.1" width="6.7" height="5.6" fill="#fff" stroke="#e2e2e2" stroke-width="0.5"/>
<text transform="translate(594.4,176.8) scale(0.82,1)" class="tl">11</text>
<rect x="537" y="179.5" width="6.7" height="5.6" fill="#fff" stroke="#e2e2e2" stroke-width="0.5"/>
<text transform="translate(540.4,184.2) scale(0.82,1)" class="tl">22</text>
<rect x="617.7" y="179.5" width="6.7" height="5.6" fill="#fff" stroke="#e2e2e2" stroke-width="0.5"/>
<text transform="translate(621.1,184.2) scale(0.82,1)" class="tl">12</text>
<rect x="522.2" y="198.5" width="6.7" height="5.6" fill="#fff" stroke="#e2e2e2" stroke-width="0.5"/>
<text transform="translate(525.6,203.2) scale(0.82,1)" class="tl">23</text>
<rect x="512.1" y="216.7" width="6.7" height="5.6" fill="#fff" stroke="#e2e2e2" stroke-width="0.5"/>
<text transform="translate(515.5,221.4) scale(0.82,1)" class="tl">24</text>
<rect x="505" y="233.5" width="6.7" height="5.6" fill="#fff" stroke="#e2e2e2" stroke-width="0.5"/>
<text transform="translate(508.4,238.2) scale(0.82,1)" class="tl">25</text>
<rect x="498.9" y="255.2" width="6.7" height="5.6" fill="#fff" stroke="#e2e2e2" stroke-width="0.5"/>
<text transform="translate(502.3,259.9) scale(0.82,1)" class="tl">26</text>
<rect x="492.2" y="280.4" width="6.7" height="5.6" fill="#fff" stroke="#e2e2e2" stroke-width="0.5"/>
<text transform="translate(495.6,285.1) scale(0.82,1)" class="tl">27</text>
<rect x="486.9" y="301.7" width="6.7" height="5.6" fill="#fff" stroke="#e2e2e2" stroke-width="0.5"/>
<text transform="translate(490.3,306.4) scale(0.82,1)" class="tl">28</text>
<rect x="632.5" y="197.9" width="6.7" height="5.6" fill="#fff" stroke="#e2e2e2" stroke-width="0.5"/>
<text transform="translate(635.9,202.6) scale(0.82,1)" class="tl">13</text>
<rect x="641.9" y="215.7" width="6.7" height="5.6" fill="#fff" stroke="#e2e2e2" stroke-width="0.5"/>
<text transform="translate(645.3,220.4) scale(0.82,1)" class="tl">14</text>
<rect x="649" y="231.7" width="6.7" height="5.6" fill="#fff" stroke="#e2e2e2" stroke-width="0.5"/>
<text transform="translate(652.4,236.4) scale(0.82,1)" class="tl">15</text>
<rect x="655.4" y="252.5" width="6.7" height="5.6" fill="#fff" stroke="#e2e2e2" stroke-width="0.5"/>
<text transform="translate(658.8,257.2) scale(0.82,1)" class="tl">16</text>
<rect x="662" y="276.4" width="6.7" height="5.6" fill="#fff" stroke="#e2e2e2" stroke-width="0.5"/>
<text transform="translate(665.4,281.1) scale(0.82,1)" class="tl">17</text>
<rect x="666.7" y="297" width="6.7" height="5.6" fill="#fff" stroke="#e2e2e2" stroke-width="0.5"/>
<text transform="translate(670.1,301.7) scale(0.82,1)" class="tl">18</text>
<rect x="562.9" y="205.4" width="8.2" height="5.6" fill="#fff" stroke="#e2e2e2" stroke-width="0.5"/>
<text transform="translate(567,210.1) scale(0.82,1)" class="tl">0%</text>
<rect x="571.1" y="200.2" width="8.2" height="5.6" fill="#fff" stroke="#e2e2e2" stroke-width="0.5"/>
<text transform="translate(575.2,204.9) scale(0.82,1)" class="tl">2%</text>
<rect x="582.2" y="200.2" width="8.2" height="5.6" fill="#fff" stroke="#e2e2e2" stroke-width="0.5"/>
<text transform="translate(586.3,204.9) scale(0.82,1)" class="tl">3%</text>
<rect x="591.1" y="204.7" width="8.2" height="5.6" fill="#fff" stroke="#e2e2e2" stroke-width="0.5"/>
<text transform="translate(595.2,209.4) scale(0.82,1)" class="tl">1%</text>
<rect x="557.6" y="214.5" width="8.2" height="5.6" fill="#fff" stroke="#e2e2e2" stroke-width="0.5"/>
<text transform="translate(561.7,219.2) scale(0.82,1)" class="tl">3%</text>
<rect x="550.5" y="228.8" width="8.2" height="5.6" fill="#fff" stroke="#e2e2e2" stroke-width="0.5"/>
<text transform="translate(554.6,233.5) scale(0.82,1)" class="tl">4%</text>
<rect x="546.3" y="244.8" width="8.2" height="5.6" fill="#fff" stroke="#e2e2e2" stroke-width="0.5"/>
<text transform="translate(550.4,249.5) scale(0.82,1)" class="tl">7%</text>
<rect x="541.5" y="265.1" width="10.5" height="5.6" fill="#fff" stroke="#e2e2e2" stroke-width="0.5"/>
<text transform="translate(546.8,269.8) scale(0.82,1)" class="tl">23%</text>
<rect x="537.5" y="288.4" width="10.5" height="5.6" fill="#fff" stroke="#e2e2e2" stroke-width="0.5"/>
<text transform="translate(542.8,293.1) scale(0.82,1)" class="tl">23%</text>
<rect x="534.1" y="307" width="8.2" height="5.6" fill="#fff" stroke="#e2e2e2" stroke-width="0.5"/>
<text transform="translate(538.2,311.7) scale(0.82,1)" class="tl">1%</text>
<rect x="599.2" y="212.8" width="8.2" height="5.6" fill="#fff" stroke="#e2e2e2" stroke-width="0.5"/>
<text transform="translate(603.3,217.5) scale(0.82,1)" class="tl">2%</text>
<rect x="607.5" y="226.4" width="8.2" height="5.6" fill="#fff" stroke="#e2e2e2" stroke-width="0.5"/>
<text transform="translate(611.6,231.1) scale(0.82,1)" class="tl">5%</text>
<rect x="613.4" y="241.2" width="8.2" height="5.6" fill="#fff" stroke="#e2e2e2" stroke-width="0.5"/>
<text transform="translate(617.5,245.9) scale(0.82,1)" class="tl">0%</text>
<rect x="616.9" y="260.5" width="10.5" height="5.6" fill="#fff" stroke="#e2e2e2" stroke-width="0.5"/>
<text transform="translate(622.2,265.2) scale(0.82,1)" class="tl">11%</text>
<rect x="622.3" y="283.1" width="10.5" height="5.6" fill="#fff" stroke="#e2e2e2" stroke-width="0.5"/>
<text transform="translate(627.6,287.8) scale(0.82,1)" class="tl">15%</text>
<rect x="628.8" y="302.3" width="8.2" height="5.6" fill="#fff" stroke="#e2e2e2" stroke-width="0.5"/>
<text transform="translate(632.9,307) scale(0.82,1)" class="tl">1%</text>
<ellipse cx="531.8" cy="264.8" rx="0.9" ry="0.8" fill="#40f060"/>
<rect x="145" y="314.1" width="187" height="8" fill="#fff"/>
<rect x="487.4" y="314.1" width="188" height="8" fill="#fff"/>
<text x="27.4" y="351.4" class="pl">e</text>
<line x1="75.6" y1="355.2" x2="75.6" y2="510.2" stroke="#bfbfbf" stroke-width="1"/>
<line x1="72.1" y1="510.2" x2="320.5" y2="510.2" stroke="#d0d0d0" stroke-width="1"/>
<line x1="72.1" y1="510.2" x2="77.6" y2="510.2" stroke="#bfbfbf" stroke-width="1"/>
<text x="61.6" y="513.6" class="ax" text-anchor="end">0.00</text>
<line x1="72.1" y1="471.4" x2="77.6" y2="471.4" stroke="#bfbfbf" stroke-width="1"/>
<text x="61.6" y="474.8" class="ax" text-anchor="end">0.10</text>
<line x1="72.1" y1="432.7" x2="77.6" y2="432.7" stroke="#bfbfbf" stroke-width="1"/>
<text x="61.6" y="436.1" class="ax" text-anchor="end">0.20</text>
<line x1="72.1" y1="393.9" x2="77.6" y2="393.9" stroke="#bfbfbf" stroke-width="1"/>
<text x="61.6" y="397.3" class="ax" text-anchor="end">0.30</text>
<line x1="72.1" y1="355.2" x2="77.6" y2="355.2" stroke="#bfbfbf" stroke-width="1"/>
<text x="61.6" y="358.6" class="ax" text-anchor="end">0.40</text>
<rect x="100.2" y="482.3" width="32.6" height="27.9" fill="#70ad47"/>
<line x1="116.5" y1="448.2" x2="116.5" y2="482.3" stroke="#7f7f7f" stroke-width="1"/>
<line x1="114" y1="448.2" x2="119" y2="448.2" stroke="#7f7f7f" stroke-width="1"/>
<text x="116.5" y="526.5" class="cat">FGP</text>
<rect x="181.7" y="461.4" width="32.6" height="48.8" fill="#70ad47"/>
<line x1="198" y1="437.4" x2="198" y2="461.4" stroke="#7f7f7f" stroke-width="1"/>
<line x1="195.5" y1="437.4" x2="200.5" y2="437.4" stroke="#7f7f7f" stroke-width="1"/>
<text x="198" y="526.5" class="cat">AVR</text>
<rect x="263.2" y="425.7" width="32.6" height="84.5" fill="#70ad47"/>
<line x1="279.5" y1="385.4" x2="279.5" y2="425.7" stroke="#7f7f7f" stroke-width="1"/>
<line x1="277" y1="385.4" x2="282" y2="385.4" stroke="#7f7f7f" stroke-width="1"/>
<text x="279.5" y="526.5" class="cat">CON</text>
<path d="M108.8,377 V372 H279.5 V377" fill="none" stroke="#c0c0c0" stroke-width="1.2"/>
<text x="186.8" y="375.4" font-size="22" font-weight="bold" text-anchor="middle">*</text>
<text transform="translate(38.2,433.2) rotate(-90)" class="ax" style="font-size:10.8px" text-anchor="middle"><tspan style="font-weight:normal">Δ</tspan>OT (s)</text>
<text x="349" y="351.3" class="pl">f</text>
<line x1="405.5" y1="354.2" x2="405.5" y2="510.2" stroke="#bfbfbf" stroke-width="1"/>
<line x1="402" y1="510.2" x2="650.3" y2="510.2" stroke="#d0d0d0" stroke-width="1"/>
<line x1="402" y1="510.2" x2="407.5" y2="510.2" stroke="#bfbfbf" stroke-width="1"/>
<text x="391.5" y="513.6" class="ax" text-anchor="end">0.00</text>
<line x1="402" y1="479" x2="407.5" y2="479" stroke="#bfbfbf" stroke-width="1"/>
<text x="391.5" y="482.4" class="ax" text-anchor="end">0.40</text>
<line x1="402" y1="447.8" x2="407.5" y2="447.8" stroke="#bfbfbf" stroke-width="1"/>
<text x="391.5" y="451.2" class="ax" text-anchor="end">0.80</text>
<line x1="402" y1="416.6" x2="407.5" y2="416.6" stroke="#bfbfbf" stroke-width="1"/>
<text x="391.5" y="420" class="ax" text-anchor="end">1.20</text>
<line x1="402" y1="385.4" x2="407.5" y2="385.4" stroke="#bfbfbf" stroke-width="1"/>
<text x="391.5" y="388.8" class="ax" text-anchor="end">1.60</text>
<line x1="402" y1="354.2" x2="407.5" y2="354.2" stroke="#bfbfbf" stroke-width="1"/>
<text x="391.5" y="357.6" class="ax" text-anchor="end">2.00</text>
<rect x="430" y="504" width="32.6" height="6.2" fill="#5b9bd5"/>
<line x1="446.3" y1="457.2" x2="446.3" y2="504" stroke="#7f7f7f" stroke-width="1"/>
<line x1="443.8" y1="457.2" x2="448.8" y2="457.2" stroke="#7f7f7f" stroke-width="1"/>
<text x="446.3" y="526.5" class="cat">FGP</text>
<rect x="511.1" y="472.8" width="32.6" height="37.4" fill="#5b9bd5"/>
<line x1="527.4" y1="426.7" x2="527.4" y2="472.8" stroke="#7f7f7f" stroke-width="1"/>
<line x1="524.9" y1="426.7" x2="529.9" y2="426.7" stroke="#7f7f7f" stroke-width="1"/>
<text x="527.4" y="526.5" class="cat">AVR</text>
<rect x="593" y="431.4" width="32.6" height="78.8" fill="#5b9bd5"/>
<line x1="609.3" y1="377.6" x2="609.3" y2="431.4" stroke="#7f7f7f" stroke-width="1"/>
<line x1="606.8" y1="377.6" x2="611.8" y2="377.6" stroke="#7f7f7f" stroke-width="1"/>
<text x="609.3" y="526.5" class="cat">CON</text>
<path d="M436.5,373 V368 H609.3 V373" fill="none" stroke="#c0c0c0" stroke-width="1.2"/>
<text x="523" y="371.4" font-size="22" font-weight="bold" text-anchor="middle">*</text>
<text transform="translate(368.1,433.2) rotate(-90)" class="ax" style="font-size:10.8px" text-anchor="middle"><tspan style="font-weight:normal">Δ</tspan>DT (s)</text>
</svg></body></html>
